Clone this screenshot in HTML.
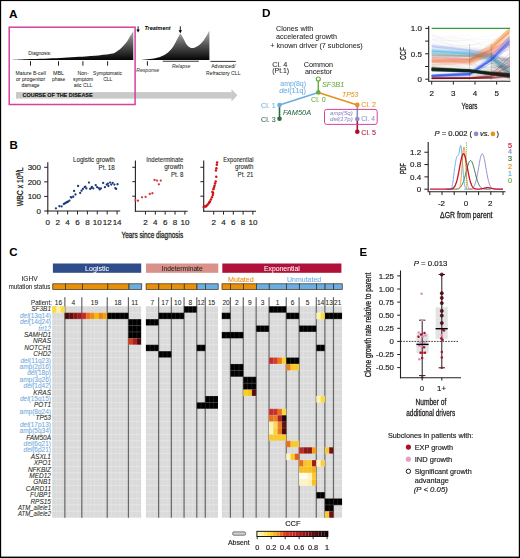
<!DOCTYPE html>
<html><head><meta charset="utf-8"><style>
html,body{margin:0;padding:0;background:#fff;}
svg{display:block;font-family:"Liberation Sans", sans-serif;}
</style></head><body>
<svg width="520" height="558" viewBox="0 0 520 558">
<defs>
<linearGradient id="gA" x1="0" y1="0" x2="0" y2="1"><stop offset="0" stop-color="#b4b4b4"/><stop offset="1" stop-color="#000"/></linearGradient>
<linearGradient id="gA2" gradientUnits="userSpaceOnUse" x1="0" y1="30" x2="0" y2="60"><stop offset="0" stop-color="#b4b4b4"/><stop offset="0.5" stop-color="#555"/><stop offset="1" stop-color="#050505"/></linearGradient>
<linearGradient id="ccfbar" x1="0" y1="0" x2="1" y2="0"><stop offset="0" stop-color="#fffbe0"/><stop offset="0.12" stop-color="#fde24a"/><stop offset="0.3" stop-color="#f39a1c"/><stop offset="0.5" stop-color="#d6332b"/><stop offset="0.75" stop-color="#8c1010"/><stop offset="1" stop-color="#000"/></linearGradient>
<filter id="bl" x="-20%" y="-20%" width="140%" height="140%"><feGaussianBlur stdDeviation="0.6"/></filter>
</defs>
<rect width="520" height="558" fill="#fff"/>
<text x="9" y="17.8" font-size="11.8" text-anchor="start" fill="#000" font-weight="bold">A</text>
<rect x="16" y="92.1" width="215.8" height="6.5" fill="#c9c9c9"/>
<polygon points="231.5,89.2 237.4,95.35 231.5,101.5" fill="#c9c9c9"/>
<text x="22.6" y="97.3" font-size="6.2" text-anchor="start" fill="#111" stroke="#111" stroke-width="0.15" font-weight="bold" textLength="70" lengthAdjust="spacingAndGlyphs">COURSE OF THE DISEASE</text>
<rect x="9.2" y="27.2" width="125.9" height="77.3" fill="none" stroke="#d6409f" stroke-width="1.5"/>
<path d="M133.3,31.1 C132.83,31.85 131.55,33.87 130.5,35.6 C129.45,37.33 128.58,39.38 127,41.5 C125.42,43.62 122.83,46.57 121,48.3 C119.17,50.03 117.45,51.03 116,51.9 C114.55,52.77 114.97,52.95 112.3,53.5 C109.63,54.05 104.05,54.75 100,55.2 C95.95,55.65 94.67,55.75 88,56.2 C81.33,56.65 69.67,57.42 60,57.9 C50.33,58.38 37.95,58.75 30,59.1 C22.05,59.45 15.25,59.85 12.3,60 L133.3,60 Z" fill="url(#gA2)"/>
<text x="39.85" y="54.8" font-size="5.5" text-anchor="middle" fill="#231f20" stroke="#231f20" stroke-width="0.04" textLength="23.3" lengthAdjust="spacingAndGlyphs">Diagnosis:</text>
<line x1="30.5" y1="61.2" x2="30.5" y2="65.7" stroke="#231f20" stroke-width="1"/>
<line x1="58.5" y1="61.2" x2="58.5" y2="65.7" stroke="#231f20" stroke-width="1"/>
<line x1="82.9" y1="61.2" x2="82.9" y2="65.7" stroke="#231f20" stroke-width="1"/>
<line x1="107.6" y1="61.2" x2="107.6" y2="65.7" stroke="#231f20" stroke-width="1"/>
<line x1="147.4" y1="61.2" x2="147.4" y2="65.7" stroke="#231f20" stroke-width="1"/>
<text x="30.65" y="75" font-size="5.5" text-anchor="middle" fill="#231f20" stroke="#231f20" stroke-width="0.04" textLength="30.3" lengthAdjust="spacingAndGlyphs">Mature B-cell</text>
<text x="30.6" y="81.3" font-size="5.5" text-anchor="middle" fill="#231f20" stroke="#231f20" stroke-width="0.04" textLength="29.2" lengthAdjust="spacingAndGlyphs">or progenitor</text>
<text x="30.45" y="87.3" font-size="5.5" text-anchor="middle" fill="#231f20" stroke="#231f20" stroke-width="0.04" textLength="17.9" lengthAdjust="spacingAndGlyphs">damage</text>
<text x="58.45" y="75" font-size="5.5" text-anchor="middle" fill="#231f20" stroke="#231f20" stroke-width="0.04" textLength="11.1" lengthAdjust="spacingAndGlyphs">MBL</text>
<text x="58.65" y="81.3" font-size="5.5" text-anchor="middle" fill="#231f20" stroke="#231f20" stroke-width="0.04" textLength="13.1" lengthAdjust="spacingAndGlyphs">phase</text>
<text x="83.05" y="75" font-size="5.5" text-anchor="middle" fill="#231f20" stroke="#231f20" stroke-width="0.04" textLength="11.3" lengthAdjust="spacingAndGlyphs">Non-</text>
<text x="83" y="81.3" font-size="5.5" text-anchor="middle" fill="#231f20" stroke="#231f20" stroke-width="0.04" textLength="20.2" lengthAdjust="spacingAndGlyphs">symptom</text>
<text x="83" y="87.3" font-size="5.5" text-anchor="middle" fill="#231f20" stroke="#231f20" stroke-width="0.04" textLength="18.6" lengthAdjust="spacingAndGlyphs">atic CLL</text>
<text x="107.6" y="75" font-size="5.5" text-anchor="middle" fill="#231f20" stroke="#231f20" stroke-width="0.04" textLength="29" lengthAdjust="spacingAndGlyphs">Symptomatic</text>
<text x="107.8" y="81.3" font-size="5.5" text-anchor="middle" fill="#231f20" stroke="#231f20" stroke-width="0.04" textLength="9.2" lengthAdjust="spacingAndGlyphs">CLL</text>
<line x1="138.1" y1="26.3" x2="138.1" y2="30.2" stroke="#000" stroke-width="0.9"/>
<polygon points="136.4,29.4 139.8,29.4 138.1,32.4" fill="#000"/>
<line x1="180.3" y1="26.3" x2="180.3" y2="31" stroke="#000" stroke-width="0.9"/>
<polygon points="178.6,30.2 182,30.2 180.3,33.2" fill="#000"/>
<text x="144.4" y="30.2" font-size="5.8" text-anchor="start" fill="#000" font-weight="bold" font-style="italic" textLength="26.2" lengthAdjust="spacingAndGlyphs">Treatment</text>
<path d="M141.4,60 C142.83,59.85 147.23,59.5 150,59.1 C152.77,58.7 155.4,58.42 158,57.6 C160.6,56.78 163.6,55.37 165.6,54.2 C167.6,53.03 168.6,52.1 170,50.6 C171.4,49.1 172.77,47.17 174,45.2 C175.23,43.23 176.37,40.8 177.4,38.8 C178.43,36.8 179.73,34.13 180.2,33.2 L180.2,33.2 C180.57,33.8 181.72,35.62 182.4,36.8 C183.08,37.98 183.53,38.93 184.3,40.3 C185.07,41.67 186.05,43.8 187,45 C187.95,46.2 188.97,47 190,47.5 C191.03,48 191.83,48.28 193.2,48 C194.57,47.72 196.45,47.1 198.2,45.8 C199.95,44.5 201.83,42.72 203.7,40.2 C205.57,37.68 208.45,32.28 209.4,30.7 L209.4,60 Z" fill="url(#gA2)"/>
<text x="147.75" y="72.3" font-size="5.5" text-anchor="middle" fill="#3a3a3a" stroke="#3a3a3a" stroke-width="0.04" font-style="italic" textLength="22.9" lengthAdjust="spacingAndGlyphs">Response</text>
<line x1="162.8" y1="61.25" x2="198.8" y2="61.25" stroke="#231f20" stroke-width="0.9"/>
<text x="181.1" y="67.6" font-size="5.5" text-anchor="middle" fill="#3a3a3a" stroke="#3a3a3a" stroke-width="0.04" font-style="italic" textLength="18.4" lengthAdjust="spacingAndGlyphs">Relapse</text>
<line x1="210.4" y1="61.4" x2="235.8" y2="61.4" stroke="#231f20" stroke-width="0.9"/>
<text x="223.35" y="67.6" font-size="5.5" text-anchor="middle" fill="#231f20" stroke="#231f20" stroke-width="0.04" textLength="24.3" lengthAdjust="spacingAndGlyphs">Advanced/</text>
<text x="223.3" y="74.8" font-size="5.5" text-anchor="middle" fill="#231f20" stroke="#231f20" stroke-width="0.04" textLength="34.4" lengthAdjust="spacingAndGlyphs">Refractory CLL</text>
<text x="9.5" y="148.9" font-size="11.5" text-anchor="start" fill="#000" font-weight="bold">B</text>
<line x1="47.8" y1="162.2" x2="47.8" y2="211.5" stroke="#231f20" stroke-width="1.1"/>
<line x1="47.3" y1="211" x2="120.2" y2="211" stroke="#231f20" stroke-width="1.1"/>
<line x1="44.2" y1="211" x2="47.8" y2="211" stroke="#231f20" stroke-width="1"/>
<text x="41" y="213.8" font-size="8.0" text-anchor="end" fill="#231f20" stroke="#231f20" stroke-width="0.18">0</text>
<line x1="44.2" y1="196.43" x2="47.8" y2="196.43" stroke="#231f20" stroke-width="1"/>
<text x="41" y="199.23" font-size="8.0" text-anchor="end" fill="#231f20" stroke="#231f20" stroke-width="0.18">100</text>
<line x1="44.2" y1="181.86" x2="47.8" y2="181.86" stroke="#231f20" stroke-width="1"/>
<text x="41" y="184.66" font-size="8.0" text-anchor="end" fill="#231f20" stroke="#231f20" stroke-width="0.18">200</text>
<line x1="44.2" y1="167.29" x2="47.8" y2="167.29" stroke="#231f20" stroke-width="1"/>
<text x="41" y="170.09" font-size="8.0" text-anchor="end" fill="#231f20" stroke="#231f20" stroke-width="0.18">300</text>
<line x1="47.8" y1="211" x2="47.8" y2="214.4" stroke="#231f20" stroke-width="1"/>
<text x="47.8" y="224.7" font-size="8.0" text-anchor="middle" fill="#231f20" stroke="#231f20" stroke-width="0.18">0</text>
<line x1="57.7" y1="211" x2="57.7" y2="214.4" stroke="#231f20" stroke-width="1"/>
<text x="57.7" y="224.7" font-size="8.0" text-anchor="middle" fill="#231f20" stroke="#231f20" stroke-width="0.18">2</text>
<line x1="67.6" y1="211" x2="67.6" y2="214.4" stroke="#231f20" stroke-width="1"/>
<text x="67.6" y="224.7" font-size="8.0" text-anchor="middle" fill="#231f20" stroke="#231f20" stroke-width="0.18">4</text>
<line x1="77.5" y1="211" x2="77.5" y2="214.4" stroke="#231f20" stroke-width="1"/>
<text x="77.5" y="224.7" font-size="8.0" text-anchor="middle" fill="#231f20" stroke="#231f20" stroke-width="0.18">6</text>
<line x1="87.4" y1="211" x2="87.4" y2="214.4" stroke="#231f20" stroke-width="1"/>
<text x="87.4" y="224.7" font-size="8.0" text-anchor="middle" fill="#231f20" stroke="#231f20" stroke-width="0.18">8</text>
<line x1="97.3" y1="211" x2="97.3" y2="214.4" stroke="#231f20" stroke-width="1"/>
<text x="97.3" y="224.7" font-size="8.0" text-anchor="middle" fill="#231f20" stroke="#231f20" stroke-width="0.18">10</text>
<line x1="107.2" y1="211" x2="107.2" y2="214.4" stroke="#231f20" stroke-width="1"/>
<text x="107.2" y="224.7" font-size="8.0" text-anchor="middle" fill="#231f20" stroke="#231f20" stroke-width="0.18">12</text>
<line x1="117.1" y1="211" x2="117.1" y2="214.4" stroke="#231f20" stroke-width="1"/>
<text x="117.1" y="224.7" font-size="8.0" text-anchor="middle" fill="#231f20" stroke="#231f20" stroke-width="0.18">14</text>
<text x="114.8" y="161.8" font-size="6.3" text-anchor="end" fill="#231f20" stroke="#231f20" stroke-width="0.08" textLength="41.9" lengthAdjust="spacingAndGlyphs">Logistic growth</text>
<text x="114.8" y="169.5" font-size="6.3" text-anchor="end" fill="#231f20" stroke="#231f20" stroke-width="0.08" textLength="16.3" lengthAdjust="spacingAndGlyphs">Pt. 18</text>
<text x="0" y="0" font-size="9.0" text-anchor="middle" fill="#231f20" stroke="#231f20" stroke-width="0.3" transform="translate(22.9,186.8) rotate(-90) scale(0.763,1)">WBC x 10<tspan font-size="5.6" dy="-3.4">9</tspan><tspan dy="3.4">/L</tspan></text>
<circle cx="55.92" cy="208.32" r="1.15" fill="#1f3a78"/>
<circle cx="59.38" cy="206.25" r="1.15" fill="#1f3a78"/>
<circle cx="61.63" cy="206.42" r="1.15" fill="#1f3a78"/>
<circle cx="63.88" cy="204" r="1.15" fill="#1f3a78"/>
<circle cx="65.61" cy="202.79" r="1.15" fill="#1f3a78"/>
<circle cx="66.83" cy="202.27" r="1.15" fill="#1f3a78"/>
<circle cx="68.04" cy="201.57" r="1.15" fill="#1f3a78"/>
<circle cx="69.42" cy="200.71" r="1.15" fill="#1f3a78"/>
<circle cx="71.5" cy="197.59" r="1.15" fill="#1f3a78"/>
<circle cx="73.23" cy="196.73" r="1.15" fill="#1f3a78"/>
<circle cx="74.09" cy="191.02" r="1.15" fill="#1f3a78"/>
<circle cx="75.48" cy="194.48" r="1.15" fill="#1f3a78"/>
<circle cx="78.08" cy="186" r="1.15" fill="#1f3a78"/>
<circle cx="80.15" cy="192.92" r="1.15" fill="#1f3a78"/>
<circle cx="81.54" cy="190.67" r="1.15" fill="#1f3a78"/>
<circle cx="82.92" cy="188.94" r="1.15" fill="#1f3a78"/>
<circle cx="84.65" cy="187.21" r="1.15" fill="#1f3a78"/>
<circle cx="86.38" cy="188.42" r="1.15" fill="#1f3a78"/>
<circle cx="88.98" cy="182.54" r="1.15" fill="#1f3a78"/>
<circle cx="90.19" cy="188.94" r="1.15" fill="#1f3a78"/>
<circle cx="91.57" cy="187.73" r="1.15" fill="#1f3a78"/>
<circle cx="93.31" cy="188.42" r="1.15" fill="#1f3a78"/>
<circle cx="95.73" cy="185.13" r="1.15" fill="#1f3a78"/>
<circle cx="97.11" cy="187.21" r="1.15" fill="#1f3a78"/>
<circle cx="99.71" cy="189.46" r="1.15" fill="#1f3a78"/>
<circle cx="100.92" cy="188.42" r="1.15" fill="#1f3a78"/>
<circle cx="103.17" cy="182.88" r="1.15" fill="#1f3a78"/>
<circle cx="104.9" cy="187.21" r="1.15" fill="#1f3a78"/>
<circle cx="106.63" cy="184.61" r="1.15" fill="#1f3a78"/>
<circle cx="108.36" cy="186" r="1.15" fill="#1f3a78"/>
<circle cx="110.09" cy="182.54" r="1.15" fill="#1f3a78"/>
<circle cx="111.3" cy="184.61" r="1.15" fill="#1f3a78"/>
<circle cx="112.69" cy="182.88" r="1.15" fill="#1f3a78"/>
<circle cx="114.42" cy="184.61" r="1.15" fill="#1f3a78"/>
<circle cx="115.29" cy="188.08" r="1.15" fill="#1f3a78"/>
<circle cx="116.15" cy="188.94" r="1.15" fill="#1f3a78"/>
<circle cx="117.54" cy="184.27" r="1.15" fill="#1f3a78"/>
<circle cx="65.1" cy="203.31" r="1.15" fill="#1f3a78"/>
<circle cx="67.35" cy="201.92" r="1.15" fill="#1f3a78"/>
<circle cx="85.34" cy="186.69" r="1.15" fill="#1f3a78"/>
<circle cx="91.92" cy="186.86" r="1.15" fill="#1f3a78"/>
<circle cx="98.84" cy="188.08" r="1.15" fill="#1f3a78"/>
<circle cx="107.84" cy="183.75" r="1.15" fill="#1f3a78"/>
<circle cx="70.81" cy="197.08" r="1.15" fill="#1f3a78"/>
<line x1="135.4" y1="160.4" x2="135.4" y2="211.8" stroke="#231f20" stroke-width="1.1"/>
<line x1="134.9" y1="211.3" x2="187.7" y2="211.3" stroke="#231f20" stroke-width="1.1"/>
<line x1="132.3" y1="167.3" x2="135.4" y2="167.3" stroke="#231f20" stroke-width="1"/>
<line x1="132.3" y1="181.7" x2="135.4" y2="181.7" stroke="#231f20" stroke-width="1"/>
<line x1="132.3" y1="196.2" x2="135.4" y2="196.2" stroke="#231f20" stroke-width="1"/>
<line x1="145.46" y1="211.3" x2="145.46" y2="214.6" stroke="#231f20" stroke-width="1"/>
<text x="145.46" y="224.7" font-size="8.0" text-anchor="middle" fill="#231f20" stroke="#231f20" stroke-width="0.18">2</text>
<line x1="155.32" y1="211.3" x2="155.32" y2="214.6" stroke="#231f20" stroke-width="1"/>
<text x="155.32" y="224.7" font-size="8.0" text-anchor="middle" fill="#231f20" stroke="#231f20" stroke-width="0.18">4</text>
<line x1="165.18" y1="211.3" x2="165.18" y2="214.6" stroke="#231f20" stroke-width="1"/>
<text x="165.18" y="224.7" font-size="8.0" text-anchor="middle" fill="#231f20" stroke="#231f20" stroke-width="0.18">6</text>
<line x1="175.04" y1="211.3" x2="175.04" y2="214.6" stroke="#231f20" stroke-width="1"/>
<text x="175.04" y="224.7" font-size="8.0" text-anchor="middle" fill="#231f20" stroke="#231f20" stroke-width="0.18">8</text>
<line x1="184.9" y1="211.3" x2="184.9" y2="214.6" stroke="#231f20" stroke-width="1"/>
<text x="184.9" y="224.7" font-size="8.0" text-anchor="middle" fill="#231f20" stroke="#231f20" stroke-width="0.18">10</text>
<text x="183.4" y="161.9" font-size="6.3" text-anchor="end" fill="#231f20" stroke="#231f20" stroke-width="0.08" textLength="37.1" lengthAdjust="spacingAndGlyphs">Indeterminate</text>
<text x="183.4" y="169.4" font-size="6.3" text-anchor="end" fill="#231f20" stroke="#231f20" stroke-width="0.08" textLength="19.2" lengthAdjust="spacingAndGlyphs">growth</text>
<text x="183.4" y="176.9" font-size="6.3" text-anchor="end" fill="#231f20" stroke="#231f20" stroke-width="0.08" textLength="12.5" lengthAdjust="spacingAndGlyphs">Pt. 8</text>
<circle cx="135.39" cy="200.05" r="1.15" fill="#d83a3a"/>
<circle cx="137.98" cy="200.77" r="1.15" fill="#d83a3a"/>
<circle cx="142.02" cy="197.31" r="1.15" fill="#d83a3a"/>
<circle cx="145.63" cy="196.88" r="1.15" fill="#d83a3a"/>
<circle cx="149.81" cy="193.99" r="1.15" fill="#d83a3a"/>
<circle cx="152.41" cy="193.27" r="1.15" fill="#d83a3a"/>
<circle cx="154.57" cy="180" r="1.15" fill="#d83a3a"/>
<circle cx="157.02" cy="180.58" r="1.15" fill="#d83a3a"/>
<circle cx="158.9" cy="184.33" r="1.15" fill="#d83a3a"/>
<circle cx="160.77" cy="180.58" r="1.15" fill="#d83a3a"/>
<line x1="203.7" y1="160.4" x2="203.7" y2="211.8" stroke="#231f20" stroke-width="1.1"/>
<line x1="203.2" y1="211.3" x2="256" y2="211.3" stroke="#231f20" stroke-width="1.1"/>
<line x1="200.4" y1="167.3" x2="203.7" y2="167.3" stroke="#231f20" stroke-width="1"/>
<line x1="200.4" y1="181.7" x2="203.7" y2="181.7" stroke="#231f20" stroke-width="1"/>
<line x1="200.4" y1="196.2" x2="203.7" y2="196.2" stroke="#231f20" stroke-width="1"/>
<line x1="213.7" y1="211.3" x2="213.7" y2="214.6" stroke="#231f20" stroke-width="1"/>
<text x="213.7" y="224.7" font-size="8.0" text-anchor="middle" fill="#231f20" stroke="#231f20" stroke-width="0.18">2</text>
<line x1="223.5" y1="211.3" x2="223.5" y2="214.6" stroke="#231f20" stroke-width="1"/>
<text x="223.5" y="224.7" font-size="8.0" text-anchor="middle" fill="#231f20" stroke="#231f20" stroke-width="0.18">4</text>
<line x1="233.3" y1="211.3" x2="233.3" y2="214.6" stroke="#231f20" stroke-width="1"/>
<text x="233.3" y="224.7" font-size="8.0" text-anchor="middle" fill="#231f20" stroke="#231f20" stroke-width="0.18">6</text>
<line x1="243.1" y1="211.3" x2="243.1" y2="214.6" stroke="#231f20" stroke-width="1"/>
<text x="243.1" y="224.7" font-size="8.0" text-anchor="middle" fill="#231f20" stroke="#231f20" stroke-width="0.18">8</text>
<line x1="252.9" y1="211.3" x2="252.9" y2="214.6" stroke="#231f20" stroke-width="1"/>
<text x="252.9" y="224.7" font-size="8.0" text-anchor="middle" fill="#231f20" stroke="#231f20" stroke-width="0.18">10</text>
<text x="253.5" y="161.9" font-size="6.3" text-anchor="end" fill="#231f20" stroke="#231f20" stroke-width="0.08" textLength="30.3" lengthAdjust="spacingAndGlyphs">Exponential</text>
<text x="253.5" y="169.4" font-size="6.3" text-anchor="end" fill="#231f20" stroke="#231f20" stroke-width="0.08" textLength="18.5" lengthAdjust="spacingAndGlyphs">growth</text>
<text x="253.5" y="176.9" font-size="6.3" text-anchor="end" fill="#231f20" stroke="#231f20" stroke-width="0.08" textLength="15.9" lengthAdjust="spacingAndGlyphs">Pt. 21</text>
<circle cx="203.7" cy="206.97" r="1.25" fill="#d01414"/>
<circle cx="205.14" cy="206.25" r="1.25" fill="#d01414"/>
<circle cx="206.59" cy="205.68" r="1.25" fill="#d01414"/>
<circle cx="207.6" cy="204.81" r="1.25" fill="#d01414"/>
<circle cx="208.75" cy="203.37" r="1.25" fill="#d01414"/>
<circle cx="209.9" cy="201.49" r="1.25" fill="#d01414"/>
<circle cx="210.91" cy="199.47" r="1.25" fill="#d01414"/>
<circle cx="211.92" cy="197.31" r="1.25" fill="#d01414"/>
<circle cx="212.79" cy="195" r="1.25" fill="#d01414"/>
<circle cx="213.08" cy="192.98" r="1.25" fill="#d01414"/>
<circle cx="212.36" cy="192.12" r="1.25" fill="#d01414"/>
<circle cx="213.37" cy="189.23" r="1.25" fill="#d01414"/>
<circle cx="214.52" cy="185.63" r="1.25" fill="#d01414"/>
<circle cx="215.67" cy="181.44" r="1.25" fill="#d01414"/>
<circle cx="216.25" cy="176.83" r="1.25" fill="#d01414"/>
<circle cx="215.96" cy="170.48" r="1.25" fill="#d01414"/>
<circle cx="216.4" cy="168.17" r="1.25" fill="#d01414"/>
<circle cx="216.83" cy="164.71" r="1.25" fill="#d01414"/>
<circle cx="217.12" cy="162.4" r="1.25" fill="#d01414"/>
<circle cx="205.87" cy="206.54" r="1.25" fill="#d01414"/>
<circle cx="209.33" cy="202.21" r="1.25" fill="#d01414"/>
<circle cx="213.94" cy="187.5" r="1.25" fill="#d01414"/>
<circle cx="215.1" cy="183.46" r="1.25" fill="#d01414"/>
<text x="152.3" y="237.5" font-size="8.8" text-anchor="middle" fill="#231f20" stroke="#231f20" stroke-width="0.3" textLength="61.6" lengthAdjust="spacingAndGlyphs">Years since diagnosis</text>
<text x="9.3" y="256.3" font-size="11.5" text-anchor="start" fill="#000" font-weight="bold">C</text>
<text x="51" y="311.4" font-size="6.5" text-anchor="end" fill="#231f20" stroke="#231f20" stroke-width="0.05" font-style="italic">SF3B1</text>
<text x="51" y="317.81" font-size="6.5" text-anchor="end" fill="#6fa8dc" stroke="#6fa8dc" stroke-width="0.06"><tspan font-style="italic">del</tspan>(13q14)</text>
<text x="51" y="324.21" font-size="6.5" text-anchor="end" fill="#6fa8dc" stroke="#6fa8dc" stroke-width="0.06"><tspan font-style="italic">del</tspan>(14q24)</text>
<text x="51" y="330.62" font-size="6.5" text-anchor="end" fill="#6fa8dc" stroke="#6fa8dc" stroke-width="0.06" font-style="italic">tri12</text>
<text x="51" y="337.03" font-size="6.5" text-anchor="end" fill="#231f20" stroke="#231f20" stroke-width="0.05" font-style="italic">SAMHD1</text>
<text x="51" y="343.43" font-size="6.5" text-anchor="end" fill="#231f20" stroke="#231f20" stroke-width="0.05" font-style="italic">NRAS</text>
<text x="51" y="349.84" font-size="6.5" text-anchor="end" fill="#231f20" stroke="#231f20" stroke-width="0.05" font-style="italic">NOTCH1</text>
<text x="51" y="356.24" font-size="6.5" text-anchor="end" fill="#231f20" stroke="#231f20" stroke-width="0.05" font-style="italic">CHD2</text>
<text x="51" y="362.65" font-size="6.5" text-anchor="end" fill="#6fa8dc" stroke="#6fa8dc" stroke-width="0.06"><tspan font-style="italic">del</tspan>(11q23)</text>
<text x="51" y="369.06" font-size="6.5" text-anchor="end" fill="#6fa8dc" stroke="#6fa8dc" stroke-width="0.06">amp(2p16)</text>
<text x="51" y="375.46" font-size="6.5" text-anchor="end" fill="#6fa8dc" stroke="#6fa8dc" stroke-width="0.06"><tspan font-style="italic">del</tspan>(18p)</text>
<text x="51" y="381.87" font-size="6.5" text-anchor="end" fill="#6fa8dc" stroke="#6fa8dc" stroke-width="0.06">amp(3q26)</text>
<text x="51" y="388.27" font-size="6.5" text-anchor="end" fill="#6fa8dc" stroke="#6fa8dc" stroke-width="0.06"><tspan font-style="italic">del</tspan>(1q42)</text>
<text x="51" y="394.68" font-size="6.5" text-anchor="end" fill="#231f20" stroke="#231f20" stroke-width="0.05" font-style="italic">KRAS</text>
<text x="51" y="401.09" font-size="6.5" text-anchor="end" fill="#6fa8dc" stroke="#6fa8dc" stroke-width="0.06"><tspan font-style="italic">del</tspan>(15q15)</text>
<text x="51" y="407.49" font-size="6.5" text-anchor="end" fill="#231f20" stroke="#231f20" stroke-width="0.05" font-style="italic">POT1</text>
<text x="51" y="413.9" font-size="6.5" text-anchor="end" fill="#6fa8dc" stroke="#6fa8dc" stroke-width="0.06">amp(8q24)</text>
<text x="51" y="420.3" font-size="6.5" text-anchor="end" fill="#231f20" stroke="#231f20" stroke-width="0.05" font-style="italic">TP53</text>
<text x="51" y="426.71" font-size="6.5" text-anchor="end" fill="#6fa8dc" stroke="#6fa8dc" stroke-width="0.06"><tspan font-style="italic">del</tspan>(17p13)</text>
<text x="51" y="433.12" font-size="6.5" text-anchor="end" fill="#6fa8dc" stroke="#6fa8dc" stroke-width="0.06">amp(5q34)</text>
<text x="51" y="439.52" font-size="6.5" text-anchor="end" fill="#231f20" stroke="#231f20" stroke-width="0.05" font-style="italic">FAM50A</text>
<text x="51" y="445.93" font-size="6.5" text-anchor="end" fill="#6fa8dc" stroke="#6fa8dc" stroke-width="0.06"><tspan font-style="italic">del</tspan>(6q21)</text>
<text x="51" y="452.33" font-size="6.5" text-anchor="end" fill="#6fa8dc" stroke="#6fa8dc" stroke-width="0.06"><tspan font-style="italic">del</tspan>(6p21)</text>
<text x="51" y="458.74" font-size="6.5" text-anchor="end" fill="#231f20" stroke="#231f20" stroke-width="0.05" font-style="italic">ASXL1</text>
<text x="51" y="465.15" font-size="6.5" text-anchor="end" fill="#231f20" stroke="#231f20" stroke-width="0.05" font-style="italic">XPO1</text>
<text x="51" y="471.55" font-size="6.5" text-anchor="end" fill="#231f20" stroke="#231f20" stroke-width="0.05" font-style="italic">NFKBIZ</text>
<text x="51" y="477.96" font-size="6.5" text-anchor="end" fill="#231f20" stroke="#231f20" stroke-width="0.05" font-style="italic">MED12</text>
<text x="51" y="484.36" font-size="6.5" text-anchor="end" fill="#231f20" stroke="#231f20" stroke-width="0.05" font-style="italic">GNB1</text>
<text x="51" y="490.77" font-size="6.5" text-anchor="end" fill="#231f20" stroke="#231f20" stroke-width="0.05" font-style="italic">CARD11</text>
<text x="51" y="497.18" font-size="6.5" text-anchor="end" fill="#231f20" stroke="#231f20" stroke-width="0.05" font-style="italic">FUBP1</text>
<text x="51" y="503.58" font-size="6.5" text-anchor="end" fill="#231f20" stroke="#231f20" stroke-width="0.05" font-style="italic">RPS15</text>
<text x="51" y="509.99" font-size="6.5" text-anchor="end" fill="#231f20" stroke="#231f20" stroke-width="0.05" font-style="italic" textLength="33" lengthAdjust="spacingAndGlyphs">ATM_allele1</text>
<text x="51" y="516.39" font-size="6.5" text-anchor="end" fill="#231f20" stroke="#231f20" stroke-width="0.05" font-style="italic" textLength="33" lengthAdjust="spacingAndGlyphs">ATM_allele2</text>
<rect x="52.15" y="306.3" width="89" height="211.4" fill="#dadada"/>
<text x="58.51" y="304.7" font-size="6.6" text-anchor="middle" fill="#231f20" stroke="#231f20" stroke-width="0.06">16</text>
<text x="73.34" y="304.7" font-size="6.6" text-anchor="middle" fill="#231f20" stroke="#231f20" stroke-width="0.06">4</text>
<text x="94.53" y="304.7" font-size="6.6" text-anchor="middle" fill="#231f20" stroke="#231f20" stroke-width="0.06">19</text>
<text x="117.84" y="304.7" font-size="6.6" text-anchor="middle" fill="#231f20" stroke="#231f20" stroke-width="0.06">18</text>
<text x="134.79" y="304.7" font-size="6.6" text-anchor="middle" fill="#231f20" stroke="#231f20" stroke-width="0.06">11</text>
<rect x="145.9" y="306.3" width="72.08" height="211.4" fill="#dadada"/>
<text x="152.26" y="304.7" font-size="6.6" text-anchor="middle" fill="#231f20" stroke="#231f20" stroke-width="0.06">7</text>
<text x="164.98" y="304.7" font-size="6.6" text-anchor="middle" fill="#231f20" stroke="#231f20" stroke-width="0.06">17</text>
<text x="177.7" y="304.7" font-size="6.6" text-anchor="middle" fill="#231f20" stroke="#231f20" stroke-width="0.06">10</text>
<text x="190.42" y="304.7" font-size="6.6" text-anchor="middle" fill="#231f20" stroke="#231f20" stroke-width="0.06">8</text>
<text x="201.02" y="304.7" font-size="6.6" text-anchor="middle" fill="#231f20" stroke="#231f20" stroke-width="0.06">12</text>
<text x="211.62" y="304.7" font-size="6.6" text-anchor="middle" fill="#231f20" stroke="#231f20" stroke-width="0.06">15</text>
<rect x="221.8" y="306.3" width="120.26" height="211.4" fill="#dadada"/>
<text x="226.09" y="304.7" font-size="6.6" text-anchor="middle" fill="#231f20" stroke="#231f20" stroke-width="0.06">20</text>
<text x="236.83" y="304.7" font-size="6.6" text-anchor="middle" fill="#231f20" stroke="#231f20" stroke-width="0.06">2</text>
<text x="249.72" y="304.7" font-size="6.6" text-anchor="middle" fill="#231f20" stroke="#231f20" stroke-width="0.06">9</text>
<text x="262.6" y="304.7" font-size="6.6" text-anchor="middle" fill="#231f20" stroke="#231f20" stroke-width="0.06">3</text>
<text x="277.63" y="304.7" font-size="6.6" text-anchor="middle" fill="#231f20" stroke="#231f20" stroke-width="0.06">1</text>
<text x="292.67" y="304.7" font-size="6.6" text-anchor="middle" fill="#231f20" stroke="#231f20" stroke-width="0.06">6</text>
<text x="307.7" y="304.7" font-size="6.6" text-anchor="middle" fill="#231f20" stroke="#231f20" stroke-width="0.06">5</text>
<text x="320.59" y="304.7" font-size="6.6" text-anchor="middle" fill="#231f20" stroke="#231f20" stroke-width="0.06">14</text>
<text x="329.18" y="304.7" font-size="6.6" text-anchor="middle" fill="#231f20" stroke="#231f20" stroke-width="0.06">13</text>
<text x="337.76" y="304.7" font-size="6.6" text-anchor="middle" fill="#231f20" stroke="#231f20" stroke-width="0.06">21</text>
<line x1="52.15" y1="312.71" x2="141.15" y2="312.71" stroke="#fff" stroke-width="0.6" opacity="0.5"/>
<line x1="52.15" y1="319.11" x2="141.15" y2="319.11" stroke="#fff" stroke-width="0.6" opacity="0.5"/>
<line x1="52.15" y1="325.52" x2="141.15" y2="325.52" stroke="#fff" stroke-width="0.6" opacity="0.5"/>
<line x1="52.15" y1="331.92" x2="141.15" y2="331.92" stroke="#fff" stroke-width="0.6" opacity="0.5"/>
<line x1="52.15" y1="338.33" x2="141.15" y2="338.33" stroke="#fff" stroke-width="0.6" opacity="0.5"/>
<line x1="52.15" y1="344.74" x2="141.15" y2="344.74" stroke="#fff" stroke-width="0.6" opacity="0.5"/>
<line x1="52.15" y1="351.14" x2="141.15" y2="351.14" stroke="#fff" stroke-width="0.6" opacity="0.5"/>
<line x1="52.15" y1="357.55" x2="141.15" y2="357.55" stroke="#fff" stroke-width="0.6" opacity="0.5"/>
<line x1="52.15" y1="363.95" x2="141.15" y2="363.95" stroke="#fff" stroke-width="0.6" opacity="0.5"/>
<line x1="52.15" y1="370.36" x2="141.15" y2="370.36" stroke="#fff" stroke-width="0.6" opacity="0.5"/>
<line x1="52.15" y1="376.77" x2="141.15" y2="376.77" stroke="#fff" stroke-width="0.6" opacity="0.5"/>
<line x1="52.15" y1="383.17" x2="141.15" y2="383.17" stroke="#fff" stroke-width="0.6" opacity="0.5"/>
<line x1="52.15" y1="389.58" x2="141.15" y2="389.58" stroke="#fff" stroke-width="0.6" opacity="0.5"/>
<line x1="52.15" y1="395.98" x2="141.15" y2="395.98" stroke="#fff" stroke-width="0.6" opacity="0.5"/>
<line x1="52.15" y1="402.39" x2="141.15" y2="402.39" stroke="#fff" stroke-width="0.6" opacity="0.5"/>
<line x1="52.15" y1="408.8" x2="141.15" y2="408.8" stroke="#fff" stroke-width="0.6" opacity="0.5"/>
<line x1="52.15" y1="415.2" x2="141.15" y2="415.2" stroke="#fff" stroke-width="0.6" opacity="0.5"/>
<line x1="52.15" y1="421.61" x2="141.15" y2="421.61" stroke="#fff" stroke-width="0.6" opacity="0.5"/>
<line x1="52.15" y1="428.01" x2="141.15" y2="428.01" stroke="#fff" stroke-width="0.6" opacity="0.5"/>
<line x1="52.15" y1="434.42" x2="141.15" y2="434.42" stroke="#fff" stroke-width="0.6" opacity="0.5"/>
<line x1="52.15" y1="440.83" x2="141.15" y2="440.83" stroke="#fff" stroke-width="0.6" opacity="0.5"/>
<line x1="52.15" y1="447.23" x2="141.15" y2="447.23" stroke="#fff" stroke-width="0.6" opacity="0.5"/>
<line x1="52.15" y1="453.64" x2="141.15" y2="453.64" stroke="#fff" stroke-width="0.6" opacity="0.5"/>
<line x1="52.15" y1="460.04" x2="141.15" y2="460.04" stroke="#fff" stroke-width="0.6" opacity="0.5"/>
<line x1="52.15" y1="466.45" x2="141.15" y2="466.45" stroke="#fff" stroke-width="0.6" opacity="0.5"/>
<line x1="52.15" y1="472.86" x2="141.15" y2="472.86" stroke="#fff" stroke-width="0.6" opacity="0.5"/>
<line x1="52.15" y1="479.26" x2="141.15" y2="479.26" stroke="#fff" stroke-width="0.6" opacity="0.5"/>
<line x1="52.15" y1="485.67" x2="141.15" y2="485.67" stroke="#fff" stroke-width="0.6" opacity="0.5"/>
<line x1="52.15" y1="492.07" x2="141.15" y2="492.07" stroke="#fff" stroke-width="0.6" opacity="0.5"/>
<line x1="52.15" y1="498.48" x2="141.15" y2="498.48" stroke="#fff" stroke-width="0.6" opacity="0.5"/>
<line x1="52.15" y1="504.89" x2="141.15" y2="504.89" stroke="#fff" stroke-width="0.6" opacity="0.5"/>
<line x1="52.15" y1="511.29" x2="141.15" y2="511.29" stroke="#fff" stroke-width="0.6" opacity="0.5"/>
<line x1="56.39" y1="306.3" x2="56.39" y2="517.7" stroke="#fff" stroke-width="0.45" opacity="0.38"/>
<line x1="60.63" y1="306.3" x2="60.63" y2="517.7" stroke="#fff" stroke-width="0.45" opacity="0.38"/>
<line x1="69.1" y1="306.3" x2="69.1" y2="517.7" stroke="#fff" stroke-width="0.45" opacity="0.38"/>
<line x1="73.34" y1="306.3" x2="73.34" y2="517.7" stroke="#fff" stroke-width="0.45" opacity="0.38"/>
<line x1="77.58" y1="306.3" x2="77.58" y2="517.7" stroke="#fff" stroke-width="0.45" opacity="0.38"/>
<line x1="86.05" y1="306.3" x2="86.05" y2="517.7" stroke="#fff" stroke-width="0.45" opacity="0.38"/>
<line x1="90.29" y1="306.3" x2="90.29" y2="517.7" stroke="#fff" stroke-width="0.45" opacity="0.38"/>
<line x1="94.53" y1="306.3" x2="94.53" y2="517.7" stroke="#fff" stroke-width="0.45" opacity="0.38"/>
<line x1="98.77" y1="306.3" x2="98.77" y2="517.7" stroke="#fff" stroke-width="0.45" opacity="0.38"/>
<line x1="103.01" y1="306.3" x2="103.01" y2="517.7" stroke="#fff" stroke-width="0.45" opacity="0.38"/>
<line x1="111.48" y1="306.3" x2="111.48" y2="517.7" stroke="#fff" stroke-width="0.45" opacity="0.38"/>
<line x1="115.72" y1="306.3" x2="115.72" y2="517.7" stroke="#fff" stroke-width="0.45" opacity="0.38"/>
<line x1="119.96" y1="306.3" x2="119.96" y2="517.7" stroke="#fff" stroke-width="0.45" opacity="0.38"/>
<line x1="124.2" y1="306.3" x2="124.2" y2="517.7" stroke="#fff" stroke-width="0.45" opacity="0.38"/>
<line x1="132.67" y1="306.3" x2="132.67" y2="517.7" stroke="#fff" stroke-width="0.45" opacity="0.38"/>
<line x1="136.91" y1="306.3" x2="136.91" y2="517.7" stroke="#fff" stroke-width="0.45" opacity="0.38"/>
<line x1="145.9" y1="312.71" x2="217.98" y2="312.71" stroke="#fff" stroke-width="0.6" opacity="0.5"/>
<line x1="145.9" y1="319.11" x2="217.98" y2="319.11" stroke="#fff" stroke-width="0.6" opacity="0.5"/>
<line x1="145.9" y1="325.52" x2="217.98" y2="325.52" stroke="#fff" stroke-width="0.6" opacity="0.5"/>
<line x1="145.9" y1="331.92" x2="217.98" y2="331.92" stroke="#fff" stroke-width="0.6" opacity="0.5"/>
<line x1="145.9" y1="338.33" x2="217.98" y2="338.33" stroke="#fff" stroke-width="0.6" opacity="0.5"/>
<line x1="145.9" y1="344.74" x2="217.98" y2="344.74" stroke="#fff" stroke-width="0.6" opacity="0.5"/>
<line x1="145.9" y1="351.14" x2="217.98" y2="351.14" stroke="#fff" stroke-width="0.6" opacity="0.5"/>
<line x1="145.9" y1="357.55" x2="217.98" y2="357.55" stroke="#fff" stroke-width="0.6" opacity="0.5"/>
<line x1="145.9" y1="363.95" x2="217.98" y2="363.95" stroke="#fff" stroke-width="0.6" opacity="0.5"/>
<line x1="145.9" y1="370.36" x2="217.98" y2="370.36" stroke="#fff" stroke-width="0.6" opacity="0.5"/>
<line x1="145.9" y1="376.77" x2="217.98" y2="376.77" stroke="#fff" stroke-width="0.6" opacity="0.5"/>
<line x1="145.9" y1="383.17" x2="217.98" y2="383.17" stroke="#fff" stroke-width="0.6" opacity="0.5"/>
<line x1="145.9" y1="389.58" x2="217.98" y2="389.58" stroke="#fff" stroke-width="0.6" opacity="0.5"/>
<line x1="145.9" y1="395.98" x2="217.98" y2="395.98" stroke="#fff" stroke-width="0.6" opacity="0.5"/>
<line x1="145.9" y1="402.39" x2="217.98" y2="402.39" stroke="#fff" stroke-width="0.6" opacity="0.5"/>
<line x1="145.9" y1="408.8" x2="217.98" y2="408.8" stroke="#fff" stroke-width="0.6" opacity="0.5"/>
<line x1="145.9" y1="415.2" x2="217.98" y2="415.2" stroke="#fff" stroke-width="0.6" opacity="0.5"/>
<line x1="145.9" y1="421.61" x2="217.98" y2="421.61" stroke="#fff" stroke-width="0.6" opacity="0.5"/>
<line x1="145.9" y1="428.01" x2="217.98" y2="428.01" stroke="#fff" stroke-width="0.6" opacity="0.5"/>
<line x1="145.9" y1="434.42" x2="217.98" y2="434.42" stroke="#fff" stroke-width="0.6" opacity="0.5"/>
<line x1="145.9" y1="440.83" x2="217.98" y2="440.83" stroke="#fff" stroke-width="0.6" opacity="0.5"/>
<line x1="145.9" y1="447.23" x2="217.98" y2="447.23" stroke="#fff" stroke-width="0.6" opacity="0.5"/>
<line x1="145.9" y1="453.64" x2="217.98" y2="453.64" stroke="#fff" stroke-width="0.6" opacity="0.5"/>
<line x1="145.9" y1="460.04" x2="217.98" y2="460.04" stroke="#fff" stroke-width="0.6" opacity="0.5"/>
<line x1="145.9" y1="466.45" x2="217.98" y2="466.45" stroke="#fff" stroke-width="0.6" opacity="0.5"/>
<line x1="145.9" y1="472.86" x2="217.98" y2="472.86" stroke="#fff" stroke-width="0.6" opacity="0.5"/>
<line x1="145.9" y1="479.26" x2="217.98" y2="479.26" stroke="#fff" stroke-width="0.6" opacity="0.5"/>
<line x1="145.9" y1="485.67" x2="217.98" y2="485.67" stroke="#fff" stroke-width="0.6" opacity="0.5"/>
<line x1="145.9" y1="492.07" x2="217.98" y2="492.07" stroke="#fff" stroke-width="0.6" opacity="0.5"/>
<line x1="145.9" y1="498.48" x2="217.98" y2="498.48" stroke="#fff" stroke-width="0.6" opacity="0.5"/>
<line x1="145.9" y1="504.89" x2="217.98" y2="504.89" stroke="#fff" stroke-width="0.6" opacity="0.5"/>
<line x1="145.9" y1="511.29" x2="217.98" y2="511.29" stroke="#fff" stroke-width="0.6" opacity="0.5"/>
<line x1="150.14" y1="306.3" x2="150.14" y2="517.7" stroke="#fff" stroke-width="0.45" opacity="0.38"/>
<line x1="154.38" y1="306.3" x2="154.38" y2="517.7" stroke="#fff" stroke-width="0.45" opacity="0.38"/>
<line x1="162.86" y1="306.3" x2="162.86" y2="517.7" stroke="#fff" stroke-width="0.45" opacity="0.38"/>
<line x1="167.1" y1="306.3" x2="167.1" y2="517.7" stroke="#fff" stroke-width="0.45" opacity="0.38"/>
<line x1="175.58" y1="306.3" x2="175.58" y2="517.7" stroke="#fff" stroke-width="0.45" opacity="0.38"/>
<line x1="179.82" y1="306.3" x2="179.82" y2="517.7" stroke="#fff" stroke-width="0.45" opacity="0.38"/>
<line x1="188.3" y1="306.3" x2="188.3" y2="517.7" stroke="#fff" stroke-width="0.45" opacity="0.38"/>
<line x1="192.54" y1="306.3" x2="192.54" y2="517.7" stroke="#fff" stroke-width="0.45" opacity="0.38"/>
<line x1="201.02" y1="306.3" x2="201.02" y2="517.7" stroke="#fff" stroke-width="0.45" opacity="0.38"/>
<line x1="209.5" y1="306.3" x2="209.5" y2="517.7" stroke="#fff" stroke-width="0.45" opacity="0.38"/>
<line x1="213.74" y1="306.3" x2="213.74" y2="517.7" stroke="#fff" stroke-width="0.45" opacity="0.38"/>
<line x1="221.8" y1="312.71" x2="342.06" y2="312.71" stroke="#fff" stroke-width="0.6" opacity="0.5"/>
<line x1="221.8" y1="319.11" x2="342.06" y2="319.11" stroke="#fff" stroke-width="0.6" opacity="0.5"/>
<line x1="221.8" y1="325.52" x2="342.06" y2="325.52" stroke="#fff" stroke-width="0.6" opacity="0.5"/>
<line x1="221.8" y1="331.92" x2="342.06" y2="331.92" stroke="#fff" stroke-width="0.6" opacity="0.5"/>
<line x1="221.8" y1="338.33" x2="342.06" y2="338.33" stroke="#fff" stroke-width="0.6" opacity="0.5"/>
<line x1="221.8" y1="344.74" x2="342.06" y2="344.74" stroke="#fff" stroke-width="0.6" opacity="0.5"/>
<line x1="221.8" y1="351.14" x2="342.06" y2="351.14" stroke="#fff" stroke-width="0.6" opacity="0.5"/>
<line x1="221.8" y1="357.55" x2="342.06" y2="357.55" stroke="#fff" stroke-width="0.6" opacity="0.5"/>
<line x1="221.8" y1="363.95" x2="342.06" y2="363.95" stroke="#fff" stroke-width="0.6" opacity="0.5"/>
<line x1="221.8" y1="370.36" x2="342.06" y2="370.36" stroke="#fff" stroke-width="0.6" opacity="0.5"/>
<line x1="221.8" y1="376.77" x2="342.06" y2="376.77" stroke="#fff" stroke-width="0.6" opacity="0.5"/>
<line x1="221.8" y1="383.17" x2="342.06" y2="383.17" stroke="#fff" stroke-width="0.6" opacity="0.5"/>
<line x1="221.8" y1="389.58" x2="342.06" y2="389.58" stroke="#fff" stroke-width="0.6" opacity="0.5"/>
<line x1="221.8" y1="395.98" x2="342.06" y2="395.98" stroke="#fff" stroke-width="0.6" opacity="0.5"/>
<line x1="221.8" y1="402.39" x2="342.06" y2="402.39" stroke="#fff" stroke-width="0.6" opacity="0.5"/>
<line x1="221.8" y1="408.8" x2="342.06" y2="408.8" stroke="#fff" stroke-width="0.6" opacity="0.5"/>
<line x1="221.8" y1="415.2" x2="342.06" y2="415.2" stroke="#fff" stroke-width="0.6" opacity="0.5"/>
<line x1="221.8" y1="421.61" x2="342.06" y2="421.61" stroke="#fff" stroke-width="0.6" opacity="0.5"/>
<line x1="221.8" y1="428.01" x2="342.06" y2="428.01" stroke="#fff" stroke-width="0.6" opacity="0.5"/>
<line x1="221.8" y1="434.42" x2="342.06" y2="434.42" stroke="#fff" stroke-width="0.6" opacity="0.5"/>
<line x1="221.8" y1="440.83" x2="342.06" y2="440.83" stroke="#fff" stroke-width="0.6" opacity="0.5"/>
<line x1="221.8" y1="447.23" x2="342.06" y2="447.23" stroke="#fff" stroke-width="0.6" opacity="0.5"/>
<line x1="221.8" y1="453.64" x2="342.06" y2="453.64" stroke="#fff" stroke-width="0.6" opacity="0.5"/>
<line x1="221.8" y1="460.04" x2="342.06" y2="460.04" stroke="#fff" stroke-width="0.6" opacity="0.5"/>
<line x1="221.8" y1="466.45" x2="342.06" y2="466.45" stroke="#fff" stroke-width="0.6" opacity="0.5"/>
<line x1="221.8" y1="472.86" x2="342.06" y2="472.86" stroke="#fff" stroke-width="0.6" opacity="0.5"/>
<line x1="221.8" y1="479.26" x2="342.06" y2="479.26" stroke="#fff" stroke-width="0.6" opacity="0.5"/>
<line x1="221.8" y1="485.67" x2="342.06" y2="485.67" stroke="#fff" stroke-width="0.6" opacity="0.5"/>
<line x1="221.8" y1="492.07" x2="342.06" y2="492.07" stroke="#fff" stroke-width="0.6" opacity="0.5"/>
<line x1="221.8" y1="498.48" x2="342.06" y2="498.48" stroke="#fff" stroke-width="0.6" opacity="0.5"/>
<line x1="221.8" y1="504.89" x2="342.06" y2="504.89" stroke="#fff" stroke-width="0.6" opacity="0.5"/>
<line x1="221.8" y1="511.29" x2="342.06" y2="511.29" stroke="#fff" stroke-width="0.6" opacity="0.5"/>
<line x1="226.09" y1="306.3" x2="226.09" y2="517.7" stroke="#fff" stroke-width="0.45" opacity="0.38"/>
<line x1="234.69" y1="306.3" x2="234.69" y2="517.7" stroke="#fff" stroke-width="0.45" opacity="0.38"/>
<line x1="238.98" y1="306.3" x2="238.98" y2="517.7" stroke="#fff" stroke-width="0.45" opacity="0.38"/>
<line x1="247.57" y1="306.3" x2="247.57" y2="517.7" stroke="#fff" stroke-width="0.45" opacity="0.38"/>
<line x1="251.87" y1="306.3" x2="251.87" y2="517.7" stroke="#fff" stroke-width="0.45" opacity="0.38"/>
<line x1="260.46" y1="306.3" x2="260.46" y2="517.7" stroke="#fff" stroke-width="0.45" opacity="0.38"/>
<line x1="264.75" y1="306.3" x2="264.75" y2="517.7" stroke="#fff" stroke-width="0.45" opacity="0.38"/>
<line x1="273.34" y1="306.3" x2="273.34" y2="517.7" stroke="#fff" stroke-width="0.45" opacity="0.38"/>
<line x1="277.63" y1="306.3" x2="277.63" y2="517.7" stroke="#fff" stroke-width="0.45" opacity="0.38"/>
<line x1="281.93" y1="306.3" x2="281.93" y2="517.7" stroke="#fff" stroke-width="0.45" opacity="0.38"/>
<line x1="290.52" y1="306.3" x2="290.52" y2="517.7" stroke="#fff" stroke-width="0.45" opacity="0.38"/>
<line x1="294.81" y1="306.3" x2="294.81" y2="517.7" stroke="#fff" stroke-width="0.45" opacity="0.38"/>
<line x1="303.41" y1="306.3" x2="303.41" y2="517.7" stroke="#fff" stroke-width="0.45" opacity="0.38"/>
<line x1="307.7" y1="306.3" x2="307.7" y2="517.7" stroke="#fff" stroke-width="0.45" opacity="0.38"/>
<line x1="312" y1="306.3" x2="312" y2="517.7" stroke="#fff" stroke-width="0.45" opacity="0.38"/>
<line x1="320.59" y1="306.3" x2="320.59" y2="517.7" stroke="#fff" stroke-width="0.45" opacity="0.38"/>
<line x1="329.18" y1="306.3" x2="329.18" y2="517.7" stroke="#fff" stroke-width="0.45" opacity="0.38"/>
<line x1="337.76" y1="306.3" x2="337.76" y2="517.7" stroke="#fff" stroke-width="0.45" opacity="0.38"/>
<line x1="64.86" y1="297.2" x2="64.86" y2="517.7" stroke="#666" stroke-width="1.2"/>
<line x1="81.82" y1="297.2" x2="81.82" y2="517.7" stroke="#666" stroke-width="1.2"/>
<line x1="107.24" y1="297.2" x2="107.24" y2="517.7" stroke="#666" stroke-width="1.2"/>
<line x1="128.43" y1="297.2" x2="128.43" y2="517.7" stroke="#666" stroke-width="1.2"/>
<line x1="158.62" y1="297.2" x2="158.62" y2="517.7" stroke="#666" stroke-width="1.2"/>
<line x1="171.34" y1="297.2" x2="171.34" y2="517.7" stroke="#666" stroke-width="1.2"/>
<line x1="184.06" y1="297.2" x2="184.06" y2="517.7" stroke="#666" stroke-width="1.2"/>
<line x1="196.78" y1="297.2" x2="196.78" y2="517.7" stroke="#666" stroke-width="1.2"/>
<line x1="205.26" y1="297.2" x2="205.26" y2="517.7" stroke="#666" stroke-width="1.2"/>
<line x1="230.39" y1="297.2" x2="230.39" y2="517.7" stroke="#666" stroke-width="1.2"/>
<line x1="243.28" y1="297.2" x2="243.28" y2="517.7" stroke="#666" stroke-width="1.2"/>
<line x1="256.16" y1="297.2" x2="256.16" y2="517.7" stroke="#666" stroke-width="1.2"/>
<line x1="269.05" y1="297.2" x2="269.05" y2="517.7" stroke="#666" stroke-width="1.2"/>
<line x1="286.23" y1="297.2" x2="286.23" y2="517.7" stroke="#666" stroke-width="1.2"/>
<line x1="299.11" y1="297.2" x2="299.11" y2="517.7" stroke="#666" stroke-width="1.2"/>
<line x1="316.29" y1="297.2" x2="316.29" y2="517.7" stroke="#666" stroke-width="1.2"/>
<line x1="324.88" y1="297.2" x2="324.88" y2="517.7" stroke="#666" stroke-width="1.2"/>
<line x1="333.47" y1="297.2" x2="333.47" y2="517.7" stroke="#666" stroke-width="1.2"/>
<rect x="52.15" y="306.3" width="4.54" height="6.41" fill="#fadc3c"/>
<rect x="56.39" y="306.3" width="4.54" height="6.41" fill="#fdf2a8"/>
<rect x="60.63" y="306.3" width="4.24" height="6.41" fill="#fadc3c"/>
<rect x="64.86" y="312.71" width="4.54" height="6.41" fill="#4a0808"/>
<rect x="69.1" y="312.71" width="4.54" height="6.41" fill="#650d0d"/>
<rect x="73.34" y="312.71" width="4.54" height="6.41" fill="#861515"/>
<rect x="77.58" y="312.71" width="4.54" height="6.41" fill="#9c1c1c"/>
<rect x="81.82" y="312.71" width="4.54" height="6.41" fill="#c4282a"/>
<rect x="86.05" y="312.71" width="4.54" height="6.41" fill="#e87218"/>
<rect x="90.29" y="312.71" width="4.54" height="6.41" fill="#ec8a14"/>
<rect x="94.53" y="312.71" width="4.54" height="6.41" fill="#f5b80a"/>
<rect x="98.77" y="312.71" width="4.54" height="6.41" fill="#ea8218"/>
<rect x="103.01" y="312.71" width="4.54" height="6.41" fill="#f0a010"/>
<rect x="107.24" y="312.71" width="21.19" height="6.41" fill="#000"/>
<rect x="128.43" y="319.11" width="12.71" height="6.71" fill="#000"/>
<rect x="128.43" y="325.52" width="12.71" height="6.71" fill="#000"/>
<rect x="128.43" y="331.92" width="12.71" height="6.71" fill="#000"/>
<rect x="128.43" y="338.33" width="4.54" height="6.41" fill="#d83a22"/>
<rect x="132.67" y="338.33" width="4.54" height="6.41" fill="#a82020"/>
<rect x="136.91" y="338.33" width="4.24" height="6.41" fill="#4a0808"/>
<rect x="184.06" y="306.3" width="12.72" height="6.41" fill="#000"/>
<rect x="158.62" y="312.71" width="25.44" height="6.41" fill="#000"/>
<rect x="145.9" y="319.11" width="12.72" height="6.41" fill="#000"/>
<rect x="145.9" y="344.74" width="12.72" height="6.41" fill="#000"/>
<rect x="196.78" y="344.74" width="8.48" height="6.41" fill="#000"/>
<rect x="158.62" y="351.14" width="12.72" height="6.41" fill="#000"/>
<rect x="205.26" y="395.98" width="12.72" height="6.71" fill="#000"/>
<rect x="196.78" y="402.39" width="21.2" height="6.41" fill="#000"/>
<rect x="269.05" y="306.3" width="17.18" height="6.41" fill="#000"/>
<rect x="221.8" y="312.71" width="8.59" height="6.41" fill="#000"/>
<rect x="286.23" y="312.71" width="12.88" height="6.41" fill="#000"/>
<rect x="316.29" y="312.71" width="4.59" height="6.41" fill="#fdf2a8"/>
<rect x="320.59" y="312.71" width="4.59" height="6.41" fill="#fadc3c"/>
<rect x="324.88" y="312.71" width="17.18" height="6.41" fill="#000"/>
<rect x="256.16" y="325.52" width="12.88" height="6.41" fill="#000"/>
<rect x="299.11" y="325.52" width="17.18" height="6.41" fill="#000"/>
<rect x="221.8" y="331.92" width="21.48" height="6.41" fill="#000"/>
<rect x="316.29" y="344.74" width="8.59" height="6.41" fill="#000"/>
<rect x="269.05" y="357.55" width="4.59" height="6.41" fill="#c62a2a"/>
<rect x="273.34" y="357.55" width="4.59" height="6.41" fill="#d04028"/>
<rect x="277.63" y="357.55" width="4.59" height="6.41" fill="#e87818"/>
<rect x="281.93" y="357.55" width="4.59" height="6.41" fill="#f8d030"/>
<rect x="286.23" y="357.55" width="12.88" height="6.71" fill="#000"/>
<rect x="230.39" y="363.95" width="12.88" height="6.71" fill="#000"/>
<rect x="286.23" y="363.95" width="4.59" height="6.41" fill="#e8801c"/>
<rect x="290.52" y="363.95" width="8.59" height="6.41" fill="#f8c828"/>
<rect x="230.39" y="370.36" width="12.88" height="6.41" fill="#000"/>
<rect x="243.28" y="376.77" width="12.88" height="6.71" fill="#000"/>
<rect x="243.28" y="383.17" width="12.88" height="6.71" fill="#000"/>
<rect x="243.28" y="389.58" width="4.59" height="6.41" fill="#f8d020"/>
<rect x="247.57" y="389.58" width="4.59" height="6.41" fill="#f0c820"/>
<rect x="251.87" y="389.58" width="4.29" height="6.41" fill="#5a0a0a"/>
<rect x="316.29" y="395.98" width="4.59" height="6.41" fill="#fdf2a8"/>
<rect x="320.59" y="395.98" width="4.29" height="6.41" fill="#fadc3c"/>
<rect x="269.05" y="408.8" width="4.59" height="6.71" fill="#c62a2a"/>
<rect x="273.34" y="408.8" width="4.59" height="6.71" fill="#c83030"/>
<rect x="277.63" y="408.8" width="4.59" height="6.71" fill="#e87018"/>
<rect x="281.93" y="408.8" width="4.29" height="6.71" fill="#f8d840"/>
<rect x="269.05" y="415.2" width="4.59" height="6.71" fill="#e87018"/>
<rect x="273.34" y="415.2" width="4.59" height="6.71" fill="#e88020"/>
<rect x="277.63" y="415.2" width="4.59" height="6.71" fill="#b02030"/>
<rect x="281.93" y="415.2" width="4.29" height="6.71" fill="#200505"/>
<rect x="269.05" y="421.61" width="4.59" height="6.71" fill="#fff0b0"/>
<rect x="273.34" y="421.61" width="4.59" height="6.71" fill="#f8d860"/>
<rect x="277.63" y="421.61" width="4.59" height="6.71" fill="#e88020"/>
<rect x="281.93" y="421.61" width="4.29" height="6.71" fill="#601010"/>
<rect x="269.05" y="428.01" width="4.59" height="6.71" fill="#fff4c0"/>
<rect x="273.34" y="428.01" width="4.59" height="6.71" fill="#f8d040"/>
<rect x="277.63" y="428.01" width="4.59" height="6.71" fill="#e87820"/>
<rect x="281.93" y="428.01" width="4.29" height="6.71" fill="#500808"/>
<rect x="269.05" y="434.42" width="17.18" height="6.41" fill="#f8c830"/>
<rect x="286.23" y="440.83" width="4.59" height="6.41" fill="#e87018"/>
<rect x="290.52" y="440.83" width="8.59" height="6.41" fill="#f8c830"/>
<rect x="299.11" y="447.23" width="4.59" height="6.41" fill="#c02828"/>
<rect x="303.41" y="447.23" width="8.89" height="6.41" fill="#901818"/>
<rect x="312" y="447.23" width="4.29" height="6.41" fill="#f0a010"/>
<rect x="324.88" y="447.23" width="4.59" height="6.41" fill="#f8c830"/>
<rect x="329.18" y="447.23" width="4.29" height="6.41" fill="#701010"/>
<rect x="286.23" y="453.64" width="4.59" height="6.41" fill="#fff4c0"/>
<rect x="290.52" y="453.64" width="4.59" height="6.41" fill="#f8c830"/>
<rect x="294.81" y="453.64" width="4.29" height="6.41" fill="#e06020"/>
<rect x="299.11" y="460.04" width="4.59" height="6.71" fill="#e87018"/>
<rect x="303.41" y="460.04" width="4.59" height="6.71" fill="#f8c030"/>
<rect x="307.7" y="460.04" width="4.59" height="6.71" fill="#f8c830"/>
<rect x="312" y="460.04" width="4.59" height="6.71" fill="#a01818"/>
<rect x="316.29" y="460.04" width="4.59" height="6.41" fill="#fff4c0"/>
<rect x="320.59" y="460.04" width="4.29" height="6.41" fill="#f8d040"/>
<rect x="299.11" y="466.45" width="13.19" height="6.71" fill="#f8c020"/>
<rect x="312" y="466.45" width="4.29" height="6.71" fill="#f0b020"/>
<rect x="299.11" y="472.86" width="8.89" height="6.71" fill="#fffde8"/>
<rect x="307.7" y="472.86" width="4.59" height="6.71" fill="#fff4c0"/>
<rect x="312" y="472.86" width="4.29" height="6.71" fill="#f8c830"/>
<rect x="299.11" y="479.26" width="8.89" height="6.41" fill="#fff4c8"/>
<rect x="307.7" y="479.26" width="4.59" height="6.41" fill="#fff0b0"/>
<rect x="312" y="479.26" width="4.29" height="6.41" fill="#f8c020"/>
<rect x="316.29" y="492.07" width="8.59" height="6.41" fill="#000"/>
<rect x="324.88" y="498.48" width="17.18" height="6.71" fill="#000"/>
<rect x="324.88" y="504.89" width="8.59" height="6.71" fill="#000"/>
<rect x="324.88" y="511.29" width="4.59" height="6.41" fill="#f8c830"/>
<rect x="329.18" y="511.29" width="4.29" height="6.41" fill="#701010"/>
<clipPath id="cc"><rect x="52.15" y="306.3" width="4.54" height="6.41" fill="#fadc3c"/><rect x="56.39" y="306.3" width="4.54" height="6.41" fill="#fdf2a8"/><rect x="60.63" y="306.3" width="4.24" height="6.41" fill="#fadc3c"/><rect x="64.86" y="312.71" width="4.54" height="6.41" fill="#4a0808"/><rect x="69.1" y="312.71" width="4.54" height="6.41" fill="#650d0d"/><rect x="73.34" y="312.71" width="4.54" height="6.41" fill="#861515"/><rect x="77.58" y="312.71" width="4.54" height="6.41" fill="#9c1c1c"/><rect x="81.82" y="312.71" width="4.54" height="6.41" fill="#c4282a"/><rect x="86.05" y="312.71" width="4.54" height="6.41" fill="#e87218"/><rect x="90.29" y="312.71" width="4.54" height="6.41" fill="#ec8a14"/><rect x="94.53" y="312.71" width="4.54" height="6.41" fill="#f5b80a"/><rect x="98.77" y="312.71" width="4.54" height="6.41" fill="#ea8218"/><rect x="103.01" y="312.71" width="4.54" height="6.41" fill="#f0a010"/><rect x="107.24" y="312.71" width="21.19" height="6.41" fill="#000"/><rect x="128.43" y="319.11" width="12.71" height="6.71" fill="#000"/><rect x="128.43" y="325.52" width="12.71" height="6.71" fill="#000"/><rect x="128.43" y="331.92" width="12.71" height="6.71" fill="#000"/><rect x="128.43" y="338.33" width="4.54" height="6.41" fill="#d83a22"/><rect x="132.67" y="338.33" width="4.54" height="6.41" fill="#a82020"/><rect x="136.91" y="338.33" width="4.24" height="6.41" fill="#4a0808"/><rect x="184.06" y="306.3" width="12.72" height="6.41" fill="#000"/><rect x="158.62" y="312.71" width="25.44" height="6.41" fill="#000"/><rect x="145.9" y="319.11" width="12.72" height="6.41" fill="#000"/><rect x="145.9" y="344.74" width="12.72" height="6.41" fill="#000"/><rect x="196.78" y="344.74" width="8.48" height="6.41" fill="#000"/><rect x="158.62" y="351.14" width="12.72" height="6.41" fill="#000"/><rect x="205.26" y="395.98" width="12.72" height="6.71" fill="#000"/><rect x="196.78" y="402.39" width="21.2" height="6.41" fill="#000"/><rect x="269.05" y="306.3" width="17.18" height="6.41" fill="#000"/><rect x="221.8" y="312.71" width="8.59" height="6.41" fill="#000"/><rect x="286.23" y="312.71" width="12.88" height="6.41" fill="#000"/><rect x="316.29" y="312.71" width="4.59" height="6.41" fill="#fdf2a8"/><rect x="320.59" y="312.71" width="4.59" height="6.41" fill="#fadc3c"/><rect x="324.88" y="312.71" width="17.18" height="6.41" fill="#000"/><rect x="256.16" y="325.52" width="12.88" height="6.41" fill="#000"/><rect x="299.11" y="325.52" width="17.18" height="6.41" fill="#000"/><rect x="221.8" y="331.92" width="21.48" height="6.41" fill="#000"/><rect x="316.29" y="344.74" width="8.59" height="6.41" fill="#000"/><rect x="269.05" y="357.55" width="4.59" height="6.41" fill="#c62a2a"/><rect x="273.34" y="357.55" width="4.59" height="6.41" fill="#d04028"/><rect x="277.63" y="357.55" width="4.59" height="6.41" fill="#e87818"/><rect x="281.93" y="357.55" width="4.59" height="6.41" fill="#f8d030"/><rect x="286.23" y="357.55" width="12.88" height="6.71" fill="#000"/><rect x="230.39" y="363.95" width="12.88" height="6.71" fill="#000"/><rect x="286.23" y="363.95" width="4.59" height="6.41" fill="#e8801c"/><rect x="290.52" y="363.95" width="8.59" height="6.41" fill="#f8c828"/><rect x="230.39" y="370.36" width="12.88" height="6.41" fill="#000"/><rect x="243.28" y="376.77" width="12.88" height="6.71" fill="#000"/><rect x="243.28" y="383.17" width="12.88" height="6.71" fill="#000"/><rect x="243.28" y="389.58" width="4.59" height="6.41" fill="#f8d020"/><rect x="247.57" y="389.58" width="4.59" height="6.41" fill="#f0c820"/><rect x="251.87" y="389.58" width="4.29" height="6.41" fill="#5a0a0a"/><rect x="316.29" y="395.98" width="4.59" height="6.41" fill="#fdf2a8"/><rect x="320.59" y="395.98" width="4.29" height="6.41" fill="#fadc3c"/><rect x="269.05" y="408.8" width="4.59" height="6.71" fill="#c62a2a"/><rect x="273.34" y="408.8" width="4.59" height="6.71" fill="#c83030"/><rect x="277.63" y="408.8" width="4.59" height="6.71" fill="#e87018"/><rect x="281.93" y="408.8" width="4.29" height="6.71" fill="#f8d840"/><rect x="269.05" y="415.2" width="4.59" height="6.71" fill="#e87018"/><rect x="273.34" y="415.2" width="4.59" height="6.71" fill="#e88020"/><rect x="277.63" y="415.2" width="4.59" height="6.71" fill="#b02030"/><rect x="281.93" y="415.2" width="4.29" height="6.71" fill="#200505"/><rect x="269.05" y="421.61" width="4.59" height="6.71" fill="#fff0b0"/><rect x="273.34" y="421.61" width="4.59" height="6.71" fill="#f8d860"/><rect x="277.63" y="421.61" width="4.59" height="6.71" fill="#e88020"/><rect x="281.93" y="421.61" width="4.29" height="6.71" fill="#601010"/><rect x="269.05" y="428.01" width="4.59" height="6.71" fill="#fff4c0"/><rect x="273.34" y="428.01" width="4.59" height="6.71" fill="#f8d040"/><rect x="277.63" y="428.01" width="4.59" height="6.71" fill="#e87820"/><rect x="281.93" y="428.01" width="4.29" height="6.71" fill="#500808"/><rect x="269.05" y="434.42" width="17.18" height="6.41" fill="#f8c830"/><rect x="286.23" y="440.83" width="4.59" height="6.41" fill="#e87018"/><rect x="290.52" y="440.83" width="8.59" height="6.41" fill="#f8c830"/><rect x="299.11" y="447.23" width="4.59" height="6.41" fill="#c02828"/><rect x="303.41" y="447.23" width="8.89" height="6.41" fill="#901818"/><rect x="312" y="447.23" width="4.29" height="6.41" fill="#f0a010"/><rect x="324.88" y="447.23" width="4.59" height="6.41" fill="#f8c830"/><rect x="329.18" y="447.23" width="4.29" height="6.41" fill="#701010"/><rect x="286.23" y="453.64" width="4.59" height="6.41" fill="#fff4c0"/><rect x="290.52" y="453.64" width="4.59" height="6.41" fill="#f8c830"/><rect x="294.81" y="453.64" width="4.29" height="6.41" fill="#e06020"/><rect x="299.11" y="460.04" width="4.59" height="6.71" fill="#e87018"/><rect x="303.41" y="460.04" width="4.59" height="6.71" fill="#f8c030"/><rect x="307.7" y="460.04" width="4.59" height="6.71" fill="#f8c830"/><rect x="312" y="460.04" width="4.59" height="6.71" fill="#a01818"/><rect x="316.29" y="460.04" width="4.59" height="6.41" fill="#fff4c0"/><rect x="320.59" y="460.04" width="4.29" height="6.41" fill="#f8d040"/><rect x="299.11" y="466.45" width="13.19" height="6.71" fill="#f8c020"/><rect x="312" y="466.45" width="4.29" height="6.71" fill="#f0b020"/><rect x="299.11" y="472.86" width="8.89" height="6.71" fill="#fffde8"/><rect x="307.7" y="472.86" width="4.59" height="6.71" fill="#fff4c0"/><rect x="312" y="472.86" width="4.29" height="6.71" fill="#f8c830"/><rect x="299.11" y="479.26" width="8.89" height="6.41" fill="#fff4c8"/><rect x="307.7" y="479.26" width="4.59" height="6.41" fill="#fff0b0"/><rect x="312" y="479.26" width="4.29" height="6.41" fill="#f8c020"/><rect x="316.29" y="492.07" width="8.59" height="6.41" fill="#000"/><rect x="324.88" y="498.48" width="17.18" height="6.71" fill="#000"/><rect x="324.88" y="504.89" width="8.59" height="6.71" fill="#000"/><rect x="324.88" y="511.29" width="4.59" height="6.41" fill="#f8c830"/><rect x="329.18" y="511.29" width="4.29" height="6.41" fill="#701010"/></clipPath>
<g clip-path="url(#cc)" opacity="0.6">
<line x1="52.15" y1="312.71" x2="141.15" y2="312.71" stroke="#fff" stroke-width="0.6" opacity="0.5"/>
<line x1="52.15" y1="319.11" x2="141.15" y2="319.11" stroke="#fff" stroke-width="0.6" opacity="0.5"/>
<line x1="52.15" y1="325.52" x2="141.15" y2="325.52" stroke="#fff" stroke-width="0.6" opacity="0.5"/>
<line x1="52.15" y1="331.92" x2="141.15" y2="331.92" stroke="#fff" stroke-width="0.6" opacity="0.5"/>
<line x1="52.15" y1="338.33" x2="141.15" y2="338.33" stroke="#fff" stroke-width="0.6" opacity="0.5"/>
<line x1="52.15" y1="344.74" x2="141.15" y2="344.74" stroke="#fff" stroke-width="0.6" opacity="0.5"/>
<line x1="52.15" y1="351.14" x2="141.15" y2="351.14" stroke="#fff" stroke-width="0.6" opacity="0.5"/>
<line x1="52.15" y1="357.55" x2="141.15" y2="357.55" stroke="#fff" stroke-width="0.6" opacity="0.5"/>
<line x1="52.15" y1="363.95" x2="141.15" y2="363.95" stroke="#fff" stroke-width="0.6" opacity="0.5"/>
<line x1="52.15" y1="370.36" x2="141.15" y2="370.36" stroke="#fff" stroke-width="0.6" opacity="0.5"/>
<line x1="52.15" y1="376.77" x2="141.15" y2="376.77" stroke="#fff" stroke-width="0.6" opacity="0.5"/>
<line x1="52.15" y1="383.17" x2="141.15" y2="383.17" stroke="#fff" stroke-width="0.6" opacity="0.5"/>
<line x1="52.15" y1="389.58" x2="141.15" y2="389.58" stroke="#fff" stroke-width="0.6" opacity="0.5"/>
<line x1="52.15" y1="395.98" x2="141.15" y2="395.98" stroke="#fff" stroke-width="0.6" opacity="0.5"/>
<line x1="52.15" y1="402.39" x2="141.15" y2="402.39" stroke="#fff" stroke-width="0.6" opacity="0.5"/>
<line x1="52.15" y1="408.8" x2="141.15" y2="408.8" stroke="#fff" stroke-width="0.6" opacity="0.5"/>
<line x1="52.15" y1="415.2" x2="141.15" y2="415.2" stroke="#fff" stroke-width="0.6" opacity="0.5"/>
<line x1="52.15" y1="421.61" x2="141.15" y2="421.61" stroke="#fff" stroke-width="0.6" opacity="0.5"/>
<line x1="52.15" y1="428.01" x2="141.15" y2="428.01" stroke="#fff" stroke-width="0.6" opacity="0.5"/>
<line x1="52.15" y1="434.42" x2="141.15" y2="434.42" stroke="#fff" stroke-width="0.6" opacity="0.5"/>
<line x1="52.15" y1="440.83" x2="141.15" y2="440.83" stroke="#fff" stroke-width="0.6" opacity="0.5"/>
<line x1="52.15" y1="447.23" x2="141.15" y2="447.23" stroke="#fff" stroke-width="0.6" opacity="0.5"/>
<line x1="52.15" y1="453.64" x2="141.15" y2="453.64" stroke="#fff" stroke-width="0.6" opacity="0.5"/>
<line x1="52.15" y1="460.04" x2="141.15" y2="460.04" stroke="#fff" stroke-width="0.6" opacity="0.5"/>
<line x1="52.15" y1="466.45" x2="141.15" y2="466.45" stroke="#fff" stroke-width="0.6" opacity="0.5"/>
<line x1="52.15" y1="472.86" x2="141.15" y2="472.86" stroke="#fff" stroke-width="0.6" opacity="0.5"/>
<line x1="52.15" y1="479.26" x2="141.15" y2="479.26" stroke="#fff" stroke-width="0.6" opacity="0.5"/>
<line x1="52.15" y1="485.67" x2="141.15" y2="485.67" stroke="#fff" stroke-width="0.6" opacity="0.5"/>
<line x1="52.15" y1="492.07" x2="141.15" y2="492.07" stroke="#fff" stroke-width="0.6" opacity="0.5"/>
<line x1="52.15" y1="498.48" x2="141.15" y2="498.48" stroke="#fff" stroke-width="0.6" opacity="0.5"/>
<line x1="52.15" y1="504.89" x2="141.15" y2="504.89" stroke="#fff" stroke-width="0.6" opacity="0.5"/>
<line x1="52.15" y1="511.29" x2="141.15" y2="511.29" stroke="#fff" stroke-width="0.6" opacity="0.5"/>
<line x1="56.39" y1="306.3" x2="56.39" y2="517.7" stroke="#fff" stroke-width="0.45" opacity="0.38"/>
<line x1="60.63" y1="306.3" x2="60.63" y2="517.7" stroke="#fff" stroke-width="0.45" opacity="0.38"/>
<line x1="69.1" y1="306.3" x2="69.1" y2="517.7" stroke="#fff" stroke-width="0.45" opacity="0.38"/>
<line x1="73.34" y1="306.3" x2="73.34" y2="517.7" stroke="#fff" stroke-width="0.45" opacity="0.38"/>
<line x1="77.58" y1="306.3" x2="77.58" y2="517.7" stroke="#fff" stroke-width="0.45" opacity="0.38"/>
<line x1="86.05" y1="306.3" x2="86.05" y2="517.7" stroke="#fff" stroke-width="0.45" opacity="0.38"/>
<line x1="90.29" y1="306.3" x2="90.29" y2="517.7" stroke="#fff" stroke-width="0.45" opacity="0.38"/>
<line x1="94.53" y1="306.3" x2="94.53" y2="517.7" stroke="#fff" stroke-width="0.45" opacity="0.38"/>
<line x1="98.77" y1="306.3" x2="98.77" y2="517.7" stroke="#fff" stroke-width="0.45" opacity="0.38"/>
<line x1="103.01" y1="306.3" x2="103.01" y2="517.7" stroke="#fff" stroke-width="0.45" opacity="0.38"/>
<line x1="111.48" y1="306.3" x2="111.48" y2="517.7" stroke="#fff" stroke-width="0.45" opacity="0.38"/>
<line x1="115.72" y1="306.3" x2="115.72" y2="517.7" stroke="#fff" stroke-width="0.45" opacity="0.38"/>
<line x1="119.96" y1="306.3" x2="119.96" y2="517.7" stroke="#fff" stroke-width="0.45" opacity="0.38"/>
<line x1="124.2" y1="306.3" x2="124.2" y2="517.7" stroke="#fff" stroke-width="0.45" opacity="0.38"/>
<line x1="132.67" y1="306.3" x2="132.67" y2="517.7" stroke="#fff" stroke-width="0.45" opacity="0.38"/>
<line x1="136.91" y1="306.3" x2="136.91" y2="517.7" stroke="#fff" stroke-width="0.45" opacity="0.38"/>
<line x1="145.9" y1="312.71" x2="217.98" y2="312.71" stroke="#fff" stroke-width="0.6" opacity="0.5"/>
<line x1="145.9" y1="319.11" x2="217.98" y2="319.11" stroke="#fff" stroke-width="0.6" opacity="0.5"/>
<line x1="145.9" y1="325.52" x2="217.98" y2="325.52" stroke="#fff" stroke-width="0.6" opacity="0.5"/>
<line x1="145.9" y1="331.92" x2="217.98" y2="331.92" stroke="#fff" stroke-width="0.6" opacity="0.5"/>
<line x1="145.9" y1="338.33" x2="217.98" y2="338.33" stroke="#fff" stroke-width="0.6" opacity="0.5"/>
<line x1="145.9" y1="344.74" x2="217.98" y2="344.74" stroke="#fff" stroke-width="0.6" opacity="0.5"/>
<line x1="145.9" y1="351.14" x2="217.98" y2="351.14" stroke="#fff" stroke-width="0.6" opacity="0.5"/>
<line x1="145.9" y1="357.55" x2="217.98" y2="357.55" stroke="#fff" stroke-width="0.6" opacity="0.5"/>
<line x1="145.9" y1="363.95" x2="217.98" y2="363.95" stroke="#fff" stroke-width="0.6" opacity="0.5"/>
<line x1="145.9" y1="370.36" x2="217.98" y2="370.36" stroke="#fff" stroke-width="0.6" opacity="0.5"/>
<line x1="145.9" y1="376.77" x2="217.98" y2="376.77" stroke="#fff" stroke-width="0.6" opacity="0.5"/>
<line x1="145.9" y1="383.17" x2="217.98" y2="383.17" stroke="#fff" stroke-width="0.6" opacity="0.5"/>
<line x1="145.9" y1="389.58" x2="217.98" y2="389.58" stroke="#fff" stroke-width="0.6" opacity="0.5"/>
<line x1="145.9" y1="395.98" x2="217.98" y2="395.98" stroke="#fff" stroke-width="0.6" opacity="0.5"/>
<line x1="145.9" y1="402.39" x2="217.98" y2="402.39" stroke="#fff" stroke-width="0.6" opacity="0.5"/>
<line x1="145.9" y1="408.8" x2="217.98" y2="408.8" stroke="#fff" stroke-width="0.6" opacity="0.5"/>
<line x1="145.9" y1="415.2" x2="217.98" y2="415.2" stroke="#fff" stroke-width="0.6" opacity="0.5"/>
<line x1="145.9" y1="421.61" x2="217.98" y2="421.61" stroke="#fff" stroke-width="0.6" opacity="0.5"/>
<line x1="145.9" y1="428.01" x2="217.98" y2="428.01" stroke="#fff" stroke-width="0.6" opacity="0.5"/>
<line x1="145.9" y1="434.42" x2="217.98" y2="434.42" stroke="#fff" stroke-width="0.6" opacity="0.5"/>
<line x1="145.9" y1="440.83" x2="217.98" y2="440.83" stroke="#fff" stroke-width="0.6" opacity="0.5"/>
<line x1="145.9" y1="447.23" x2="217.98" y2="447.23" stroke="#fff" stroke-width="0.6" opacity="0.5"/>
<line x1="145.9" y1="453.64" x2="217.98" y2="453.64" stroke="#fff" stroke-width="0.6" opacity="0.5"/>
<line x1="145.9" y1="460.04" x2="217.98" y2="460.04" stroke="#fff" stroke-width="0.6" opacity="0.5"/>
<line x1="145.9" y1="466.45" x2="217.98" y2="466.45" stroke="#fff" stroke-width="0.6" opacity="0.5"/>
<line x1="145.9" y1="472.86" x2="217.98" y2="472.86" stroke="#fff" stroke-width="0.6" opacity="0.5"/>
<line x1="145.9" y1="479.26" x2="217.98" y2="479.26" stroke="#fff" stroke-width="0.6" opacity="0.5"/>
<line x1="145.9" y1="485.67" x2="217.98" y2="485.67" stroke="#fff" stroke-width="0.6" opacity="0.5"/>
<line x1="145.9" y1="492.07" x2="217.98" y2="492.07" stroke="#fff" stroke-width="0.6" opacity="0.5"/>
<line x1="145.9" y1="498.48" x2="217.98" y2="498.48" stroke="#fff" stroke-width="0.6" opacity="0.5"/>
<line x1="145.9" y1="504.89" x2="217.98" y2="504.89" stroke="#fff" stroke-width="0.6" opacity="0.5"/>
<line x1="145.9" y1="511.29" x2="217.98" y2="511.29" stroke="#fff" stroke-width="0.6" opacity="0.5"/>
<line x1="150.14" y1="306.3" x2="150.14" y2="517.7" stroke="#fff" stroke-width="0.45" opacity="0.38"/>
<line x1="154.38" y1="306.3" x2="154.38" y2="517.7" stroke="#fff" stroke-width="0.45" opacity="0.38"/>
<line x1="162.86" y1="306.3" x2="162.86" y2="517.7" stroke="#fff" stroke-width="0.45" opacity="0.38"/>
<line x1="167.1" y1="306.3" x2="167.1" y2="517.7" stroke="#fff" stroke-width="0.45" opacity="0.38"/>
<line x1="175.58" y1="306.3" x2="175.58" y2="517.7" stroke="#fff" stroke-width="0.45" opacity="0.38"/>
<line x1="179.82" y1="306.3" x2="179.82" y2="517.7" stroke="#fff" stroke-width="0.45" opacity="0.38"/>
<line x1="188.3" y1="306.3" x2="188.3" y2="517.7" stroke="#fff" stroke-width="0.45" opacity="0.38"/>
<line x1="192.54" y1="306.3" x2="192.54" y2="517.7" stroke="#fff" stroke-width="0.45" opacity="0.38"/>
<line x1="201.02" y1="306.3" x2="201.02" y2="517.7" stroke="#fff" stroke-width="0.45" opacity="0.38"/>
<line x1="209.5" y1="306.3" x2="209.5" y2="517.7" stroke="#fff" stroke-width="0.45" opacity="0.38"/>
<line x1="213.74" y1="306.3" x2="213.74" y2="517.7" stroke="#fff" stroke-width="0.45" opacity="0.38"/>
<line x1="221.8" y1="312.71" x2="342.06" y2="312.71" stroke="#fff" stroke-width="0.6" opacity="0.5"/>
<line x1="221.8" y1="319.11" x2="342.06" y2="319.11" stroke="#fff" stroke-width="0.6" opacity="0.5"/>
<line x1="221.8" y1="325.52" x2="342.06" y2="325.52" stroke="#fff" stroke-width="0.6" opacity="0.5"/>
<line x1="221.8" y1="331.92" x2="342.06" y2="331.92" stroke="#fff" stroke-width="0.6" opacity="0.5"/>
<line x1="221.8" y1="338.33" x2="342.06" y2="338.33" stroke="#fff" stroke-width="0.6" opacity="0.5"/>
<line x1="221.8" y1="344.74" x2="342.06" y2="344.74" stroke="#fff" stroke-width="0.6" opacity="0.5"/>
<line x1="221.8" y1="351.14" x2="342.06" y2="351.14" stroke="#fff" stroke-width="0.6" opacity="0.5"/>
<line x1="221.8" y1="357.55" x2="342.06" y2="357.55" stroke="#fff" stroke-width="0.6" opacity="0.5"/>
<line x1="221.8" y1="363.95" x2="342.06" y2="363.95" stroke="#fff" stroke-width="0.6" opacity="0.5"/>
<line x1="221.8" y1="370.36" x2="342.06" y2="370.36" stroke="#fff" stroke-width="0.6" opacity="0.5"/>
<line x1="221.8" y1="376.77" x2="342.06" y2="376.77" stroke="#fff" stroke-width="0.6" opacity="0.5"/>
<line x1="221.8" y1="383.17" x2="342.06" y2="383.17" stroke="#fff" stroke-width="0.6" opacity="0.5"/>
<line x1="221.8" y1="389.58" x2="342.06" y2="389.58" stroke="#fff" stroke-width="0.6" opacity="0.5"/>
<line x1="221.8" y1="395.98" x2="342.06" y2="395.98" stroke="#fff" stroke-width="0.6" opacity="0.5"/>
<line x1="221.8" y1="402.39" x2="342.06" y2="402.39" stroke="#fff" stroke-width="0.6" opacity="0.5"/>
<line x1="221.8" y1="408.8" x2="342.06" y2="408.8" stroke="#fff" stroke-width="0.6" opacity="0.5"/>
<line x1="221.8" y1="415.2" x2="342.06" y2="415.2" stroke="#fff" stroke-width="0.6" opacity="0.5"/>
<line x1="221.8" y1="421.61" x2="342.06" y2="421.61" stroke="#fff" stroke-width="0.6" opacity="0.5"/>
<line x1="221.8" y1="428.01" x2="342.06" y2="428.01" stroke="#fff" stroke-width="0.6" opacity="0.5"/>
<line x1="221.8" y1="434.42" x2="342.06" y2="434.42" stroke="#fff" stroke-width="0.6" opacity="0.5"/>
<line x1="221.8" y1="440.83" x2="342.06" y2="440.83" stroke="#fff" stroke-width="0.6" opacity="0.5"/>
<line x1="221.8" y1="447.23" x2="342.06" y2="447.23" stroke="#fff" stroke-width="0.6" opacity="0.5"/>
<line x1="221.8" y1="453.64" x2="342.06" y2="453.64" stroke="#fff" stroke-width="0.6" opacity="0.5"/>
<line x1="221.8" y1="460.04" x2="342.06" y2="460.04" stroke="#fff" stroke-width="0.6" opacity="0.5"/>
<line x1="221.8" y1="466.45" x2="342.06" y2="466.45" stroke="#fff" stroke-width="0.6" opacity="0.5"/>
<line x1="221.8" y1="472.86" x2="342.06" y2="472.86" stroke="#fff" stroke-width="0.6" opacity="0.5"/>
<line x1="221.8" y1="479.26" x2="342.06" y2="479.26" stroke="#fff" stroke-width="0.6" opacity="0.5"/>
<line x1="221.8" y1="485.67" x2="342.06" y2="485.67" stroke="#fff" stroke-width="0.6" opacity="0.5"/>
<line x1="221.8" y1="492.07" x2="342.06" y2="492.07" stroke="#fff" stroke-width="0.6" opacity="0.5"/>
<line x1="221.8" y1="498.48" x2="342.06" y2="498.48" stroke="#fff" stroke-width="0.6" opacity="0.5"/>
<line x1="221.8" y1="504.89" x2="342.06" y2="504.89" stroke="#fff" stroke-width="0.6" opacity="0.5"/>
<line x1="221.8" y1="511.29" x2="342.06" y2="511.29" stroke="#fff" stroke-width="0.6" opacity="0.5"/>
<line x1="226.09" y1="306.3" x2="226.09" y2="517.7" stroke="#fff" stroke-width="0.45" opacity="0.38"/>
<line x1="234.69" y1="306.3" x2="234.69" y2="517.7" stroke="#fff" stroke-width="0.45" opacity="0.38"/>
<line x1="238.98" y1="306.3" x2="238.98" y2="517.7" stroke="#fff" stroke-width="0.45" opacity="0.38"/>
<line x1="247.57" y1="306.3" x2="247.57" y2="517.7" stroke="#fff" stroke-width="0.45" opacity="0.38"/>
<line x1="251.87" y1="306.3" x2="251.87" y2="517.7" stroke="#fff" stroke-width="0.45" opacity="0.38"/>
<line x1="260.46" y1="306.3" x2="260.46" y2="517.7" stroke="#fff" stroke-width="0.45" opacity="0.38"/>
<line x1="264.75" y1="306.3" x2="264.75" y2="517.7" stroke="#fff" stroke-width="0.45" opacity="0.38"/>
<line x1="273.34" y1="306.3" x2="273.34" y2="517.7" stroke="#fff" stroke-width="0.45" opacity="0.38"/>
<line x1="277.63" y1="306.3" x2="277.63" y2="517.7" stroke="#fff" stroke-width="0.45" opacity="0.38"/>
<line x1="281.93" y1="306.3" x2="281.93" y2="517.7" stroke="#fff" stroke-width="0.45" opacity="0.38"/>
<line x1="290.52" y1="306.3" x2="290.52" y2="517.7" stroke="#fff" stroke-width="0.45" opacity="0.38"/>
<line x1="294.81" y1="306.3" x2="294.81" y2="517.7" stroke="#fff" stroke-width="0.45" opacity="0.38"/>
<line x1="303.41" y1="306.3" x2="303.41" y2="517.7" stroke="#fff" stroke-width="0.45" opacity="0.38"/>
<line x1="307.7" y1="306.3" x2="307.7" y2="517.7" stroke="#fff" stroke-width="0.45" opacity="0.38"/>
<line x1="312" y1="306.3" x2="312" y2="517.7" stroke="#fff" stroke-width="0.45" opacity="0.38"/>
<line x1="320.59" y1="306.3" x2="320.59" y2="517.7" stroke="#fff" stroke-width="0.45" opacity="0.38"/>
<line x1="329.18" y1="306.3" x2="329.18" y2="517.7" stroke="#fff" stroke-width="0.45" opacity="0.38"/>
<line x1="337.76" y1="306.3" x2="337.76" y2="517.7" stroke="#fff" stroke-width="0.45" opacity="0.38"/>
<line x1="64.86" y1="306.3" x2="64.86" y2="517.7" stroke="#fff" stroke-width="0.45" opacity="0.38"/>
<line x1="81.82" y1="306.3" x2="81.82" y2="517.7" stroke="#fff" stroke-width="0.45" opacity="0.38"/>
<line x1="107.24" y1="306.3" x2="107.24" y2="517.7" stroke="#fff" stroke-width="0.45" opacity="0.38"/>
<line x1="128.43" y1="306.3" x2="128.43" y2="517.7" stroke="#fff" stroke-width="0.45" opacity="0.38"/>
<line x1="158.62" y1="306.3" x2="158.62" y2="517.7" stroke="#fff" stroke-width="0.45" opacity="0.38"/>
<line x1="171.34" y1="306.3" x2="171.34" y2="517.7" stroke="#fff" stroke-width="0.45" opacity="0.38"/>
<line x1="184.06" y1="306.3" x2="184.06" y2="517.7" stroke="#fff" stroke-width="0.45" opacity="0.38"/>
<line x1="196.78" y1="306.3" x2="196.78" y2="517.7" stroke="#fff" stroke-width="0.45" opacity="0.38"/>
<line x1="205.26" y1="306.3" x2="205.26" y2="517.7" stroke="#fff" stroke-width="0.45" opacity="0.38"/>
<line x1="230.39" y1="306.3" x2="230.39" y2="517.7" stroke="#fff" stroke-width="0.45" opacity="0.38"/>
<line x1="243.28" y1="306.3" x2="243.28" y2="517.7" stroke="#fff" stroke-width="0.45" opacity="0.38"/>
<line x1="256.16" y1="306.3" x2="256.16" y2="517.7" stroke="#fff" stroke-width="0.45" opacity="0.38"/>
<line x1="269.05" y1="306.3" x2="269.05" y2="517.7" stroke="#fff" stroke-width="0.45" opacity="0.38"/>
<line x1="286.23" y1="306.3" x2="286.23" y2="517.7" stroke="#fff" stroke-width="0.45" opacity="0.38"/>
<line x1="299.11" y1="306.3" x2="299.11" y2="517.7" stroke="#fff" stroke-width="0.45" opacity="0.38"/>
<line x1="316.29" y1="306.3" x2="316.29" y2="517.7" stroke="#fff" stroke-width="0.45" opacity="0.38"/>
<line x1="324.88" y1="306.3" x2="324.88" y2="517.7" stroke="#fff" stroke-width="0.45" opacity="0.38"/>
<line x1="333.47" y1="306.3" x2="333.47" y2="517.7" stroke="#fff" stroke-width="0.45" opacity="0.38"/>
</g>
<text x="51.9" y="304.7" font-size="6.6" text-anchor="end" fill="#231f20" stroke="#231f20" stroke-width="0.06" textLength="20.8" lengthAdjust="spacingAndGlyphs">Patient:</text>
<rect x="52.9" y="263.5" width="88.3" height="9.3" fill="#2f4d8a"/>
<text x="97.05" y="270.8" font-size="7.3" text-anchor="middle" fill="#fff" stroke="#fff" stroke-width="0.05" textLength="24" lengthAdjust="spacingAndGlyphs">Logistic</text>
<rect x="146" y="263.5" width="72.3" height="9.3" fill="#d9928b"/>
<text x="182.15" y="270.8" font-size="7.3" text-anchor="middle" fill="#231f20" stroke="#231f20" stroke-width="0.05" textLength="41.2" lengthAdjust="spacingAndGlyphs">Indeterminate</text>
<rect x="222.3" y="263.5" width="119.1" height="9.3" fill="#b0113a"/>
<text x="281.85" y="270.8" font-size="7.3" text-anchor="middle" fill="#fff" stroke="#fff" stroke-width="0.05" textLength="35.7" lengthAdjust="spacingAndGlyphs">Exponential</text>
<text x="29.5" y="280.8" font-size="6.6" text-anchor="middle" fill="#231f20" stroke="#231f20" stroke-width="0.08">IGHV</text>
<text x="50.4" y="288.9" font-size="6.5" text-anchor="end" fill="#231f20" stroke="#231f20" stroke-width="0.08" textLength="41.7" lengthAdjust="spacingAndGlyphs">mutation status</text>
<rect x="52.75" y="283.8" width="12.71" height="5.6" fill="#e8900c" stroke="#3a2a10" stroke-width="0.7"/>
<rect x="65.46" y="283.8" width="16.95" height="5.6" fill="#e8900c" stroke="#3a2a10" stroke-width="0.7"/>
<rect x="82.42" y="283.8" width="25.43" height="5.6" fill="#e8900c" stroke="#3a2a10" stroke-width="0.7"/>
<rect x="107.84" y="283.8" width="21.19" height="5.6" fill="#e8900c" stroke="#3a2a10" stroke-width="0.7"/>
<rect x="129.03" y="283.8" width="12.71" height="5.6" fill="#6aaee6" stroke="#3a2a10" stroke-width="0.7"/>
<rect x="146.1" y="283.8" width="12.72" height="5.6" fill="#e8900c" stroke="#3a2a10" stroke-width="0.7"/>
<rect x="158.82" y="283.8" width="12.72" height="5.6" fill="#e8900c" stroke="#3a2a10" stroke-width="0.7"/>
<rect x="171.54" y="283.8" width="12.72" height="5.6" fill="#e8900c" stroke="#3a2a10" stroke-width="0.7"/>
<rect x="184.26" y="283.8" width="12.72" height="5.6" fill="#e8900c" stroke="#3a2a10" stroke-width="0.7"/>
<rect x="196.98" y="283.8" width="8.48" height="5.6" fill="#6aaee6" stroke="#3a2a10" stroke-width="0.7"/>
<rect x="205.46" y="283.8" width="12.72" height="5.6" fill="#6aaee6" stroke="#3a2a10" stroke-width="0.7"/>
<rect x="222" y="283.8" width="8.59" height="5.6" fill="#e8900c" stroke="#3a2a10" stroke-width="0.7"/>
<rect x="230.59" y="283.8" width="12.88" height="5.6" fill="#e8900c" stroke="#3a2a10" stroke-width="0.7"/>
<rect x="243.47" y="283.8" width="12.88" height="5.6" fill="#e8900c" stroke="#3a2a10" stroke-width="0.7"/>
<rect x="256.36" y="283.8" width="12.88" height="5.6" fill="#6aaee6" stroke="#3a2a10" stroke-width="0.7"/>
<rect x="269.25" y="283.8" width="17.18" height="5.6" fill="#6aaee6" stroke="#3a2a10" stroke-width="0.7"/>
<rect x="286.43" y="283.8" width="12.88" height="5.6" fill="#6aaee6" stroke="#3a2a10" stroke-width="0.7"/>
<rect x="299.31" y="283.8" width="17.18" height="5.6" fill="#6aaee6" stroke="#3a2a10" stroke-width="0.7"/>
<rect x="316.49" y="283.8" width="8.59" height="5.6" fill="#6aaee6" stroke="#3a2a10" stroke-width="0.7"/>
<rect x="325.08" y="283.8" width="8.59" height="5.6" fill="#6aaee6" stroke="#3a2a10" stroke-width="0.7"/>
<rect x="333.67" y="283.8" width="8.59" height="5.6" fill="#6aaee6" stroke="#3a2a10" stroke-width="0.7"/>
<text x="240.9" y="282.1" font-size="7.1" text-anchor="middle" fill="#e8900c" stroke="#e8900c" stroke-width="0.1" textLength="25.8" lengthAdjust="spacingAndGlyphs">Mutated</text>
<text x="304.1" y="282.1" font-size="7.1" text-anchor="middle" fill="#6aaee6" stroke="#6aaee6" stroke-width="0.1" textLength="34.2" lengthAdjust="spacingAndGlyphs">Unmutated</text>
<text x="292.9" y="525.6" font-size="7.4" text-anchor="middle" fill="#231f20" stroke="#231f20" stroke-width="0.18" textLength="15.4" lengthAdjust="spacingAndGlyphs">CCF</text>
<rect x="232.6" y="531.9" width="13" height="3.3" rx="1.4" fill="#d2d2d2" stroke="#555" stroke-width="0.8"/>
<text x="238.8" y="545.2" font-size="7.1" text-anchor="middle" fill="#231f20" stroke="#231f20" stroke-width="0.18" textLength="21.8" lengthAdjust="spacingAndGlyphs">Absent</text>
<rect x="256.9" y="531.3" width="3.33" height="5.2" fill="#fef7b7"/>
<rect x="260.13" y="531.3" width="3.33" height="5.2" fill="#fdf095"/>
<rect x="263.35" y="531.3" width="3.33" height="5.2" fill="#fce66f"/>
<rect x="266.58" y="531.3" width="3.33" height="5.2" fill="#fbdc49"/>
<rect x="269.81" y="531.3" width="3.33" height="5.2" fill="#f9cb30"/>
<rect x="273.04" y="531.3" width="3.33" height="5.2" fill="#f6b424"/>
<rect x="276.26" y="531.3" width="3.33" height="5.2" fill="#f2951c"/>
<rect x="279.49" y="531.3" width="3.33" height="5.2" fill="#eb6e1b"/>
<rect x="282.72" y="531.3" width="3.33" height="5.2" fill="#e04425"/>
<rect x="285.95" y="531.3" width="3.33" height="5.2" fill="#d63327"/>
<rect x="289.17" y="531.3" width="3.33" height="5.2" fill="#cd2d25"/>
<rect x="292.4" y="531.3" width="3.33" height="5.2" fill="#c32724"/>
<rect x="295.63" y="531.3" width="3.33" height="5.2" fill="#b72121"/>
<rect x="298.85" y="531.3" width="3.33" height="5.2" fill="#a51d1d"/>
<rect x="302.08" y="531.3" width="3.33" height="5.2" fill="#921818"/>
<rect x="305.31" y="531.3" width="3.33" height="5.2" fill="#801414"/>
<rect x="308.54" y="531.3" width="3.33" height="5.2" fill="#6e1111"/>
<rect x="311.76" y="531.3" width="3.33" height="5.2" fill="#5c0e0e"/>
<rect x="314.99" y="531.3" width="3.33" height="5.2" fill="#4a0b0b"/>
<rect x="318.22" y="531.3" width="3.33" height="5.2" fill="#370808"/>
<rect x="321.45" y="531.3" width="3.33" height="5.2" fill="#250505"/>
<rect x="324.67" y="531.3" width="3.33" height="5.2" fill="#130202"/>
<line x1="260.13" y1="531.3" x2="260.13" y2="536.5" stroke="#fff" stroke-width="0.4" opacity="0.25"/>
<line x1="263.35" y1="531.3" x2="263.35" y2="536.5" stroke="#fff" stroke-width="0.4" opacity="0.25"/>
<line x1="266.58" y1="531.3" x2="266.58" y2="536.5" stroke="#fff" stroke-width="0.4" opacity="0.25"/>
<line x1="269.81" y1="531.3" x2="269.81" y2="536.5" stroke="#fff" stroke-width="0.4" opacity="0.25"/>
<line x1="273.04" y1="531.3" x2="273.04" y2="536.5" stroke="#fff" stroke-width="0.4" opacity="0.25"/>
<line x1="276.26" y1="531.3" x2="276.26" y2="536.5" stroke="#fff" stroke-width="0.4" opacity="0.25"/>
<line x1="279.49" y1="531.3" x2="279.49" y2="536.5" stroke="#fff" stroke-width="0.4" opacity="0.25"/>
<line x1="282.72" y1="531.3" x2="282.72" y2="536.5" stroke="#fff" stroke-width="0.4" opacity="0.25"/>
<line x1="285.95" y1="531.3" x2="285.95" y2="536.5" stroke="#fff" stroke-width="0.4" opacity="0.25"/>
<line x1="289.17" y1="531.3" x2="289.17" y2="536.5" stroke="#fff" stroke-width="0.4" opacity="0.25"/>
<line x1="292.4" y1="531.3" x2="292.4" y2="536.5" stroke="#fff" stroke-width="0.4" opacity="0.25"/>
<line x1="295.63" y1="531.3" x2="295.63" y2="536.5" stroke="#fff" stroke-width="0.4" opacity="0.25"/>
<line x1="298.85" y1="531.3" x2="298.85" y2="536.5" stroke="#fff" stroke-width="0.4" opacity="0.25"/>
<line x1="302.08" y1="531.3" x2="302.08" y2="536.5" stroke="#fff" stroke-width="0.4" opacity="0.25"/>
<line x1="305.31" y1="531.3" x2="305.31" y2="536.5" stroke="#fff" stroke-width="0.4" opacity="0.25"/>
<line x1="308.54" y1="531.3" x2="308.54" y2="536.5" stroke="#fff" stroke-width="0.4" opacity="0.25"/>
<line x1="311.76" y1="531.3" x2="311.76" y2="536.5" stroke="#fff" stroke-width="0.4" opacity="0.25"/>
<line x1="314.99" y1="531.3" x2="314.99" y2="536.5" stroke="#fff" stroke-width="0.4" opacity="0.25"/>
<line x1="318.22" y1="531.3" x2="318.22" y2="536.5" stroke="#fff" stroke-width="0.4" opacity="0.25"/>
<line x1="321.45" y1="531.3" x2="321.45" y2="536.5" stroke="#fff" stroke-width="0.4" opacity="0.25"/>
<line x1="324.67" y1="531.3" x2="324.67" y2="536.5" stroke="#fff" stroke-width="0.4" opacity="0.25"/>
<rect x="256.9" y="531.3" width="71" height="5.2" fill="none" stroke="#000" stroke-width="0.9"/>
<line x1="257.2" y1="536.5" x2="257.2" y2="539.2" stroke="#000" stroke-width="0.8"/>
<text x="257.2" y="549.6" font-size="7.3" text-anchor="middle" fill="#231f20" stroke="#231f20" stroke-width="0.18">0</text>
<line x1="271.18" y1="536.5" x2="271.18" y2="539.2" stroke="#000" stroke-width="0.8"/>
<text x="271.18" y="549.6" font-size="7.3" text-anchor="middle" fill="#231f20" stroke="#231f20" stroke-width="0.18">0.2</text>
<line x1="285.16" y1="536.5" x2="285.16" y2="539.2" stroke="#000" stroke-width="0.8"/>
<text x="285.16" y="549.6" font-size="7.3" text-anchor="middle" fill="#231f20" stroke="#231f20" stroke-width="0.18">0.4</text>
<line x1="299.14" y1="536.5" x2="299.14" y2="539.2" stroke="#000" stroke-width="0.8"/>
<text x="299.14" y="549.6" font-size="7.3" text-anchor="middle" fill="#231f20" stroke="#231f20" stroke-width="0.18">0.6</text>
<line x1="313.12" y1="536.5" x2="313.12" y2="539.2" stroke="#000" stroke-width="0.8"/>
<text x="313.12" y="549.6" font-size="7.3" text-anchor="middle" fill="#231f20" stroke="#231f20" stroke-width="0.18">0.8</text>
<line x1="327.1" y1="536.5" x2="327.1" y2="539.2" stroke="#000" stroke-width="0.8"/>
<text x="327.1" y="549.6" font-size="7.3" text-anchor="middle" fill="#231f20" stroke="#231f20" stroke-width="0.18">1</text>
<text x="261.9" y="17.4" font-size="11.8" text-anchor="start" fill="#000" font-weight="bold">D</text>
<text x="276" y="31" font-size="7.2" text-anchor="start" fill="#231f20" stroke="#231f20" stroke-width="0.06" textLength="37.2" lengthAdjust="spacingAndGlyphs">Clones with</text>
<text x="276" y="38.6" font-size="7.2" text-anchor="start" fill="#231f20" stroke="#231f20" stroke-width="0.06" textLength="60.9" lengthAdjust="spacingAndGlyphs">accelerated growth</text>
<text x="270.3" y="47.5" font-size="7.2" text-anchor="start" fill="#231f20" stroke="#231f20" stroke-width="0.06" textLength="92.4" lengthAdjust="spacingAndGlyphs">+ known driver (7 subclones)</text>
<text x="272.2" y="66.5" font-size="7.2" text-anchor="start" fill="#231f20" stroke="#231f20" stroke-width="0.06" textLength="15" lengthAdjust="spacingAndGlyphs">Cl. 4</text>
<text x="272.2" y="72.9" font-size="7.2" text-anchor="start" fill="#231f20" stroke="#231f20" stroke-width="0.06" textLength="17" lengthAdjust="spacingAndGlyphs">(Pt.1)</text>
<text x="318.45" y="67.3" font-size="7.2" text-anchor="middle" fill="#231f20" stroke="#231f20" stroke-width="0.06" textLength="29.3" lengthAdjust="spacingAndGlyphs">Common</text>
<text x="318.55" y="73.8" font-size="7.2" text-anchor="middle" fill="#231f20" stroke="#231f20" stroke-width="0.06" textLength="27.3" lengthAdjust="spacingAndGlyphs">ancestor</text>
<line x1="318.3" y1="81.1" x2="318.3" y2="92.4" stroke="#6aaa3c" stroke-width="1.4"/>
<circle cx="318.3" cy="79.0" r="2.0" fill="#fff" stroke="#6aaa3c" stroke-width="1.2"/>
<line x1="318.3" y1="92.4" x2="279.5" y2="105" stroke="#6aaee0" stroke-width="1.6"/>
<line x1="279.5" y1="105" x2="279.5" y2="118.8" stroke="#2e6b45" stroke-width="1.6"/>
<line x1="318.3" y1="92.4" x2="357.3" y2="104.9" stroke="#e8901a" stroke-width="1.6"/>
<line x1="357.3" y1="104.9" x2="357.3" y2="119" stroke="#8e8cc8" stroke-width="1.6"/>
<line x1="357.3" y1="119" x2="357.3" y2="131.8" stroke="#a8102c" stroke-width="1.6"/>
<rect x="324.5" y="109.4" width="52.7" height="15.0" rx="2.2" fill="none" stroke="#d6409f" stroke-width="1"/>
<circle cx="318.3" cy="92.4" r="2.3" fill="#6aaa3c"/>
<circle cx="279.5" cy="105.0" r="2.3" fill="#6aaee0"/>
<circle cx="279.5" cy="118.8" r="2.3" fill="#2e6b45"/>
<circle cx="357.3" cy="104.9" r="2.3" fill="#e8901a"/>
<circle cx="357.3" cy="119.0" r="2.3" fill="#8e8cc8"/>
<circle cx="357.3" cy="131.8" r="2.3" fill="#a8102c"/>
<text x="322" y="87" font-size="7.2" text-anchor="start" fill="#6aaa3c" stroke="#6aaa3c" stroke-width="0.06" font-style="italic" textLength="22.2" lengthAdjust="spacingAndGlyphs">SF3B1</text>
<text x="311.1" y="102.2" font-size="7.2" text-anchor="start" fill="#6aaa3c" stroke="#6aaa3c" stroke-width="0.06" textLength="14.6" lengthAdjust="spacingAndGlyphs">Cl. 0</text>
<text x="306" y="85.8" font-size="6.9" text-anchor="end" fill="#6aaee0" stroke="#6aaee0" stroke-width="0.06" textLength="25.7" lengthAdjust="spacingAndGlyphs">amp(8q)</text>
<text x="306" y="93.2" font-size="6.9" text-anchor="end" fill="#6aaee0" stroke="#6aaee0" stroke-width="0.06" textLength="26.8" lengthAdjust="spacingAndGlyphs"><tspan font-style="italic">del</tspan>(11q)</text>
<text x="261.1" y="107.6" font-size="7.2" text-anchor="start" fill="#6aaee0" stroke="#6aaee0" stroke-width="0.06" textLength="14.6" lengthAdjust="spacingAndGlyphs">Cl. 1</text>
<text x="282.9" y="115" font-size="7.2" text-anchor="start" fill="#2e6b45" stroke="#2e6b45" stroke-width="0.06" font-style="italic" textLength="28.2" lengthAdjust="spacingAndGlyphs">FAM50A</text>
<text x="261.1" y="121.5" font-size="7.2" text-anchor="start" fill="#2e6b45" stroke="#2e6b45" stroke-width="0.06" textLength="14.6" lengthAdjust="spacingAndGlyphs">Cl. 3</text>
<text x="342" y="97.2" font-size="7.0" text-anchor="start" fill="#e8901a" stroke="#e8901a" stroke-width="0.06" font-style="italic" textLength="16.4" lengthAdjust="spacingAndGlyphs">TP53</text>
<text x="361.3" y="106.9" font-size="7.2" text-anchor="start" fill="#e8901a" stroke="#e8901a" stroke-width="0.06" textLength="14.6" lengthAdjust="spacingAndGlyphs">Cl. 2</text>
<text x="330.1" y="115.3" font-size="6.1" text-anchor="start" fill="#8e8cc8" stroke="#8e8cc8" stroke-width="0.06" font-style="italic" textLength="22.6" lengthAdjust="spacingAndGlyphs">amp(5q)</text>
<text x="330.1" y="120.6" font-size="6.1" text-anchor="start" fill="#8e8cc8" stroke="#8e8cc8" stroke-width="0.06" font-style="italic" textLength="22.6" lengthAdjust="spacingAndGlyphs">del(17p)</text>
<text x="361.3" y="121.3" font-size="7.2" text-anchor="start" fill="#8e8cc8" stroke="#8e8cc8" stroke-width="0.06" textLength="13.6" lengthAdjust="spacingAndGlyphs">Cl. 4</text>
<text x="361.3" y="135.2" font-size="7.2" text-anchor="start" fill="#a8102c" stroke="#a8102c" stroke-width="0.06" textLength="14.6" lengthAdjust="spacingAndGlyphs">Cl. 5</text>
<g>
<polyline points="431.7,61.65 469.59,68.83 491.24,70.02 509.64,78.34" fill="none" stroke="#555" stroke-width="0.45" stroke-opacity="0.07"/>
<polyline points="431.7,52.81 469.59,60.22 491.24,72.51 509.64,74.79" fill="none" stroke="#555" stroke-width="0.45" stroke-opacity="0.07"/>
<polyline points="431.7,73.57 469.59,74.92 491.24,77.65 509.64,79.02" fill="none" stroke="#555" stroke-width="0.45" stroke-opacity="0.07"/>
<polyline points="431.7,57.45 469.59,57.54 491.24,70.29 509.64,76.61" fill="none" stroke="#555" stroke-width="0.45" stroke-opacity="0.07"/>
<polyline points="431.7,49 469.59,46.93 491.24,52.76 509.64,65.56" fill="none" stroke="#555" stroke-width="0.45" stroke-opacity="0.07"/>
<polyline points="431.7,34.47 469.59,55.58 491.24,53.87 509.64,69.66" fill="none" stroke="#555" stroke-width="0.45" stroke-opacity="0.07"/>
<polyline points="431.7,69.13 469.59,73.45 491.24,75.88 509.64,75.68" fill="none" stroke="#555" stroke-width="0.45" stroke-opacity="0.07"/>
<polyline points="431.7,67.61 469.59,69.36 491.24,70.59 509.64,75.03" fill="none" stroke="#555" stroke-width="0.45" stroke-opacity="0.07"/>
<polyline points="431.7,52.32 469.59,64.75 491.24,74.09 509.64,77.83" fill="none" stroke="#555" stroke-width="0.45" stroke-opacity="0.07"/>
<polyline points="431.7,46.79 469.59,54.68 491.24,64.91 509.64,68.32" fill="none" stroke="#555" stroke-width="0.45" stroke-opacity="0.07"/>
<polyline points="431.7,56.26 469.59,63.6 491.24,63.37 509.64,64.82" fill="none" stroke="#555" stroke-width="0.45" stroke-opacity="0.07"/>
<polyline points="431.7,64.97 469.59,67.18 491.24,69.91 509.64,68.63" fill="none" stroke="#555" stroke-width="0.45" stroke-opacity="0.07"/>
<polyline points="431.7,44.75 469.59,56.02 491.24,51.8 509.64,74.99" fill="none" stroke="#555" stroke-width="0.45" stroke-opacity="0.07"/>
<polyline points="431.7,57.72 469.59,58.7 491.24,70.25 509.64,73.51" fill="none" stroke="#555" stroke-width="0.45" stroke-opacity="0.07"/>
<polyline points="431.7,73.5 469.59,74.07 491.24,74.13 509.64,75.42" fill="none" stroke="#555" stroke-width="0.45" stroke-opacity="0.07"/>
<polyline points="431.7,38.67 469.59,51.3 491.24,53.37 509.64,59.24" fill="none" stroke="#555" stroke-width="0.45" stroke-opacity="0.07"/>
<polyline points="431.7,50.98 469.59,57.37 491.24,56.14 509.64,50.88" fill="none" stroke="#555" stroke-width="0.45" stroke-opacity="0.07"/>
<polyline points="431.7,55.39 469.59,57.8 491.24,71.61 509.64,72.28" fill="none" stroke="#555" stroke-width="0.45" stroke-opacity="0.07"/>
<polyline points="431.7,48.18 469.59,45.21 491.24,43.85 509.64,66.12" fill="none" stroke="#555" stroke-width="0.45" stroke-opacity="0.07"/>
<polyline points="431.7,59.07 469.59,61.05 491.24,73.39 509.64,75.71" fill="none" stroke="#555" stroke-width="0.45" stroke-opacity="0.07"/>
<polyline points="431.7,68.14 469.59,72.89 491.24,76.97 509.64,76.98" fill="none" stroke="#555" stroke-width="0.45" stroke-opacity="0.07"/>
<polyline points="431.7,69.75 469.59,73.07 491.24,75.2 509.64,74.67" fill="none" stroke="#555" stroke-width="0.45" stroke-opacity="0.07"/>
<polyline points="431.7,71.78 469.59,73.49 491.24,74.66 509.64,73.99" fill="none" stroke="#555" stroke-width="0.45" stroke-opacity="0.07"/>
<polyline points="431.7,41.01 469.59,40.31 491.24,57.79 509.64,67.64" fill="none" stroke="#555" stroke-width="0.45" stroke-opacity="0.07"/>
<polyline points="431.7,60.19 469.59,59.61 491.24,56.44 509.64,74.73" fill="none" stroke="#555" stroke-width="0.45" stroke-opacity="0.07"/>
<polyline points="431.7,67.8 469.59,71.91 491.24,75.48 509.64,76.86" fill="none" stroke="#555" stroke-width="0.45" stroke-opacity="0.07"/>
<polyline points="431.7,50.6 469.59,60.39 491.24,73.49 509.64,76.09" fill="none" stroke="#555" stroke-width="0.45" stroke-opacity="0.07"/>
<polyline points="431.7,59.75 469.59,62.87 491.24,60.29 509.64,62.23" fill="none" stroke="#555" stroke-width="0.45" stroke-opacity="0.07"/>
<polyline points="431.7,53.66 469.59,56.97 491.24,59 509.64,77.78" fill="none" stroke="#555" stroke-width="0.45" stroke-opacity="0.07"/>
<polyline points="431.7,37.67 469.59,38.99 491.24,35.49 509.64,33.87" fill="none" stroke="#555" stroke-width="0.45" stroke-opacity="0.07"/>
<polyline points="431.7,58.79 469.59,64.11 491.24,73.27 509.64,74.31" fill="none" stroke="#555" stroke-width="0.45" stroke-opacity="0.07"/>
<polyline points="431.7,72.54 469.59,75.6 491.24,77.44 509.64,78.83" fill="none" stroke="#555" stroke-width="0.45" stroke-opacity="0.07"/>
<polyline points="431.7,60.97 469.59,69.51 491.24,76.29 509.64,78.63" fill="none" stroke="#555" stroke-width="0.45" stroke-opacity="0.07"/>
<polyline points="431.7,70.91 469.59,73.25 491.24,77.28 509.64,77.01" fill="none" stroke="#555" stroke-width="0.45" stroke-opacity="0.07"/>
<polyline points="431.7,49.56 469.59,61.74 491.24,70 509.64,75.04" fill="none" stroke="#555" stroke-width="0.45" stroke-opacity="0.07"/>
<polyline points="431.7,59.97 469.59,68.17 491.24,67.46 509.64,64.04" fill="none" stroke="#555" stroke-width="0.45" stroke-opacity="0.07"/>
<polyline points="431.7,55.72 469.59,60.65 491.24,72.2 509.64,78.27" fill="none" stroke="#555" stroke-width="0.45" stroke-opacity="0.07"/>
<polyline points="431.7,60.86 469.59,67.12 491.24,66.56 509.64,76.55" fill="none" stroke="#555" stroke-width="0.45" stroke-opacity="0.07"/>
<polyline points="431.7,74.17 469.59,73.82 491.24,75.03 509.64,78.4" fill="none" stroke="#555" stroke-width="0.45" stroke-opacity="0.07"/>
<polyline points="431.7,52.51 469.59,65.42 491.24,68.52 509.64,65.61" fill="none" stroke="#555" stroke-width="0.45" stroke-opacity="0.07"/>
<polyline points="431.7,39.17 469.59,42.47 491.24,59.55 509.64,69.83" fill="none" stroke="#555" stroke-width="0.45" stroke-opacity="0.07"/>
<polyline points="431.7,68.18 469.59,68.58 491.24,70.93 509.64,70.82" fill="none" stroke="#555" stroke-width="0.45" stroke-opacity="0.07"/>
<polyline points="431.7,61.4 469.59,67.92 491.24,67.58 509.64,64.32" fill="none" stroke="#555" stroke-width="0.45" stroke-opacity="0.07"/>
<polyline points="431.7,39.62 469.59,40.27 491.24,38.85 509.64,40.39" fill="none" stroke="#555" stroke-width="0.45" stroke-opacity="0.07"/>
<polyline points="431.7,65.69 469.59,68.25 491.24,72.41 509.64,78.94" fill="none" stroke="#555" stroke-width="0.45" stroke-opacity="0.07"/>
<polyline points="431.7,73.97 469.59,75.71 491.24,77.34 509.64,77.52" fill="none" stroke="#555" stroke-width="0.45" stroke-opacity="0.07"/>
<polyline points="431.7,35.29 469.59,45.46 491.24,40.63 509.64,33.48" fill="none" stroke="#555" stroke-width="0.45" stroke-opacity="0.07"/>
<polyline points="431.7,35.35 469.59,47.68 491.24,63.49 509.64,74.57" fill="none" stroke="#555" stroke-width="0.45" stroke-opacity="0.07"/>
<polyline points="431.7,66.94 469.59,71.57 491.24,72.62 509.64,71.5" fill="none" stroke="#555" stroke-width="0.45" stroke-opacity="0.07"/>
<polyline points="431.7,40.13 469.59,48.42 491.24,51.88 509.64,50.8" fill="none" stroke="#555" stroke-width="0.45" stroke-opacity="0.07"/>
<polyline points="431.7,71.6 469.59,72.39 491.24,71.58 509.64,71.45" fill="none" stroke="#555" stroke-width="0.45" stroke-opacity="0.07"/>
<polyline points="431.7,43.89 469.59,51.42 491.24,66.4 509.64,66.07" fill="none" stroke="#555" stroke-width="0.45" stroke-opacity="0.07"/>
<polyline points="431.7,61.28 469.59,61.63 491.24,58.57 509.64,68.58" fill="none" stroke="#555" stroke-width="0.45" stroke-opacity="0.07"/>
<polyline points="431.7,58.42 469.59,57 491.24,58.06 509.64,74.53" fill="none" stroke="#555" stroke-width="0.45" stroke-opacity="0.07"/>
<polyline points="431.7,69.84 469.59,73.67 491.24,73.04 509.64,72.74" fill="none" stroke="#555" stroke-width="0.45" stroke-opacity="0.07"/>
<polyline points="431.7,69.05 469.59,69.09 491.24,67.25 509.64,68.99" fill="none" stroke="#555" stroke-width="0.45" stroke-opacity="0.07"/>
<polyline points="431.7,60.54 469.59,63.73 491.24,72.73 509.64,79.08" fill="none" stroke="#555" stroke-width="0.45" stroke-opacity="0.07"/>
<polyline points="431.7,34.69 469.59,39.6 491.24,48.55 509.64,42" fill="none" stroke="#555" stroke-width="0.45" stroke-opacity="0.07"/>
<polyline points="431.7,57.07 469.59,56.56 491.24,55.57 509.64,72.72" fill="none" stroke="#555" stroke-width="0.45" stroke-opacity="0.07"/>
<polyline points="431.7,64.65 469.59,69.36 491.24,74.12 509.64,75.33" fill="none" stroke="#555" stroke-width="0.45" stroke-opacity="0.07"/>
<polyline points="431.7,64.33 469.59,68.03 491.24,74.53 509.64,73.68" fill="none" stroke="#555" stroke-width="0.45" stroke-opacity="0.07"/>
<polyline points="431.7,60.4 469.59,64.63 491.24,67.18 509.64,65.07" fill="none" stroke="#555" stroke-width="0.45" stroke-opacity="0.07"/>
<polyline points="431.7,57.61 469.59,56.52 491.24,62.16 509.64,67.42" fill="none" stroke="#555" stroke-width="0.45" stroke-opacity="0.07"/>
<polyline points="431.7,53.33 469.59,65.97 491.24,69.99 509.64,77.01" fill="none" stroke="#555" stroke-width="0.45" stroke-opacity="0.07"/>
<polyline points="431.7,74.97 469.59,75.06 491.24,77.32 509.64,78.04" fill="none" stroke="#555" stroke-width="0.45" stroke-opacity="0.07"/>
<polyline points="431.7,44.93 469.59,50.62 491.24,62.24 509.64,67.77" fill="none" stroke="#555" stroke-width="0.45" stroke-opacity="0.07"/>
<polyline points="431.7,52 469.59,52.8 491.24,68.76 509.64,71.59" fill="none" stroke="#555" stroke-width="0.45" stroke-opacity="0.07"/>
<polyline points="431.7,64.78 469.59,69.6 491.24,69.64 509.64,72.89" fill="none" stroke="#555" stroke-width="0.45" stroke-opacity="0.07"/>
<polyline points="431.7,51.74 469.59,52.95 491.24,49.76 509.64,62.24" fill="none" stroke="#555" stroke-width="0.45" stroke-opacity="0.07"/>
<polyline points="431.7,49.62 469.59,55.44 491.24,61.12 509.64,62.92" fill="none" stroke="#555" stroke-width="0.45" stroke-opacity="0.07"/>
<polyline points="431.7,56.29 469.59,60.42 491.24,65.48 509.64,62.41" fill="none" stroke="#555" stroke-width="0.45" stroke-opacity="0.07"/>
<polyline points="431.7,46.01 469.59,45.15 491.24,40.11 509.64,66.01" fill="none" stroke="#555" stroke-width="0.45" stroke-opacity="0.07"/>
<polyline points="431.7,51.83 469.59,50.02 491.24,48.39 509.64,73.71" fill="none" stroke="#555" stroke-width="0.45" stroke-opacity="0.07"/>
<polyline points="431.7,70.07 469.59,72.21 491.24,76.65 509.64,78.4" fill="none" stroke="#555" stroke-width="0.45" stroke-opacity="0.07"/>
<polyline points="431.7,72.09 469.59,72.79 491.24,72.75 509.64,71.68" fill="none" stroke="#555" stroke-width="0.45" stroke-opacity="0.07"/>
<polyline points="431.7,68.7 469.59,69.44 491.24,70.47 509.64,77.58" fill="none" stroke="#555" stroke-width="0.45" stroke-opacity="0.07"/>
<polyline points="431.7,38.36 469.59,35.07 491.24,57.24 509.64,52.01" fill="none" stroke="#555" stroke-width="0.45" stroke-opacity="0.07"/>
<polyline points="431.7,58.55 469.59,62.83 491.24,59.71 509.64,58.11" fill="none" stroke="#555" stroke-width="0.45" stroke-opacity="0.07"/>
<polyline points="431.7,68.41 469.59,71.01 491.24,72.94 509.64,76.44" fill="none" stroke="#555" stroke-width="0.45" stroke-opacity="0.07"/>
<polyline points="431.7,66.98 469.59,70.76 491.24,71.18 509.64,79" fill="none" stroke="#555" stroke-width="0.45" stroke-opacity="0.07"/>
<polyline points="431.7,48.72 469.59,52.33 491.24,57.32 509.64,69.3" fill="none" stroke="#a4a0f0" stroke-width="1.0" stroke-opacity="0.08" stroke-linejoin="round"/>
<polyline points="431.7,46.52 469.59,51.93 491.24,56.58 509.64,71.07" fill="none" stroke="#a4a0f0" stroke-width="1.0" stroke-opacity="0.08" stroke-linejoin="round"/>
<polyline points="431.7,45.28 469.59,49.41 491.24,53.76 509.64,61.53" fill="none" stroke="#a4a0f0" stroke-width="1.0" stroke-opacity="0.08" stroke-linejoin="round"/>
<polyline points="431.7,46.97 469.59,49.91 491.24,54.03 509.64,62.84" fill="none" stroke="#a4a0f0" stroke-width="1.0" stroke-opacity="0.08" stroke-linejoin="round"/>
<polyline points="431.7,43.21 469.59,49.99 491.24,53.1 509.64,58.16" fill="none" stroke="#a4a0f0" stroke-width="1.0" stroke-opacity="0.08" stroke-linejoin="round"/>
<polyline points="431.7,46.61 469.59,51.5 491.24,53.44 509.64,61.74" fill="none" stroke="#a4a0f0" stroke-width="1.0" stroke-opacity="0.08" stroke-linejoin="round"/>
<polyline points="431.7,49.65 469.59,52.17 491.24,57.05 509.64,66.22" fill="none" stroke="#a4a0f0" stroke-width="1.0" stroke-opacity="0.08" stroke-linejoin="round"/>
<polyline points="431.7,45.79 469.59,49.89 491.24,55.21 509.64,61.73" fill="none" stroke="#a4a0f0" stroke-width="1.0" stroke-opacity="0.08" stroke-linejoin="round"/>
<polyline points="431.7,46.47 469.59,51.74 491.24,55.53 509.64,63.55" fill="none" stroke="#a4a0f0" stroke-width="1.0" stroke-opacity="0.08" stroke-linejoin="round"/>
<polyline points="431.7,45.62 469.59,50.57 491.24,54.79 509.64,61.31" fill="none" stroke="#a4a0f0" stroke-width="1.0" stroke-opacity="0.08" stroke-linejoin="round"/>
<polyline points="431.7,47.11 469.59,51.52 491.24,55.22 509.64,63.92" fill="none" stroke="#a4a0f0" stroke-width="1.0" stroke-opacity="0.08" stroke-linejoin="round"/>
<polyline points="431.7,46.41 469.59,50.93 491.24,55.1 509.64,65.11" fill="none" stroke="#a4a0f0" stroke-width="1.0" stroke-opacity="0.08" stroke-linejoin="round"/>
<polyline points="431.7,45.28 469.59,50.39 491.24,54.6 509.64,61.61" fill="none" stroke="#a4a0f0" stroke-width="1.0" stroke-opacity="0.08" stroke-linejoin="round"/>
<polyline points="431.7,49.58 469.59,52.7 491.24,57.95 509.64,66.83" fill="none" stroke="#a4a0f0" stroke-width="1.0" stroke-opacity="0.08" stroke-linejoin="round"/>
<polyline points="431.7,50.25 469.59,53.47 491.24,56.4 509.64,68.91" fill="none" stroke="#a4a0f0" stroke-width="1.0" stroke-opacity="0.08" stroke-linejoin="round"/>
<polyline points="431.7,49.6 469.59,53.07 491.24,57.75 509.64,69.27" fill="none" stroke="#a4a0f0" stroke-width="1.0" stroke-opacity="0.08" stroke-linejoin="round"/>
<polyline points="431.7,43.61 469.59,49.01 491.24,51.88 509.64,55.58" fill="none" stroke="#a4a0f0" stroke-width="1.0" stroke-opacity="0.08" stroke-linejoin="round"/>
<polyline points="431.7,44.32 469.59,50.36 491.24,53.46 509.64,58.97" fill="none" stroke="#a4a0f0" stroke-width="1.0" stroke-opacity="0.08" stroke-linejoin="round"/>
<polyline points="431.7,46.55 469.59,51.39 491.24,55.28 509.64,65.47" fill="none" stroke="#a4a0f0" stroke-width="1.0" stroke-opacity="0.08" stroke-linejoin="round"/>
<polyline points="431.7,41.39 469.59,47.49 491.24,50.09 509.64,49.92" fill="none" stroke="#a4a0f0" stroke-width="1.0" stroke-opacity="0.08" stroke-linejoin="round"/>
<polyline points="431.7,46.75 469.59,51.26 491.24,56.02 509.64,67.02" fill="none" stroke="#a4a0f0" stroke-width="1.0" stroke-opacity="0.08" stroke-linejoin="round"/>
<polyline points="431.7,46.13 469.59,50.37 491.24,54.39 509.64,63.16" fill="none" stroke="#a4a0f0" stroke-width="1.0" stroke-opacity="0.08" stroke-linejoin="round"/>
<polyline points="431.7,44.83 469.59,49.85 491.24,53.55 509.64,60.84" fill="none" stroke="#a4a0f0" stroke-width="1.0" stroke-opacity="0.08" stroke-linejoin="round"/>
<polyline points="431.7,46.12 469.59,50.55 491.24,53.93 509.64,63.25" fill="none" stroke="#a4a0f0" stroke-width="1.0" stroke-opacity="0.08" stroke-linejoin="round"/>
<polyline points="431.7,48.71 469.59,52.29 491.24,55.81 509.64,64.93" fill="none" stroke="#a4a0f0" stroke-width="1.0" stroke-opacity="0.08" stroke-linejoin="round"/>
<polyline points="431.7,46.93 469.59,52.1 491.24,54.13 509.64,63.45" fill="none" stroke="#a4a0f0" stroke-width="1.0" stroke-opacity="0.08" stroke-linejoin="round"/>
<polyline points="431.7,45.29 469.59,49.69 491.24,54.4 509.64,58.41" fill="none" stroke="#a4a0f0" stroke-width="1.0" stroke-opacity="0.08" stroke-linejoin="round"/>
<polyline points="431.7,46.21 469.59,49.86 491.24,52.98 509.64,62.67" fill="none" stroke="#a4a0f0" stroke-width="1.0" stroke-opacity="0.08" stroke-linejoin="round"/>
<polyline points="431.7,50.6 469.59,54.38 491.24,60.03 509.64,71.33" fill="none" stroke="#a4a0f0" stroke-width="1.0" stroke-opacity="0.08" stroke-linejoin="round"/>
<polyline points="431.7,45.85 469.59,50.51 491.24,53.75 509.64,61.29" fill="none" stroke="#a4a0f0" stroke-width="1.0" stroke-opacity="0.08" stroke-linejoin="round"/>
<polyline points="431.7,55.17 469.59,56.79 491.24,60.79 509.64,76" fill="none" stroke="#30b4e6" stroke-width="1.0" stroke-opacity="0.1" stroke-linejoin="round"/>
<polyline points="431.7,51.36 469.59,54.78 491.24,58.23 509.64,72.6" fill="none" stroke="#30b4e6" stroke-width="1.0" stroke-opacity="0.1" stroke-linejoin="round"/>
<polyline points="431.7,52.47 469.59,54.19 491.24,58.3 509.64,72.48" fill="none" stroke="#30b4e6" stroke-width="1.0" stroke-opacity="0.1" stroke-linejoin="round"/>
<polyline points="431.7,51.03 469.59,53.59 491.24,56.76 509.64,74.12" fill="none" stroke="#30b4e6" stroke-width="1.0" stroke-opacity="0.1" stroke-linejoin="round"/>
<polyline points="431.7,53.98 469.59,56.48 491.24,59.21 509.64,74.96" fill="none" stroke="#30b4e6" stroke-width="1.0" stroke-opacity="0.1" stroke-linejoin="round"/>
<polyline points="431.7,55.12 469.59,56.44 491.24,59.83 509.64,75.55" fill="none" stroke="#30b4e6" stroke-width="1.0" stroke-opacity="0.1" stroke-linejoin="round"/>
<polyline points="431.7,52.53 469.59,53.95 491.24,57.48 509.64,72.04" fill="none" stroke="#30b4e6" stroke-width="1.0" stroke-opacity="0.1" stroke-linejoin="round"/>
<polyline points="431.7,51.67 469.59,54.12 491.24,57.02 509.64,72.51" fill="none" stroke="#30b4e6" stroke-width="1.0" stroke-opacity="0.1" stroke-linejoin="round"/>
<polyline points="431.7,54.4 469.59,56.08 491.24,59.54 509.64,74.95" fill="none" stroke="#30b4e6" stroke-width="1.0" stroke-opacity="0.1" stroke-linejoin="round"/>
<polyline points="431.7,50.85 469.59,54.73 491.24,57.41 509.64,73.54" fill="none" stroke="#30b4e6" stroke-width="1.0" stroke-opacity="0.1" stroke-linejoin="round"/>
<polyline points="431.7,51.12 469.59,52.28 491.24,54.91 509.64,69.23" fill="none" stroke="#30b4e6" stroke-width="1.0" stroke-opacity="0.1" stroke-linejoin="round"/>
<polyline points="431.7,46.17 469.59,48.85 491.24,52.06 509.64,65.82" fill="none" stroke="#30b4e6" stroke-width="1.0" stroke-opacity="0.1" stroke-linejoin="round"/>
<polyline points="431.7,50.73 469.59,52.58 491.24,57.09 509.64,70.25" fill="none" stroke="#30b4e6" stroke-width="1.0" stroke-opacity="0.1" stroke-linejoin="round"/>
<polyline points="431.7,53.89 469.59,54.29 491.24,59.58 509.64,75.16" fill="none" stroke="#30b4e6" stroke-width="1.0" stroke-opacity="0.1" stroke-linejoin="round"/>
<polyline points="431.7,49.09 469.59,52.23 491.24,54.81 509.64,69.12" fill="none" stroke="#30b4e6" stroke-width="1.0" stroke-opacity="0.1" stroke-linejoin="round"/>
<polyline points="431.7,50.76 469.59,51.45 491.24,54.73 509.64,70.78" fill="none" stroke="#30b4e6" stroke-width="1.0" stroke-opacity="0.1" stroke-linejoin="round"/>
<polyline points="431.7,51.5 469.59,52.44 491.24,57.31 509.64,71.31" fill="none" stroke="#30b4e6" stroke-width="1.0" stroke-opacity="0.1" stroke-linejoin="round"/>
<polyline points="431.7,53.42 469.59,54.21 491.24,57.38 509.64,73.82" fill="none" stroke="#30b4e6" stroke-width="1.0" stroke-opacity="0.1" stroke-linejoin="round"/>
<polyline points="431.7,52.67 469.59,55.04 491.24,58.51 509.64,72.96" fill="none" stroke="#30b4e6" stroke-width="1.0" stroke-opacity="0.1" stroke-linejoin="round"/>
<polyline points="431.7,49.6 469.59,50.37 491.24,55.05 509.64,69.02" fill="none" stroke="#30b4e6" stroke-width="1.0" stroke-opacity="0.1" stroke-linejoin="round"/>
<polyline points="431.7,53.28 469.59,56.04 491.24,57.4 509.64,73.03" fill="none" stroke="#30b4e6" stroke-width="1.0" stroke-opacity="0.1" stroke-linejoin="round"/>
<polyline points="431.7,55.75 469.59,56.97 491.24,58.99 509.64,76.09" fill="none" stroke="#30b4e6" stroke-width="1.0" stroke-opacity="0.1" stroke-linejoin="round"/>
<polyline points="431.7,52.16 469.59,53.98 491.24,58.25 509.64,72.73" fill="none" stroke="#30b4e6" stroke-width="1.0" stroke-opacity="0.1" stroke-linejoin="round"/>
<polyline points="431.7,55.11 469.59,56.16 491.24,59.95 509.64,76.45" fill="none" stroke="#30b4e6" stroke-width="1.0" stroke-opacity="0.1" stroke-linejoin="round"/>
<polyline points="431.7,53.71 469.59,55.71 491.24,58.08 509.64,74.21" fill="none" stroke="#30b4e6" stroke-width="1.0" stroke-opacity="0.1" stroke-linejoin="round"/>
<polyline points="431.7,52.41 469.59,54.44 491.24,58.26 509.64,73.2" fill="none" stroke="#30b4e6" stroke-width="1.0" stroke-opacity="0.1" stroke-linejoin="round"/>
<polyline points="431.7,50.68 469.59,52.92 491.24,55.26 509.64,72.47" fill="none" stroke="#30b4e6" stroke-width="1.0" stroke-opacity="0.1" stroke-linejoin="round"/>
<polyline points="431.7,49.5 469.59,54.94 491.24,57.7 509.64,72.41" fill="none" stroke="#30b4e6" stroke-width="1.0" stroke-opacity="0.1" stroke-linejoin="round"/>
<polyline points="431.7,51.09 469.59,53.67 491.24,56.78 509.64,72.16" fill="none" stroke="#30b4e6" stroke-width="1.0" stroke-opacity="0.1" stroke-linejoin="round"/>
<polyline points="431.7,51.52 469.59,52.98 491.24,55.79 509.64,71.55" fill="none" stroke="#30b4e6" stroke-width="1.0" stroke-opacity="0.1" stroke-linejoin="round"/>
<polyline points="431.7,53.65 469.59,56.06 491.24,59.03 509.64,74.59" fill="none" stroke="#30b4e6" stroke-width="1.0" stroke-opacity="0.1" stroke-linejoin="round"/>
<polyline points="431.7,50.66 469.59,53.32 491.24,57.74 509.64,71.84" fill="none" stroke="#30b4e6" stroke-width="1.0" stroke-opacity="0.1" stroke-linejoin="round"/>
<polyline points="431.7,51.15 469.59,53.05 491.24,55.9 509.64,72.22" fill="none" stroke="#30b4e6" stroke-width="1.0" stroke-opacity="0.1" stroke-linejoin="round"/>
<polyline points="431.7,48.81 469.59,53.01 491.24,55.95 509.64,71.1" fill="none" stroke="#30b4e6" stroke-width="1.0" stroke-opacity="0.1" stroke-linejoin="round"/>
<polyline points="431.7,47.99 469.59,50.5 491.24,54.72 509.64,68.7" fill="none" stroke="#30b4e6" stroke-width="1.0" stroke-opacity="0.1" stroke-linejoin="round"/>
<polyline points="431.7,53.21 469.59,52.92 491.24,56.74 509.64,74.18" fill="none" stroke="#30b4e6" stroke-width="1.0" stroke-opacity="0.1" stroke-linejoin="round"/>
<polyline points="431.7,50.17 469.59,52.2 491.24,55.58 509.64,72.04" fill="none" stroke="#30b4e6" stroke-width="1.0" stroke-opacity="0.1" stroke-linejoin="round"/>
<polyline points="431.7,51.06 469.59,54.53 491.24,58.51 509.64,74.34" fill="none" stroke="#30b4e6" stroke-width="1.0" stroke-opacity="0.1" stroke-linejoin="round"/>
<polyline points="431.7,54.29 469.59,54.92 491.24,59.53 509.64,75.48" fill="none" stroke="#30b4e6" stroke-width="1.0" stroke-opacity="0.1" stroke-linejoin="round"/>
<polyline points="431.7,47.08 469.59,50.25 491.24,52.44 509.64,66.43" fill="none" stroke="#30b4e6" stroke-width="1.0" stroke-opacity="0.1" stroke-linejoin="round"/>
<polyline points="431.7,64.02 469.59,62.26 491.24,54.63 509.64,48.61" fill="none" stroke="#f26a6a" stroke-width="1.0" stroke-opacity="0.1" stroke-linejoin="round"/>
<polyline points="431.7,61.4 469.59,60.49 491.24,52.89 509.64,43.57" fill="none" stroke="#f26a6a" stroke-width="1.0" stroke-opacity="0.1" stroke-linejoin="round"/>
<polyline points="431.7,60.37 469.59,60.13 491.24,53.5 509.64,42.86" fill="none" stroke="#f26a6a" stroke-width="1.0" stroke-opacity="0.1" stroke-linejoin="round"/>
<polyline points="431.7,62.26 469.59,61.41 491.24,52.85 509.64,46.25" fill="none" stroke="#f26a6a" stroke-width="1.0" stroke-opacity="0.1" stroke-linejoin="round"/>
<polyline points="431.7,60.42 469.59,61.62 491.24,52.45 509.64,43.89" fill="none" stroke="#f26a6a" stroke-width="1.0" stroke-opacity="0.1" stroke-linejoin="round"/>
<polyline points="431.7,60.46 469.59,61.06 491.24,51.3 509.64,40.74" fill="none" stroke="#f26a6a" stroke-width="1.0" stroke-opacity="0.1" stroke-linejoin="round"/>
<polyline points="431.7,61.01 469.59,61.71 491.24,54.21 509.64,44.18" fill="none" stroke="#f26a6a" stroke-width="1.0" stroke-opacity="0.1" stroke-linejoin="round"/>
<polyline points="431.7,64.99 469.59,63.61 491.24,55.5 509.64,49.23" fill="none" stroke="#f26a6a" stroke-width="1.0" stroke-opacity="0.1" stroke-linejoin="round"/>
<polyline points="431.7,60.2 469.59,59.56 491.24,50.01 509.64,42.35" fill="none" stroke="#f26a6a" stroke-width="1.0" stroke-opacity="0.1" stroke-linejoin="round"/>
<polyline points="431.7,54.97 469.59,55.58 491.24,46.11 509.64,31.55" fill="none" stroke="#f26a6a" stroke-width="1.0" stroke-opacity="0.1" stroke-linejoin="round"/>
<polyline points="431.7,65.41 469.59,62.49 491.24,54.71 509.64,46.76" fill="none" stroke="#f26a6a" stroke-width="1.0" stroke-opacity="0.1" stroke-linejoin="round"/>
<polyline points="431.7,53.54 469.59,54.88 491.24,44.77 509.64,31.41" fill="none" stroke="#f26a6a" stroke-width="1.0" stroke-opacity="0.1" stroke-linejoin="round"/>
<polyline points="431.7,57.28 469.59,57.29 491.24,51.11 509.64,34.71" fill="none" stroke="#f26a6a" stroke-width="1.0" stroke-opacity="0.1" stroke-linejoin="round"/>
<polyline points="431.7,60.53 469.59,59.63 491.24,53.23 509.64,44.5" fill="none" stroke="#f26a6a" stroke-width="1.0" stroke-opacity="0.1" stroke-linejoin="round"/>
<polyline points="431.7,62.42 469.59,61.87 491.24,52.98 509.64,44.6" fill="none" stroke="#f26a6a" stroke-width="1.0" stroke-opacity="0.1" stroke-linejoin="round"/>
<polyline points="431.7,60.39 469.59,59.62 491.24,51.67 509.64,42.56" fill="none" stroke="#f26a6a" stroke-width="1.0" stroke-opacity="0.1" stroke-linejoin="round"/>
<polyline points="431.7,58.85 469.59,59.87 491.24,49.29 509.64,39.26" fill="none" stroke="#f26a6a" stroke-width="1.0" stroke-opacity="0.1" stroke-linejoin="round"/>
<polyline points="431.7,61.88 469.59,62.1 491.24,56.1 509.64,44.22" fill="none" stroke="#f26a6a" stroke-width="1.0" stroke-opacity="0.1" stroke-linejoin="round"/>
<polyline points="431.7,58.76 469.59,59.59 491.24,51.56 509.64,43.47" fill="none" stroke="#f26a6a" stroke-width="1.0" stroke-opacity="0.1" stroke-linejoin="round"/>
<polyline points="431.7,57.91 469.59,58.63 491.24,49.5 509.64,38.56" fill="none" stroke="#f26a6a" stroke-width="1.0" stroke-opacity="0.1" stroke-linejoin="round"/>
<polyline points="431.7,59.02 469.59,59.06 491.24,52.46 509.64,40.48" fill="none" stroke="#f26a6a" stroke-width="1.0" stroke-opacity="0.1" stroke-linejoin="round"/>
<polyline points="431.7,57.5 469.59,59.29 491.24,50.67 509.64,37.63" fill="none" stroke="#f26a6a" stroke-width="1.0" stroke-opacity="0.1" stroke-linejoin="round"/>
<polyline points="431.7,60.58 469.59,59.87 491.24,53.07 509.64,42.2" fill="none" stroke="#f26a6a" stroke-width="1.0" stroke-opacity="0.1" stroke-linejoin="round"/>
<polyline points="431.7,62.02 469.59,61.9 491.24,53.98 509.64,43.9" fill="none" stroke="#f26a6a" stroke-width="1.0" stroke-opacity="0.1" stroke-linejoin="round"/>
<polyline points="431.7,54.93 469.59,55.96 491.24,45.76 509.64,34.41" fill="none" stroke="#f26a6a" stroke-width="1.0" stroke-opacity="0.1" stroke-linejoin="round"/>
<polyline points="431.7,58.63 469.59,59.59 491.24,50.54 509.64,42.81" fill="none" stroke="#f26a6a" stroke-width="1.0" stroke-opacity="0.1" stroke-linejoin="round"/>
<polyline points="431.7,59.85 469.59,59.36 491.24,50.84 509.64,40.11" fill="none" stroke="#f26a6a" stroke-width="1.0" stroke-opacity="0.1" stroke-linejoin="round"/>
<polyline points="431.7,58.15 469.59,58.94 491.24,49.61 509.64,36.88" fill="none" stroke="#f26a6a" stroke-width="1.0" stroke-opacity="0.1" stroke-linejoin="round"/>
<polyline points="431.7,60.06 469.59,59.51 491.24,52.02 509.64,44.42" fill="none" stroke="#f26a6a" stroke-width="1.0" stroke-opacity="0.1" stroke-linejoin="round"/>
<polyline points="431.7,52.12 469.59,56.76 491.24,45.99 509.64,31.91" fill="none" stroke="#f26a6a" stroke-width="1.0" stroke-opacity="0.1" stroke-linejoin="round"/>
<polyline points="431.7,57.36 469.59,58.64 491.24,50.76 509.64,38.55" fill="none" stroke="#f26a6a" stroke-width="1.0" stroke-opacity="0.1" stroke-linejoin="round"/>
<polyline points="431.7,58.75 469.59,59.03 491.24,49.67 509.64,41.18" fill="none" stroke="#f26a6a" stroke-width="1.0" stroke-opacity="0.1" stroke-linejoin="round"/>
<polyline points="431.7,61.45 469.59,60.61 491.24,53.56 509.64,44.94" fill="none" stroke="#f26a6a" stroke-width="1.0" stroke-opacity="0.1" stroke-linejoin="round"/>
<polyline points="431.7,61.45 469.59,61.68 491.24,53.27 509.64,43.16" fill="none" stroke="#f26a6a" stroke-width="1.0" stroke-opacity="0.1" stroke-linejoin="round"/>
<polyline points="431.7,55.88 469.59,58.55 491.24,49.64 509.64,41.34" fill="none" stroke="#f26a6a" stroke-width="1.0" stroke-opacity="0.1" stroke-linejoin="round"/>
<polyline points="431.7,56.22 469.59,56.57 491.24,46.99 509.64,36.84" fill="none" stroke="#f26a6a" stroke-width="1.0" stroke-opacity="0.1" stroke-linejoin="round"/>
<polyline points="431.7,59.25 469.59,60.76 491.24,50.84 509.64,39.04" fill="none" stroke="#f26a6a" stroke-width="1.0" stroke-opacity="0.1" stroke-linejoin="round"/>
<polyline points="431.7,64.43 469.59,64.05 491.24,56.6 509.64,49.59" fill="none" stroke="#f26a6a" stroke-width="1.0" stroke-opacity="0.1" stroke-linejoin="round"/>
<polyline points="431.7,57.29 469.59,57.13 491.24,49.33 509.64,36.29" fill="none" stroke="#f26a6a" stroke-width="1.0" stroke-opacity="0.1" stroke-linejoin="round"/>
<polyline points="431.7,62.57 469.59,60.83 491.24,53.95 509.64,46.16" fill="none" stroke="#f26a6a" stroke-width="1.0" stroke-opacity="0.1" stroke-linejoin="round"/>
<polyline points="431.7,64.01 469.59,62.59 491.24,54.35 509.64,46.67" fill="none" stroke="#f26a6a" stroke-width="1.0" stroke-opacity="0.1" stroke-linejoin="round"/>
<polyline points="431.7,59.11 469.59,58.38 491.24,51.29 509.64,41.28" fill="none" stroke="#f26a6a" stroke-width="1.0" stroke-opacity="0.1" stroke-linejoin="round"/>
<polyline points="431.7,58.09 469.59,58.8 491.24,50.53 509.64,39.38" fill="none" stroke="#f26a6a" stroke-width="1.0" stroke-opacity="0.1" stroke-linejoin="round"/>
<polyline points="431.7,58.51 469.59,60 491.24,50.31 509.64,39.84" fill="none" stroke="#f26a6a" stroke-width="1.0" stroke-opacity="0.1" stroke-linejoin="round"/>
<polyline points="431.7,62.26 469.59,62.64 491.24,55.11 509.64,45.56" fill="none" stroke="#f26a6a" stroke-width="1.0" stroke-opacity="0.1" stroke-linejoin="round"/>
<polyline points="431.7,60.79 469.59,59.68" fill="none" stroke="#f48224" stroke-width="1.0" stroke-opacity="0.05"/>
<polyline points="469.59,59.68 491.24,46.4" fill="none" stroke="#f48224" stroke-width="1.0" stroke-opacity="0.1"/>
<polyline points="491.24,46.4 509.64,27.05" fill="none" stroke="#f48224" stroke-width="1.0" stroke-opacity="0.16"/>
<polyline points="431.7,62.55 469.59,63.03" fill="none" stroke="#f48224" stroke-width="1.0" stroke-opacity="0.05"/>
<polyline points="469.59,63.03 491.24,49.2" fill="none" stroke="#f48224" stroke-width="1.0" stroke-opacity="0.1"/>
<polyline points="491.24,49.2 509.64,31.75" fill="none" stroke="#f48224" stroke-width="1.0" stroke-opacity="0.16"/>
<polyline points="431.7,66.54 469.59,65.53" fill="none" stroke="#f48224" stroke-width="1.0" stroke-opacity="0.05"/>
<polyline points="469.59,65.53 491.24,54.6" fill="none" stroke="#f48224" stroke-width="1.0" stroke-opacity="0.1"/>
<polyline points="491.24,54.6 509.64,39.51" fill="none" stroke="#f48224" stroke-width="1.0" stroke-opacity="0.16"/>
<polyline points="431.7,59.11 469.59,59.53" fill="none" stroke="#f48224" stroke-width="1.0" stroke-opacity="0.05"/>
<polyline points="469.59,59.53 491.24,43.12" fill="none" stroke="#f48224" stroke-width="1.0" stroke-opacity="0.1"/>
<polyline points="491.24,43.12 509.64,28.53" fill="none" stroke="#f48224" stroke-width="1.0" stroke-opacity="0.16"/>
<polyline points="431.7,60.99 469.59,60.1" fill="none" stroke="#f48224" stroke-width="1.0" stroke-opacity="0.05"/>
<polyline points="469.59,60.1 491.24,45.08" fill="none" stroke="#f48224" stroke-width="1.0" stroke-opacity="0.1"/>
<polyline points="491.24,45.08 509.64,29.44" fill="none" stroke="#f48224" stroke-width="1.0" stroke-opacity="0.16"/>
<polyline points="431.7,65.46 469.59,63.42" fill="none" stroke="#f48224" stroke-width="1.0" stroke-opacity="0.05"/>
<polyline points="469.59,63.42 491.24,51.31" fill="none" stroke="#f48224" stroke-width="1.0" stroke-opacity="0.1"/>
<polyline points="491.24,51.31 509.64,36.72" fill="none" stroke="#f48224" stroke-width="1.0" stroke-opacity="0.16"/>
<polyline points="431.7,60.86 469.59,60.27" fill="none" stroke="#f48224" stroke-width="1.0" stroke-opacity="0.05"/>
<polyline points="469.59,60.27 491.24,48.56" fill="none" stroke="#f48224" stroke-width="1.0" stroke-opacity="0.1"/>
<polyline points="491.24,48.56 509.64,30.55" fill="none" stroke="#f48224" stroke-width="1.0" stroke-opacity="0.16"/>
<polyline points="431.7,60.67 469.59,60.09" fill="none" stroke="#f48224" stroke-width="1.0" stroke-opacity="0.05"/>
<polyline points="469.59,60.09 491.24,48.63" fill="none" stroke="#f48224" stroke-width="1.0" stroke-opacity="0.1"/>
<polyline points="491.24,48.63 509.64,30.03" fill="none" stroke="#f48224" stroke-width="1.0" stroke-opacity="0.16"/>
<polyline points="431.7,60.32 469.59,61.69" fill="none" stroke="#f48224" stroke-width="1.0" stroke-opacity="0.05"/>
<polyline points="469.59,61.69 491.24,47.86" fill="none" stroke="#f48224" stroke-width="1.0" stroke-opacity="0.1"/>
<polyline points="491.24,47.86 509.64,31.18" fill="none" stroke="#f48224" stroke-width="1.0" stroke-opacity="0.16"/>
<polyline points="431.7,61.32 469.59,59.97" fill="none" stroke="#f48224" stroke-width="1.0" stroke-opacity="0.05"/>
<polyline points="469.59,59.97 491.24,47.32" fill="none" stroke="#f48224" stroke-width="1.0" stroke-opacity="0.1"/>
<polyline points="491.24,47.32 509.64,29.98" fill="none" stroke="#f48224" stroke-width="1.0" stroke-opacity="0.16"/>
<polyline points="431.7,63.16 469.59,63.1" fill="none" stroke="#f48224" stroke-width="1.0" stroke-opacity="0.05"/>
<polyline points="469.59,63.1 491.24,51.2" fill="none" stroke="#f48224" stroke-width="1.0" stroke-opacity="0.1"/>
<polyline points="491.24,51.2 509.64,32.83" fill="none" stroke="#f48224" stroke-width="1.0" stroke-opacity="0.16"/>
<polyline points="431.7,62.27 469.59,61.36" fill="none" stroke="#f48224" stroke-width="1.0" stroke-opacity="0.05"/>
<polyline points="469.59,61.36 491.24,47.23" fill="none" stroke="#f48224" stroke-width="1.0" stroke-opacity="0.1"/>
<polyline points="491.24,47.23 509.64,32.56" fill="none" stroke="#f48224" stroke-width="1.0" stroke-opacity="0.16"/>
<polyline points="431.7,62.32 469.59,61.82" fill="none" stroke="#f48224" stroke-width="1.0" stroke-opacity="0.05"/>
<polyline points="469.59,61.82 491.24,49.24" fill="none" stroke="#f48224" stroke-width="1.0" stroke-opacity="0.1"/>
<polyline points="491.24,49.24 509.64,34.62" fill="none" stroke="#f48224" stroke-width="1.0" stroke-opacity="0.16"/>
<polyline points="431.7,60.37 469.59,60.03" fill="none" stroke="#f48224" stroke-width="1.0" stroke-opacity="0.05"/>
<polyline points="469.59,60.03 491.24,46.1" fill="none" stroke="#f48224" stroke-width="1.0" stroke-opacity="0.1"/>
<polyline points="491.24,46.1 509.64,29.07" fill="none" stroke="#f48224" stroke-width="1.0" stroke-opacity="0.16"/>
<polyline points="431.7,63.63 469.59,62.97" fill="none" stroke="#f48224" stroke-width="1.0" stroke-opacity="0.05"/>
<polyline points="469.59,62.97 491.24,50.17" fill="none" stroke="#f48224" stroke-width="1.0" stroke-opacity="0.1"/>
<polyline points="491.24,50.17 509.64,34.09" fill="none" stroke="#f48224" stroke-width="1.0" stroke-opacity="0.16"/>
<polyline points="431.7,63.86 469.59,64.39" fill="none" stroke="#f48224" stroke-width="1.0" stroke-opacity="0.05"/>
<polyline points="469.59,64.39 491.24,50.84" fill="none" stroke="#f48224" stroke-width="1.0" stroke-opacity="0.1"/>
<polyline points="491.24,50.84 509.64,36.31" fill="none" stroke="#f48224" stroke-width="1.0" stroke-opacity="0.16"/>
<polyline points="431.7,61.17 469.59,61.28" fill="none" stroke="#f48224" stroke-width="1.0" stroke-opacity="0.05"/>
<polyline points="469.59,61.28 491.24,48.5" fill="none" stroke="#f48224" stroke-width="1.0" stroke-opacity="0.1"/>
<polyline points="491.24,48.5 509.64,31.53" fill="none" stroke="#f48224" stroke-width="1.0" stroke-opacity="0.16"/>
<polyline points="431.7,63.14 469.59,62.03" fill="none" stroke="#f48224" stroke-width="1.0" stroke-opacity="0.05"/>
<polyline points="469.59,62.03 491.24,48.25" fill="none" stroke="#f48224" stroke-width="1.0" stroke-opacity="0.1"/>
<polyline points="491.24,48.25 509.64,32.5" fill="none" stroke="#f48224" stroke-width="1.0" stroke-opacity="0.16"/>
<polyline points="431.7,61.92 469.59,61.4" fill="none" stroke="#f48224" stroke-width="1.0" stroke-opacity="0.05"/>
<polyline points="469.59,61.4 491.24,47.81" fill="none" stroke="#f48224" stroke-width="1.0" stroke-opacity="0.1"/>
<polyline points="491.24,47.81 509.64,31.74" fill="none" stroke="#f48224" stroke-width="1.0" stroke-opacity="0.16"/>
<polyline points="431.7,62.88 469.59,62.51" fill="none" stroke="#f48224" stroke-width="1.0" stroke-opacity="0.05"/>
<polyline points="469.59,62.51 491.24,49.63" fill="none" stroke="#f48224" stroke-width="1.0" stroke-opacity="0.1"/>
<polyline points="491.24,49.63 509.64,33.36" fill="none" stroke="#f48224" stroke-width="1.0" stroke-opacity="0.16"/>
<polyline points="431.7,65.24 469.59,64.57" fill="none" stroke="#f48224" stroke-width="1.0" stroke-opacity="0.05"/>
<polyline points="469.59,64.57 491.24,53.44" fill="none" stroke="#f48224" stroke-width="1.0" stroke-opacity="0.1"/>
<polyline points="491.24,53.44 509.64,36.87" fill="none" stroke="#f48224" stroke-width="1.0" stroke-opacity="0.16"/>
<polyline points="431.7,61.74 469.59,60.03" fill="none" stroke="#f48224" stroke-width="1.0" stroke-opacity="0.05"/>
<polyline points="469.59,60.03 491.24,49.63" fill="none" stroke="#f48224" stroke-width="1.0" stroke-opacity="0.1"/>
<polyline points="491.24,49.63 509.64,31.34" fill="none" stroke="#f48224" stroke-width="1.0" stroke-opacity="0.16"/>
<polyline points="431.7,64.7 469.59,63.29" fill="none" stroke="#f48224" stroke-width="1.0" stroke-opacity="0.05"/>
<polyline points="469.59,63.29 491.24,54.89" fill="none" stroke="#f48224" stroke-width="1.0" stroke-opacity="0.1"/>
<polyline points="491.24,54.89 509.64,36.99" fill="none" stroke="#f48224" stroke-width="1.0" stroke-opacity="0.16"/>
<polyline points="431.7,61.81 469.59,60.84" fill="none" stroke="#f48224" stroke-width="1.0" stroke-opacity="0.05"/>
<polyline points="469.59,60.84 491.24,49.33" fill="none" stroke="#f48224" stroke-width="1.0" stroke-opacity="0.1"/>
<polyline points="491.24,49.33 509.64,30.39" fill="none" stroke="#f48224" stroke-width="1.0" stroke-opacity="0.16"/>
<polyline points="431.7,61.86 469.59,61.67" fill="none" stroke="#f48224" stroke-width="1.0" stroke-opacity="0.05"/>
<polyline points="469.59,61.67 491.24,47.36" fill="none" stroke="#f48224" stroke-width="1.0" stroke-opacity="0.1"/>
<polyline points="491.24,47.36 509.64,31.95" fill="none" stroke="#f48224" stroke-width="1.0" stroke-opacity="0.16"/>
<polyline points="431.7,62.37 469.59,62.79" fill="none" stroke="#f48224" stroke-width="1.0" stroke-opacity="0.05"/>
<polyline points="469.59,62.79 491.24,48.23" fill="none" stroke="#f48224" stroke-width="1.0" stroke-opacity="0.1"/>
<polyline points="491.24,48.23 509.64,31.72" fill="none" stroke="#f48224" stroke-width="1.0" stroke-opacity="0.16"/>
<polyline points="431.7,61.75 469.59,60.8" fill="none" stroke="#f48224" stroke-width="1.0" stroke-opacity="0.05"/>
<polyline points="469.59,60.8 491.24,46.5" fill="none" stroke="#f48224" stroke-width="1.0" stroke-opacity="0.1"/>
<polyline points="491.24,46.5 509.64,30.42" fill="none" stroke="#f48224" stroke-width="1.0" stroke-opacity="0.16"/>
<polyline points="431.7,59.48 469.59,60.52" fill="none" stroke="#f48224" stroke-width="1.0" stroke-opacity="0.05"/>
<polyline points="469.59,60.52 491.24,47.42" fill="none" stroke="#f48224" stroke-width="1.0" stroke-opacity="0.1"/>
<polyline points="491.24,47.42 509.64,28.55" fill="none" stroke="#f48224" stroke-width="1.0" stroke-opacity="0.16"/>
<polyline points="431.7,59.61 469.59,59.16" fill="none" stroke="#f48224" stroke-width="1.0" stroke-opacity="0.05"/>
<polyline points="469.59,59.16 491.24,45.72" fill="none" stroke="#f48224" stroke-width="1.0" stroke-opacity="0.1"/>
<polyline points="491.24,45.72 509.64,29.21" fill="none" stroke="#f48224" stroke-width="1.0" stroke-opacity="0.16"/>
<polyline points="431.7,61.57 469.59,61.54" fill="none" stroke="#f48224" stroke-width="1.0" stroke-opacity="0.05"/>
<polyline points="469.59,61.54 491.24,47.49" fill="none" stroke="#f48224" stroke-width="1.0" stroke-opacity="0.1"/>
<polyline points="491.24,47.49 509.64,27.99" fill="none" stroke="#f48224" stroke-width="1.0" stroke-opacity="0.16"/>
<polyline points="431.7,59.87 469.59,59.39" fill="none" stroke="#f48224" stroke-width="1.0" stroke-opacity="0.05"/>
<polyline points="469.59,59.39 491.24,44.14" fill="none" stroke="#f48224" stroke-width="1.0" stroke-opacity="0.1"/>
<polyline points="491.24,44.14 509.64,28.24" fill="none" stroke="#f48224" stroke-width="1.0" stroke-opacity="0.16"/>
<polyline points="431.7,60.48 469.59,60.51" fill="none" stroke="#f48224" stroke-width="1.0" stroke-opacity="0.05"/>
<polyline points="469.59,60.51 491.24,44.68" fill="none" stroke="#f48224" stroke-width="1.0" stroke-opacity="0.1"/>
<polyline points="491.24,44.68 509.64,29.65" fill="none" stroke="#f48224" stroke-width="1.0" stroke-opacity="0.16"/>
<polyline points="431.7,62.11 469.59,61.76" fill="none" stroke="#f48224" stroke-width="1.0" stroke-opacity="0.05"/>
<polyline points="469.59,61.76 491.24,47.95" fill="none" stroke="#f48224" stroke-width="1.0" stroke-opacity="0.1"/>
<polyline points="491.24,47.95 509.64,32.52" fill="none" stroke="#f48224" stroke-width="1.0" stroke-opacity="0.16"/>
<polyline points="431.7,66.42 469.59,65.41" fill="none" stroke="#f48224" stroke-width="1.0" stroke-opacity="0.05"/>
<polyline points="469.59,65.41 491.24,53.54" fill="none" stroke="#f48224" stroke-width="1.0" stroke-opacity="0.1"/>
<polyline points="491.24,53.54 509.64,37.17" fill="none" stroke="#f48224" stroke-width="1.0" stroke-opacity="0.16"/>
<polyline points="431.7,62.06 469.59,61.78" fill="none" stroke="#f48224" stroke-width="1.0" stroke-opacity="0.05"/>
<polyline points="469.59,61.78 491.24,49.23" fill="none" stroke="#f48224" stroke-width="1.0" stroke-opacity="0.1"/>
<polyline points="491.24,49.23 509.64,32.95" fill="none" stroke="#f48224" stroke-width="1.0" stroke-opacity="0.16"/>
<polyline points="431.7,57.49 469.59,57.81 491.24,57.8 509.64,76.81" fill="none" stroke="#5e8a3a" stroke-width="1.0" stroke-opacity="0.05" stroke-linejoin="round"/>
<polyline points="431.7,55.72 469.59,56 491.24,55.75 509.64,67.9" fill="none" stroke="#5e8a3a" stroke-width="1.0" stroke-opacity="0.05" stroke-linejoin="round"/>
<polyline points="431.7,55.32 469.59,55.82 491.24,55.74 509.64,68.31" fill="none" stroke="#5e8a3a" stroke-width="1.0" stroke-opacity="0.05" stroke-linejoin="round"/>
<polyline points="431.7,56.02 469.59,56.02 491.24,56.63 509.64,70.46" fill="none" stroke="#5e8a3a" stroke-width="1.0" stroke-opacity="0.05" stroke-linejoin="round"/>
<polyline points="431.7,54.72 469.59,54.21 491.24,55.09 509.64,64.16" fill="none" stroke="#5e8a3a" stroke-width="1.0" stroke-opacity="0.05" stroke-linejoin="round"/>
<polyline points="431.7,55.1 469.59,55.34 491.24,55.68 509.64,66.69" fill="none" stroke="#5e8a3a" stroke-width="1.0" stroke-opacity="0.05" stroke-linejoin="round"/>
<polyline points="431.7,56.56 469.59,55.97 491.24,56.73 509.64,70.68" fill="none" stroke="#5e8a3a" stroke-width="1.0" stroke-opacity="0.05" stroke-linejoin="round"/>
<polyline points="431.7,53.87 469.59,53.52 491.24,53.85 509.64,58.65" fill="none" stroke="#5e8a3a" stroke-width="1.0" stroke-opacity="0.05" stroke-linejoin="round"/>
<polyline points="431.7,54.43 469.59,53.74 491.24,54.15 509.64,60.7" fill="none" stroke="#5e8a3a" stroke-width="1.0" stroke-opacity="0.05" stroke-linejoin="round"/>
<polyline points="431.7,55.87 469.59,55.57 491.24,56.55 509.64,68.93" fill="none" stroke="#5e8a3a" stroke-width="1.0" stroke-opacity="0.05" stroke-linejoin="round"/>
<polyline points="431.7,55.8 469.59,55.7 491.24,55.31 509.64,64.2" fill="none" stroke="#5e8a3a" stroke-width="1.0" stroke-opacity="0.05" stroke-linejoin="round"/>
<polyline points="431.7,55.27 469.59,55.74 491.24,54.51 509.64,65.36" fill="none" stroke="#5e8a3a" stroke-width="1.0" stroke-opacity="0.05" stroke-linejoin="round"/>
<polyline points="431.7,56.16 469.59,55.89 491.24,56.26 509.64,68.06" fill="none" stroke="#5e8a3a" stroke-width="1.0" stroke-opacity="0.05" stroke-linejoin="round"/>
<polyline points="431.7,55.47 469.59,55.26 491.24,55.66 509.64,64.1" fill="none" stroke="#5e8a3a" stroke-width="1.0" stroke-opacity="0.05" stroke-linejoin="round"/>
<polyline points="431.7,56.81 469.59,56.56 491.24,56.77 509.64,72.12" fill="none" stroke="#5e8a3a" stroke-width="1.0" stroke-opacity="0.05" stroke-linejoin="round"/>
<polyline points="431.7,76.03 469.59,74.82 491.24,60.51 509.64,41.2" fill="none" stroke="#3a5ef2" stroke-width="1.0" stroke-opacity="0.17" stroke-linejoin="round"/>
<polyline points="431.7,75.58 469.59,73.45 491.24,58.92 509.64,39.75" fill="none" stroke="#3a5ef2" stroke-width="1.0" stroke-opacity="0.17" stroke-linejoin="round"/>
<polyline points="431.7,75.54 469.59,74.22 491.24,58.79 509.64,40.43" fill="none" stroke="#3a5ef2" stroke-width="1.0" stroke-opacity="0.17" stroke-linejoin="round"/>
<polyline points="431.7,75.68 469.59,73.48 491.24,57.74 509.64,40.81" fill="none" stroke="#3a5ef2" stroke-width="1.0" stroke-opacity="0.17" stroke-linejoin="round"/>
<polyline points="431.7,76.72 469.59,75.91 491.24,62.61 509.64,44.39" fill="none" stroke="#3a5ef2" stroke-width="1.0" stroke-opacity="0.17" stroke-linejoin="round"/>
<polyline points="431.7,76.55 469.59,75.18 491.24,60.54 509.64,44.15" fill="none" stroke="#3a5ef2" stroke-width="1.0" stroke-opacity="0.17" stroke-linejoin="round"/>
<polyline points="431.7,76.03 469.59,74.02 491.24,59.42 509.64,41.62" fill="none" stroke="#3a5ef2" stroke-width="1.0" stroke-opacity="0.17" stroke-linejoin="round"/>
<polyline points="431.7,75.79 469.59,73.41 491.24,58.92 509.64,41.51" fill="none" stroke="#3a5ef2" stroke-width="1.0" stroke-opacity="0.17" stroke-linejoin="round"/>
<polyline points="431.7,75.61 469.59,73.68 491.24,59.47 509.64,41.63" fill="none" stroke="#3a5ef2" stroke-width="1.0" stroke-opacity="0.17" stroke-linejoin="round"/>
<polyline points="431.7,76.44 469.59,74.22 491.24,60.42 509.64,44.28" fill="none" stroke="#3a5ef2" stroke-width="1.0" stroke-opacity="0.17" stroke-linejoin="round"/>
<polyline points="431.7,75.03 469.59,73.45 491.24,56.79 509.64,36.92" fill="none" stroke="#3a5ef2" stroke-width="1.0" stroke-opacity="0.17" stroke-linejoin="round"/>
<polyline points="431.7,75.07 469.59,72.06 491.24,56.52 509.64,35.64" fill="none" stroke="#3a5ef2" stroke-width="1.0" stroke-opacity="0.17" stroke-linejoin="round"/>
<polyline points="431.7,75.62 469.59,74.44 491.24,60.3 509.64,42.49" fill="none" stroke="#3a5ef2" stroke-width="1.0" stroke-opacity="0.17" stroke-linejoin="round"/>
<polyline points="431.7,76.29 469.59,74.51 491.24,60.6 509.64,43.14" fill="none" stroke="#3a5ef2" stroke-width="1.0" stroke-opacity="0.17" stroke-linejoin="round"/>
<polyline points="431.7,76.32 469.59,74.43 491.24,60.52 509.64,43.4" fill="none" stroke="#3a5ef2" stroke-width="1.0" stroke-opacity="0.17" stroke-linejoin="round"/>
<polyline points="431.7,75.79 469.59,74.61 491.24,60.04 509.64,41.38" fill="none" stroke="#3a5ef2" stroke-width="1.0" stroke-opacity="0.17" stroke-linejoin="round"/>
<polyline points="431.7,75.89 469.59,74.72 491.24,59.76 509.64,42.15" fill="none" stroke="#3a5ef2" stroke-width="1.0" stroke-opacity="0.17" stroke-linejoin="round"/>
<polyline points="431.7,76.58 469.59,75.86 491.24,61.63 509.64,46.71" fill="none" stroke="#3a5ef2" stroke-width="1.0" stroke-opacity="0.17" stroke-linejoin="round"/>
<polyline points="431.7,75.93 469.59,74.38 491.24,60.01 509.64,42.61" fill="none" stroke="#3a5ef2" stroke-width="1.0" stroke-opacity="0.17" stroke-linejoin="round"/>
<polyline points="431.7,75.56 469.59,73.44 491.24,60.34 509.64,38.6" fill="none" stroke="#3a5ef2" stroke-width="1.0" stroke-opacity="0.17" stroke-linejoin="round"/>
<polyline points="431.7,76.2 469.59,74.06 491.24,59.6 509.64,40.47" fill="none" stroke="#3a5ef2" stroke-width="1.0" stroke-opacity="0.17" stroke-linejoin="round"/>
<polyline points="431.7,76.17 469.59,75.16 491.24,60.27 509.64,44.78" fill="none" stroke="#3a5ef2" stroke-width="1.0" stroke-opacity="0.17" stroke-linejoin="round"/>
<polyline points="431.7,75.62 469.59,73.86 491.24,58.28 509.64,38.82" fill="none" stroke="#3a5ef2" stroke-width="1.0" stroke-opacity="0.17" stroke-linejoin="round"/>
<polyline points="431.7,74.96 469.59,72.9 491.24,58.44 509.64,37.95" fill="none" stroke="#3a5ef2" stroke-width="1.0" stroke-opacity="0.17" stroke-linejoin="round"/>
<polyline points="431.7,76.39 469.59,74.55 491.24,60.75 509.64,43.76" fill="none" stroke="#3a5ef2" stroke-width="1.0" stroke-opacity="0.17" stroke-linejoin="round"/>
<polyline points="431.7,75.84 469.59,73.89 491.24,59.23 509.64,40.19" fill="none" stroke="#3a5ef2" stroke-width="1.0" stroke-opacity="0.17" stroke-linejoin="round"/>
<polyline points="431.7,76.51 469.59,74.29 491.24,60.88 509.64,42.44" fill="none" stroke="#3a5ef2" stroke-width="1.0" stroke-opacity="0.17" stroke-linejoin="round"/>
<polyline points="431.7,76.79 469.59,75.61 491.24,63.17 509.64,46.7" fill="none" stroke="#3a5ef2" stroke-width="1.0" stroke-opacity="0.17" stroke-linejoin="round"/>
<polyline points="431.7,75.34 469.59,72.95 491.24,59.25 509.64,40.95" fill="none" stroke="#3a5ef2" stroke-width="1.0" stroke-opacity="0.17" stroke-linejoin="round"/>
<polyline points="431.7,75.47 469.59,73.58 491.24,59.8 509.64,39.39" fill="none" stroke="#3a5ef2" stroke-width="1.0" stroke-opacity="0.17" stroke-linejoin="round"/>
<polyline points="431.7,75.4 469.59,73.55 491.24,58.53 509.64,38.62" fill="none" stroke="#3a5ef2" stroke-width="1.0" stroke-opacity="0.17" stroke-linejoin="round"/>
<polyline points="431.7,76.51 469.59,74.53 491.24,60.49 509.64,43.16" fill="none" stroke="#3a5ef2" stroke-width="1.0" stroke-opacity="0.17" stroke-linejoin="round"/>
<polyline points="431.7,75.55 469.59,73.33 491.24,58.7 509.64,38.57" fill="none" stroke="#3a5ef2" stroke-width="1.0" stroke-opacity="0.17" stroke-linejoin="round"/>
<polyline points="431.7,75.13 469.59,72 491.24,56.65 509.64,36.38" fill="none" stroke="#3a5ef2" stroke-width="1.0" stroke-opacity="0.17" stroke-linejoin="round"/>
<polyline points="431.7,75.28 469.59,73.64 491.24,59.06 509.64,41.01" fill="none" stroke="#3a5ef2" stroke-width="1.0" stroke-opacity="0.17" stroke-linejoin="round"/>
<polyline points="431.7,68.48 469.59,70.38 491.24,72.88 509.64,74.98" fill="none" stroke="#0a2414" stroke-width="1.0" stroke-opacity="0.3" stroke-linejoin="round"/>
<polyline points="431.7,69.58 469.59,70.46 491.24,73.34 509.64,75.61" fill="none" stroke="#0a2414" stroke-width="1.0" stroke-opacity="0.3" stroke-linejoin="round"/>
<polyline points="431.7,70.19 469.59,71.12 491.24,73.65 509.64,76.64" fill="none" stroke="#0a2414" stroke-width="1.0" stroke-opacity="0.3" stroke-linejoin="round"/>
<polyline points="431.7,68.23 469.59,70.34 491.24,73.05 509.64,74.71" fill="none" stroke="#0a2414" stroke-width="1.0" stroke-opacity="0.3" stroke-linejoin="round"/>
<polyline points="431.7,69.74 469.59,71.32 491.24,74.38 509.64,75.95" fill="none" stroke="#0a2414" stroke-width="1.0" stroke-opacity="0.3" stroke-linejoin="round"/>
<polyline points="431.7,70.35 469.59,72.11 491.24,74.71 509.64,77.25" fill="none" stroke="#0a2414" stroke-width="1.0" stroke-opacity="0.3" stroke-linejoin="round"/>
<polyline points="431.7,69.37 469.59,70.98 491.24,73.61 509.64,75.83" fill="none" stroke="#0a2414" stroke-width="1.0" stroke-opacity="0.3" stroke-linejoin="round"/>
<polyline points="431.7,70.79 469.59,71.97 491.24,74.8 509.64,76.78" fill="none" stroke="#0a2414" stroke-width="1.0" stroke-opacity="0.3" stroke-linejoin="round"/>
<polyline points="431.7,70.15 469.59,71.55 491.24,74.47 509.64,75.93" fill="none" stroke="#0a2414" stroke-width="1.0" stroke-opacity="0.3" stroke-linejoin="round"/>
<polyline points="431.7,68.09 469.59,70.16 491.24,73.07 509.64,73.98" fill="none" stroke="#0a2414" stroke-width="1.0" stroke-opacity="0.3" stroke-linejoin="round"/>
<polyline points="431.7,68.15 469.59,69.8 491.24,72.04 509.64,73.75" fill="none" stroke="#0a2414" stroke-width="1.0" stroke-opacity="0.3" stroke-linejoin="round"/>
<polyline points="431.7,69.36 469.59,70.93 491.24,74.1 509.64,75.98" fill="none" stroke="#0a2414" stroke-width="1.0" stroke-opacity="0.3" stroke-linejoin="round"/>
<polyline points="431.7,70.56 469.59,71.62 491.24,74.73 509.64,77.57" fill="none" stroke="#0a2414" stroke-width="1.0" stroke-opacity="0.3" stroke-linejoin="round"/>
<polyline points="431.7,68.06 469.59,69.62 491.24,72.72 509.64,73.69" fill="none" stroke="#0a2414" stroke-width="1.0" stroke-opacity="0.3" stroke-linejoin="round"/>
<polyline points="431.7,66.9 469.59,69.5 491.24,71.71 509.64,73.34" fill="none" stroke="#0a2414" stroke-width="1.0" stroke-opacity="0.3" stroke-linejoin="round"/>
<polyline points="431.7,68.12 469.59,70.14 491.24,72.96 509.64,74.11" fill="none" stroke="#0a2414" stroke-width="1.0" stroke-opacity="0.3" stroke-linejoin="round"/>
<polyline points="431.7,69.51 469.59,71.07 491.24,73.28 509.64,75.46" fill="none" stroke="#0a2414" stroke-width="1.0" stroke-opacity="0.3" stroke-linejoin="round"/>
<polyline points="431.7,69.58 469.59,70.71 491.24,73.84 509.64,75.69" fill="none" stroke="#0a2414" stroke-width="1.0" stroke-opacity="0.3" stroke-linejoin="round"/>
<polyline points="431.7,67.89 469.59,69.91 491.24,72.8 509.64,74.63" fill="none" stroke="#0a2414" stroke-width="1.0" stroke-opacity="0.3" stroke-linejoin="round"/>
<polyline points="431.7,68.96 469.59,70.07 491.24,73.4 509.64,74.73" fill="none" stroke="#0a2414" stroke-width="1.0" stroke-opacity="0.3" stroke-linejoin="round"/>
<polyline points="431.7,69.13 469.59,70.5 491.24,72.73 509.64,74.78" fill="none" stroke="#0a2414" stroke-width="1.0" stroke-opacity="0.3" stroke-linejoin="round"/>
<polyline points="431.7,69.29 469.59,71.11 491.24,73.35 509.64,75.77" fill="none" stroke="#0a2414" stroke-width="1.0" stroke-opacity="0.3" stroke-linejoin="round"/>
<polyline points="431.7,69.6 469.59,71.31 491.24,73.7 509.64,75.37" fill="none" stroke="#0a2414" stroke-width="1.0" stroke-opacity="0.3" stroke-linejoin="round"/>
<polyline points="431.7,69.31 469.59,70.63 491.24,73.43 509.64,74.98" fill="none" stroke="#0a2414" stroke-width="1.0" stroke-opacity="0.3" stroke-linejoin="round"/>
<polyline points="431.7,70.21 469.59,71.78 491.24,74.55 509.64,76.06" fill="none" stroke="#0a2414" stroke-width="1.0" stroke-opacity="0.3" stroke-linejoin="round"/>
<polyline points="431.7,69.5 469.59,71.23 491.24,73.62 509.64,76.6" fill="none" stroke="#0a2414" stroke-width="1.0" stroke-opacity="0.3" stroke-linejoin="round"/>
<polyline points="431.7,67.82 469.59,70.05 491.24,72.48 509.64,73.3" fill="none" stroke="#0a2414" stroke-width="1.0" stroke-opacity="0.3" stroke-linejoin="round"/>
<polyline points="431.7,69.27 469.59,70.85 491.24,73.1 509.64,75.09" fill="none" stroke="#0a2414" stroke-width="1.0" stroke-opacity="0.3" stroke-linejoin="round"/>
<polyline points="431.7,68.62 469.59,70.78 491.24,73.1 509.64,74.69" fill="none" stroke="#0a2414" stroke-width="1.0" stroke-opacity="0.3" stroke-linejoin="round"/>
<polyline points="431.7,69.85 469.59,71.06 491.24,74.48 509.64,76.8" fill="none" stroke="#0a2414" stroke-width="1.0" stroke-opacity="0.3" stroke-linejoin="round"/>
<polyline points="431.7,70.75 469.59,71.4 491.24,74.64 509.64,76.27" fill="none" stroke="#0a2414" stroke-width="1.0" stroke-opacity="0.3" stroke-linejoin="round"/>
<polyline points="431.7,68.53 469.59,69.93 491.24,72.76 509.64,73.64" fill="none" stroke="#0a2414" stroke-width="1.0" stroke-opacity="0.3" stroke-linejoin="round"/>
<polyline points="431.7,70.01 469.59,71.29 491.24,73.77 509.64,76.26" fill="none" stroke="#0a2414" stroke-width="1.0" stroke-opacity="0.3" stroke-linejoin="round"/>
<polyline points="431.7,69.45 469.59,70.78 491.24,73.66 509.64,75.35" fill="none" stroke="#0a2414" stroke-width="1.0" stroke-opacity="0.3" stroke-linejoin="round"/>
<polyline points="431.7,71.11 469.59,71.65 491.24,74.81 509.64,77.8" fill="none" stroke="#0a2414" stroke-width="1.0" stroke-opacity="0.3" stroke-linejoin="round"/>
<polyline points="431.7,78.21 469.59,78.18 491.24,76.66 509.64,65.9" fill="none" stroke="#7c0010" stroke-width="0.9" stroke-opacity="0.16" stroke-linejoin="round"/>
<polyline points="431.7,78.08 469.59,78.06 491.24,76.65 509.64,63.82" fill="none" stroke="#7c0010" stroke-width="0.9" stroke-opacity="0.16" stroke-linejoin="round"/>
<polyline points="431.7,78.21 469.59,78.23 491.24,76.96 509.64,62.27" fill="none" stroke="#7c0010" stroke-width="0.9" stroke-opacity="0.16" stroke-linejoin="round"/>
<polyline points="431.7,78.54 469.59,78.41 491.24,78.19 509.64,76.64" fill="none" stroke="#7c0010" stroke-width="0.9" stroke-opacity="0.16" stroke-linejoin="round"/>
<polyline points="431.7,78.71 469.59,78.32 491.24,78.74 509.64,75.61" fill="none" stroke="#7c0010" stroke-width="0.9" stroke-opacity="0.16" stroke-linejoin="round"/>
<polyline points="431.7,78.73 469.59,78.57 491.24,78.35 509.64,81.76" fill="none" stroke="#7c0010" stroke-width="0.9" stroke-opacity="0.16" stroke-linejoin="round"/>
<polyline points="431.7,77.96 469.59,77.98 491.24,75.69 509.64,67.33" fill="none" stroke="#7c0010" stroke-width="0.9" stroke-opacity="0.16" stroke-linejoin="round"/>
<polyline points="431.7,78.43 469.59,78.61 491.24,77.72 509.64,76.03" fill="none" stroke="#7c0010" stroke-width="0.9" stroke-opacity="0.16" stroke-linejoin="round"/>
<polyline points="431.7,78.68 469.59,78.45 491.24,78.7 509.64,75.26" fill="none" stroke="#7c0010" stroke-width="0.9" stroke-opacity="0.16" stroke-linejoin="round"/>
<polyline points="431.7,78.68 469.59,78.27 491.24,77.96 509.64,74.09" fill="none" stroke="#7c0010" stroke-width="0.9" stroke-opacity="0.16" stroke-linejoin="round"/>
<polyline points="431.7,78.35 469.59,78.31 491.24,77.42 509.64,74.03" fill="none" stroke="#7c0010" stroke-width="0.9" stroke-opacity="0.16" stroke-linejoin="round"/>
<polyline points="431.7,77.89 469.59,77.82 491.24,75.78 509.64,59.21" fill="none" stroke="#7c0010" stroke-width="0.9" stroke-opacity="0.16" stroke-linejoin="round"/>
<polyline points="431.7,78.52 469.59,78.41 491.24,77.8 509.64,76.25" fill="none" stroke="#7c0010" stroke-width="0.9" stroke-opacity="0.16" stroke-linejoin="round"/>
<polyline points="431.7,78.34 469.59,78.23 491.24,77.46 509.64,70.73" fill="none" stroke="#7c0010" stroke-width="0.9" stroke-opacity="0.16" stroke-linejoin="round"/>
<polyline points="431.7,78.31 469.59,78.2 491.24,77.09 509.64,76.52" fill="none" stroke="#7c0010" stroke-width="0.9" stroke-opacity="0.16" stroke-linejoin="round"/>
<polyline points="431.7,78.43 469.59,78.16 491.24,78.04 509.64,73.83" fill="none" stroke="#7c0010" stroke-width="0.9" stroke-opacity="0.16" stroke-linejoin="round"/>
<polyline points="431.7,78.31 469.59,78.07 491.24,77.23 509.64,68.77" fill="none" stroke="#7c0010" stroke-width="0.9" stroke-opacity="0.16" stroke-linejoin="round"/>
<polyline points="431.7,78.82 469.59,78.4 491.24,78.33 509.64,76.93" fill="none" stroke="#7c0010" stroke-width="0.9" stroke-opacity="0.16" stroke-linejoin="round"/>
<polyline points="431.7,78.09 469.59,78.17 491.24,76.08 509.64,69.42" fill="none" stroke="#7c0010" stroke-width="0.9" stroke-opacity="0.16" stroke-linejoin="round"/>
<polyline points="431.7,77.87 469.59,77.99 491.24,75.98 509.64,60.63" fill="none" stroke="#7c0010" stroke-width="0.9" stroke-opacity="0.16" stroke-linejoin="round"/>
<polyline points="431.7,78.27 469.59,78.1 491.24,77.02 509.64,71.04" fill="none" stroke="#7c0010" stroke-width="0.9" stroke-opacity="0.16" stroke-linejoin="round"/>
<polyline points="431.7,78.14 469.59,77.89 491.24,76.51 509.64,64.41" fill="none" stroke="#7c0010" stroke-width="0.9" stroke-opacity="0.16" stroke-linejoin="round"/>
<polyline points="431.7,77.45 469.59,77.42 491.24,74.31 509.64,57.76" fill="none" stroke="#7c0010" stroke-width="0.9" stroke-opacity="0.16" stroke-linejoin="round"/>
<polyline points="431.7,78.31 469.59,78.13 491.24,77.13 509.64,66.41" fill="none" stroke="#7c0010" stroke-width="0.9" stroke-opacity="0.16" stroke-linejoin="round"/>
<polyline points="431.7,78.07 469.59,78.12 491.24,76.01 509.64,66.67" fill="none" stroke="#7c0010" stroke-width="0.9" stroke-opacity="0.16" stroke-linejoin="round"/>
<polyline points="431.7,78.64 469.59,78.65 491.24,77.79 509.64,75.8" fill="none" stroke="#7c0010" stroke-width="0.9" stroke-opacity="0.16" stroke-linejoin="round"/>
<polyline points="431.7,77.4 469.59,77.31 491.24,72.74 509.64,53.02" fill="none" stroke="#7c0010" stroke-width="0.9" stroke-opacity="0.16" stroke-linejoin="round"/>
<polyline points="431.7,78.17 469.59,78.1 491.24,75.78 509.64,65.89" fill="none" stroke="#7c0010" stroke-width="0.9" stroke-opacity="0.16" stroke-linejoin="round"/>
<polyline points="431.7,77.7 469.59,77.56 491.24,74.87 509.64,56.51" fill="none" stroke="#7c0010" stroke-width="0.9" stroke-opacity="0.16" stroke-linejoin="round"/>
<polyline points="431.7,78.55 469.59,78.39 491.24,77.8 509.64,79.54" fill="none" stroke="#7c0010" stroke-width="0.9" stroke-opacity="0.16" stroke-linejoin="round"/>
<polyline points="491.24,62.26 509.64,69.65" fill="none" stroke="#333" stroke-width="0.5" stroke-opacity="0.12"/>
<polyline points="491.24,67.84 509.64,61.23" fill="none" stroke="#333" stroke-width="0.5" stroke-opacity="0.12"/>
<polyline points="491.24,55.06 509.64,61.26" fill="none" stroke="#333" stroke-width="0.5" stroke-opacity="0.12"/>
<polyline points="491.24,63.7 509.64,72.52" fill="none" stroke="#333" stroke-width="0.5" stroke-opacity="0.12"/>
<polyline points="491.24,75.27 509.64,56.94" fill="none" stroke="#333" stroke-width="0.5" stroke-opacity="0.12"/>
<polyline points="491.24,60.58 509.64,60.29" fill="none" stroke="#333" stroke-width="0.5" stroke-opacity="0.12"/>
<polyline points="491.24,69.07 509.64,65.35" fill="none" stroke="#333" stroke-width="0.5" stroke-opacity="0.12"/>
<polyline points="491.24,54.32 509.64,60.2" fill="none" stroke="#333" stroke-width="0.5" stroke-opacity="0.12"/>
<polyline points="491.24,62.92 509.64,72.15" fill="none" stroke="#333" stroke-width="0.5" stroke-opacity="0.12"/>
<polyline points="491.24,66.86 509.64,58.9" fill="none" stroke="#333" stroke-width="0.5" stroke-opacity="0.12"/>
<polyline points="491.24,68.05 509.64,63.54" fill="none" stroke="#333" stroke-width="0.5" stroke-opacity="0.12"/>
<polyline points="491.24,62.9 509.64,58.71" fill="none" stroke="#333" stroke-width="0.5" stroke-opacity="0.12"/>
<polyline points="491.24,58.2 509.64,72.72" fill="none" stroke="#333" stroke-width="0.5" stroke-opacity="0.12"/>
<polyline points="491.24,76.62 509.64,73.19" fill="none" stroke="#333" stroke-width="0.5" stroke-opacity="0.12"/>
<polyline points="491.24,67 509.64,65.79" fill="none" stroke="#333" stroke-width="0.5" stroke-opacity="0.12"/>
<polyline points="491.24,58.01 509.64,58.91" fill="none" stroke="#333" stroke-width="0.5" stroke-opacity="0.12"/>
<polyline points="491.24,75.69 509.64,60.15" fill="none" stroke="#333" stroke-width="0.5" stroke-opacity="0.12"/>
<polyline points="491.24,58.1 509.64,59.38" fill="none" stroke="#333" stroke-width="0.5" stroke-opacity="0.12"/>
<polyline points="491.24,63.59 509.64,72.94" fill="none" stroke="#333" stroke-width="0.5" stroke-opacity="0.12"/>
<polyline points="491.24,57.2 509.64,60.75" fill="none" stroke="#333" stroke-width="0.5" stroke-opacity="0.12"/>
<polyline points="491.24,61.01 509.64,58.31" fill="none" stroke="#333" stroke-width="0.5" stroke-opacity="0.12"/>
<polyline points="491.24,68.73 509.64,77.26" fill="none" stroke="#333" stroke-width="0.5" stroke-opacity="0.12"/>
<polyline points="491.24,64 509.64,60.97" fill="none" stroke="#333" stroke-width="0.5" stroke-opacity="0.12"/>
<polyline points="491.24,72.08 509.64,62.05" fill="none" stroke="#333" stroke-width="0.5" stroke-opacity="0.12"/>
<polyline points="491.24,55.36 509.64,73.85" fill="none" stroke="#333" stroke-width="0.5" stroke-opacity="0.12"/>
<polyline points="491.24,62.79 509.64,63.71" fill="none" stroke="#333" stroke-width="0.5" stroke-opacity="0.12"/>
<polyline points="491.24,66.02 509.64,74.48" fill="none" stroke="#333" stroke-width="0.5" stroke-opacity="0.12"/>
<polyline points="491.24,70.84 509.64,62.03" fill="none" stroke="#333" stroke-width="0.5" stroke-opacity="0.12"/>
<polyline points="491.24,58.56 509.64,68.69" fill="none" stroke="#333" stroke-width="0.5" stroke-opacity="0.12"/>
<polyline points="491.24,74.66 509.64,60.76" fill="none" stroke="#333" stroke-width="0.5" stroke-opacity="0.12"/>
<polyline points="491.24,59.01 509.64,73.88" fill="none" stroke="#333" stroke-width="0.5" stroke-opacity="0.12"/>
<polyline points="491.24,63.41 509.64,58.7" fill="none" stroke="#333" stroke-width="0.5" stroke-opacity="0.12"/>
<polyline points="491.24,56.43 509.64,67.27" fill="none" stroke="#333" stroke-width="0.5" stroke-opacity="0.12"/>
<polyline points="491.24,65.77 509.64,65.73" fill="none" stroke="#333" stroke-width="0.5" stroke-opacity="0.12"/>
<polyline points="491.24,72.34 509.64,74.8" fill="none" stroke="#333" stroke-width="0.5" stroke-opacity="0.12"/>
<polyline points="491.24,72.53 509.64,63.17" fill="none" stroke="#333" stroke-width="0.5" stroke-opacity="0.12"/>
<polyline points="491.24,68.37 509.64,66.3" fill="none" stroke="#333" stroke-width="0.5" stroke-opacity="0.12"/>
<polyline points="491.24,67.46 509.64,67.38" fill="none" stroke="#333" stroke-width="0.5" stroke-opacity="0.12"/>
<polyline points="491.24,73.25 509.64,78.18" fill="none" stroke="#333" stroke-width="0.5" stroke-opacity="0.12"/>
<polyline points="491.24,53.87 509.64,70.65" fill="none" stroke="#333" stroke-width="0.5" stroke-opacity="0.12"/>
<polyline points="491.24,74.23 509.64,64.74" fill="none" stroke="#333" stroke-width="0.5" stroke-opacity="0.12"/>
<polyline points="491.24,58.66 509.64,75.63" fill="none" stroke="#333" stroke-width="0.5" stroke-opacity="0.12"/>
<polyline points="491.24,63.01 509.64,71.32" fill="none" stroke="#333" stroke-width="0.5" stroke-opacity="0.12"/>
<polyline points="491.24,64.79 509.64,78.73" fill="none" stroke="#333" stroke-width="0.5" stroke-opacity="0.12"/>
<polyline points="491.24,75.89 509.64,56.56" fill="none" stroke="#333" stroke-width="0.5" stroke-opacity="0.12"/>
<polyline points="491.24,56.86 509.64,68.08" fill="none" stroke="#333" stroke-width="0.5" stroke-opacity="0.12"/>
<polyline points="491.24,63.69 509.64,73.22" fill="none" stroke="#333" stroke-width="0.5" stroke-opacity="0.12"/>
<polyline points="491.24,58.85 509.64,69.46" fill="none" stroke="#333" stroke-width="0.5" stroke-opacity="0.12"/>
<polyline points="491.24,55.02 509.64,61.66" fill="none" stroke="#333" stroke-width="0.5" stroke-opacity="0.12"/>
<polyline points="491.24,57.94 509.64,57.18" fill="none" stroke="#333" stroke-width="0.5" stroke-opacity="0.12"/>
<polyline points="491.24,70.85 509.64,78.33" fill="none" stroke="#333" stroke-width="0.5" stroke-opacity="0.12"/>
<polyline points="491.24,72.07 509.64,75.07" fill="none" stroke="#333" stroke-width="0.5" stroke-opacity="0.12"/>
<polyline points="491.24,74.75 509.64,78.03" fill="none" stroke="#333" stroke-width="0.5" stroke-opacity="0.12"/>
<polyline points="491.24,63.92 509.64,59.3" fill="none" stroke="#333" stroke-width="0.5" stroke-opacity="0.12"/>
<polyline points="491.24,66.18 509.64,57.55" fill="none" stroke="#333" stroke-width="0.5" stroke-opacity="0.12"/>
<polyline points="491.24,55.86 509.64,77.73" fill="none" stroke="#333" stroke-width="0.5" stroke-opacity="0.12"/>
<polyline points="491.24,62.99 509.64,70.12" fill="none" stroke="#333" stroke-width="0.5" stroke-opacity="0.12"/>
<polyline points="491.24,73.92 509.64,57.27" fill="none" stroke="#333" stroke-width="0.5" stroke-opacity="0.12"/>
<polyline points="491.24,70.78 509.64,66.3" fill="none" stroke="#333" stroke-width="0.5" stroke-opacity="0.12"/>
<polyline points="491.24,62.02 509.64,57.34" fill="none" stroke="#333" stroke-width="0.5" stroke-opacity="0.12"/>
<polyline points="469.59,57.95 491.24,60.58" fill="none" stroke="#333" stroke-width="0.5" stroke-opacity="0.08"/>
<polyline points="469.59,64.13 491.24,69.72" fill="none" stroke="#333" stroke-width="0.5" stroke-opacity="0.08"/>
<polyline points="469.59,49.68 491.24,44.7" fill="none" stroke="#333" stroke-width="0.5" stroke-opacity="0.08"/>
<polyline points="469.59,70.47 491.24,77.59" fill="none" stroke="#333" stroke-width="0.5" stroke-opacity="0.08"/>
<polyline points="469.59,69.51 491.24,72.66" fill="none" stroke="#333" stroke-width="0.5" stroke-opacity="0.08"/>
<polyline points="469.59,51.44 491.24,47.57" fill="none" stroke="#333" stroke-width="0.5" stroke-opacity="0.08"/>
<polyline points="469.59,53.27 491.24,60.29" fill="none" stroke="#333" stroke-width="0.5" stroke-opacity="0.08"/>
<polyline points="469.59,54.69 491.24,53.3" fill="none" stroke="#333" stroke-width="0.5" stroke-opacity="0.08"/>
<polyline points="469.59,58.59 491.24,53.7" fill="none" stroke="#333" stroke-width="0.5" stroke-opacity="0.08"/>
<polyline points="469.59,75.1 491.24,78.18" fill="none" stroke="#333" stroke-width="0.5" stroke-opacity="0.08"/>
<polyline points="469.59,55.57 491.24,51.26" fill="none" stroke="#333" stroke-width="0.5" stroke-opacity="0.08"/>
<polyline points="469.59,57.75 491.24,61.57" fill="none" stroke="#333" stroke-width="0.5" stroke-opacity="0.08"/>
<polyline points="469.59,60.13 491.24,58.13" fill="none" stroke="#333" stroke-width="0.5" stroke-opacity="0.08"/>
<polyline points="469.59,73.71 491.24,77.22" fill="none" stroke="#333" stroke-width="0.5" stroke-opacity="0.08"/>
<polyline points="469.59,69.48 491.24,75.52" fill="none" stroke="#333" stroke-width="0.5" stroke-opacity="0.08"/>
<polyline points="469.59,63.21 491.24,68.69" fill="none" stroke="#333" stroke-width="0.5" stroke-opacity="0.08"/>
<polyline points="469.59,70 491.24,75.8" fill="none" stroke="#333" stroke-width="0.5" stroke-opacity="0.08"/>
<polyline points="469.59,57.73 491.24,65.19" fill="none" stroke="#333" stroke-width="0.5" stroke-opacity="0.08"/>
<polyline points="469.59,56.62 491.24,61.76" fill="none" stroke="#333" stroke-width="0.5" stroke-opacity="0.08"/>
<polyline points="469.59,75.65 491.24,71.49" fill="none" stroke="#333" stroke-width="0.5" stroke-opacity="0.08"/>
<polyline points="469.59,70.5 491.24,66.26" fill="none" stroke="#333" stroke-width="0.5" stroke-opacity="0.08"/>
<polyline points="469.59,52.44 491.24,48.78" fill="none" stroke="#333" stroke-width="0.5" stroke-opacity="0.08"/>
<polyline points="469.59,72.76 491.24,74.7" fill="none" stroke="#333" stroke-width="0.5" stroke-opacity="0.08"/>
<polyline points="469.59,73.95 491.24,69.77" fill="none" stroke="#333" stroke-width="0.5" stroke-opacity="0.08"/>
<polyline points="469.59,53.13 491.24,52.77" fill="none" stroke="#333" stroke-width="0.5" stroke-opacity="0.08"/>
<polyline points="469.59,64.02 491.24,67.33" fill="none" stroke="#333" stroke-width="0.5" stroke-opacity="0.08"/>
<polyline points="469.59,53.66 491.24,55.22" fill="none" stroke="#333" stroke-width="0.5" stroke-opacity="0.08"/>
<polyline points="469.59,59.11 491.24,64.92" fill="none" stroke="#333" stroke-width="0.5" stroke-opacity="0.08"/>
<polyline points="469.59,70.47 491.24,77.37" fill="none" stroke="#333" stroke-width="0.5" stroke-opacity="0.08"/>
<polyline points="469.59,56.72 491.24,57.31" fill="none" stroke="#333" stroke-width="0.5" stroke-opacity="0.08"/>
</g>
<line x1="469.59" y1="44" x2="469.59" y2="80.5" stroke="#333" stroke-width="0.7" opacity="0.3"/>
<line x1="491.24" y1="44" x2="491.24" y2="80.5" stroke="#333" stroke-width="0.7" opacity="0.3"/>
<line x1="509.64" y1="44" x2="509.64" y2="80.5" stroke="#333" stroke-width="0.7" opacity="0.3"/>
<line x1="431.7" y1="28.3" x2="510" y2="28.3" stroke="#3a9a3a" stroke-width="1.3"/>
<line x1="428.7" y1="26.1" x2="428.7" y2="81.3" stroke="#231f20" stroke-width="1.1"/>
<line x1="428.2" y1="81.3" x2="510.5" y2="81.3" stroke="#231f20" stroke-width="1.1"/>
<line x1="425.2" y1="79.2" x2="428.7" y2="79.2" stroke="#231f20" stroke-width="1"/>
<line x1="425.2" y1="66.5" x2="428.7" y2="66.5" stroke="#231f20" stroke-width="1"/>
<line x1="425.2" y1="53.8" x2="428.7" y2="53.8" stroke="#231f20" stroke-width="1"/>
<line x1="425.2" y1="41.1" x2="428.7" y2="41.1" stroke="#231f20" stroke-width="1"/>
<line x1="425.2" y1="28.4" x2="428.7" y2="28.4" stroke="#231f20" stroke-width="1"/>
<text x="421.9" y="31.2" font-size="8.0" text-anchor="end" fill="#231f20" stroke="#231f20" stroke-width="0.18">1.0</text>
<text x="421.9" y="56.6" font-size="8.0" text-anchor="end" fill="#231f20" stroke="#231f20" stroke-width="0.18">0.5</text>
<text x="421.9" y="82" font-size="8.0" text-anchor="end" fill="#231f20" stroke="#231f20" stroke-width="0.18">0</text>
<line x1="431.7" y1="81.3" x2="431.7" y2="84.6" stroke="#231f20" stroke-width="1"/>
<text x="431.7" y="95.6" font-size="8.0" text-anchor="middle" fill="#231f20" stroke="#231f20" stroke-width="0.18">2</text>
<line x1="453.35" y1="81.3" x2="453.35" y2="84.6" stroke="#231f20" stroke-width="1"/>
<text x="453.35" y="95.6" font-size="8.0" text-anchor="middle" fill="#231f20" stroke="#231f20" stroke-width="0.18">3</text>
<line x1="475" y1="81.3" x2="475" y2="84.6" stroke="#231f20" stroke-width="1"/>
<text x="475" y="95.6" font-size="8.0" text-anchor="middle" fill="#231f20" stroke="#231f20" stroke-width="0.18">4</text>
<line x1="496.65" y1="81.3" x2="496.65" y2="84.6" stroke="#231f20" stroke-width="1"/>
<text x="496.65" y="95.6" font-size="8.0" text-anchor="middle" fill="#231f20" stroke="#231f20" stroke-width="0.18">5</text>
<text x="469.5" y="108.7" font-size="9.8" text-anchor="middle" fill="#231f20" stroke="#231f20" stroke-width="0.3" textLength="15.9" lengthAdjust="spacingAndGlyphs">Years</text>
<text x="0" y="0" font-size="9.8" text-anchor="middle" fill="#231f20" stroke="#231f20" stroke-width="0.3" textLength="12.2" lengthAdjust="spacingAndGlyphs" transform="translate(406.4,53.6) rotate(-90)">CCF</text>
<text x="434.5" y="136.3" font-size="7.3" text-anchor="start" fill="#231f20" stroke="#231f20" stroke-width="0.18" textLength="37.6" lengthAdjust="spacingAndGlyphs"><tspan font-style="italic">P</tspan> = 0.002 (</text>
<circle cx="476.1" cy="133.9" r="2.3" fill="#8e8cc8"/>
<text x="480" y="136.3" font-size="7.3" text-anchor="start" fill="#231f20" stroke="#231f20" stroke-width="0.18" font-style="italic" textLength="9.5" lengthAdjust="spacingAndGlyphs">vs.</text>
<circle cx="492.9" cy="133.9" r="2.3" fill="#e8901a"/>
<text x="496.4" y="136.3" font-size="7.3" text-anchor="start" fill="#231f20" stroke="#231f20" stroke-width="0.18">)</text>
<polyline points="463.96,189.2 464.2,189.2 464.45,189.2 464.69,189.2 464.94,189.2 465.18,189.2 465.42,189.2 465.67,189.2 465.91,189.2 466.16,189.2 466.4,189.2 466.64,189.2 466.89,189.19 467.13,189.19 467.38,189.19 467.62,189.19 467.86,189.18 468.11,189.18 468.35,189.17 468.6,189.17 468.84,189.16 469.08,189.15 469.33,189.13 469.57,189.11 469.82,189.09 470.06,189.06 470.3,189.03 470.55,188.99 470.79,188.94 471.04,188.88 471.28,188.81 471.52,188.72 471.77,188.62 472.01,188.5 472.26,188.35 472.5,188.19 472.74,187.99 472.99,187.77 473.23,187.51 473.48,187.21 473.72,186.87 473.96,186.49 474.21,186.05 474.45,185.56 474.7,185.01 474.94,184.41 475.18,183.73 475.43,183 475.67,182.19 475.92,181.31 476.16,180.37 476.4,179.35 476.65,178.27 476.89,177.12 477.14,175.91 477.38,174.64 477.62,173.32 477.87,171.96 478.11,170.56 478.36,169.15 478.6,167.72 478.84,166.29 479.09,164.87 479.33,163.48 479.58,162.13 479.82,160.84 480.06,159.61 480.31,158.48 480.55,157.43 480.8,156.5 481.04,155.69 481.28,155.02 481.53,154.48 481.77,154.09 482.02,153.86 482.26,153.78 482.5,153.86 482.75,154.09 482.99,154.48 483.24,155.02 483.48,155.69 483.72,156.5 483.97,157.43 484.21,158.48 484.46,159.61 484.7,160.84 484.94,162.13 485.19,163.48 485.43,164.87 485.68,166.29 485.92,167.72 486.16,169.15 486.41,170.56 486.65,171.96 486.9,173.32 487.14,174.64 487.38,175.91 487.63,177.12 487.87,178.27 488.12,179.35 488.36,180.37 488.6,181.31 488.85,182.19 489.09,183 489.34,183.73 489.58,184.41 489.82,185.01 490.07,185.56 490.31,186.05 490.56,186.49 490.8,186.87 491.04,187.21 491.29,187.51 491.53,187.77 491.78,187.99 492.02,188.19 492.26,188.35 492.51,188.5 492.75,188.62 493,188.72 493.24,188.81 493.48,188.88 493.73,188.94 493.97,188.99 494.22,189.03 494.46,189.06 494.7,189.09 494.95,189.11 495.19,189.13 495.44,189.15 495.68,189.16 495.92,189.17 496.17,189.17 496.41,189.18 496.66,189.18 496.9,189.19 497.14,189.19 497.39,189.19 497.63,189.19 497.88,189.2 498.12,189.2 498.36,189.2 498.61,189.2 498.85,189.2 499.1,189.2 499.34,189.2 499.58,189.2 499.83,189.2 500.07,189.2 500.32,189.2 500.56,189.2 500.8,189.2 501.05,189.2 501.29,189.2 501.54,189.2 501.78,189.2 502.02,189.2 502.27,189.2 502.51,189.2 502.76,189.2 503,189.2" fill="none" stroke="#8e8cc8" stroke-width="1.0" stroke-linejoin="round"/>
<polyline points="446.88,189.2 447.15,189.2 447.43,189.2 447.7,189.2 447.98,189.2 448.25,189.2 448.53,189.2 448.8,189.2 449.08,189.2 449.35,189.2 449.62,189.2 449.9,189.2 450.17,189.2 450.45,189.2 450.72,189.2 451,189.2 451.27,189.2 451.55,189.2 451.82,189.2 452.1,189.2 452.37,189.19 452.64,189.19 452.92,189.19 453.19,189.19 453.47,189.19 453.74,189.18 454.02,189.18 454.29,189.17 454.57,189.16 454.84,189.15 455.11,189.14 455.39,189.13 455.66,189.11 455.94,189.09 456.21,189.06 456.49,189.03 456.76,188.99 457.04,188.95 457.31,188.89 457.59,188.83 457.86,188.76 458.13,188.67 458.41,188.57 458.68,188.45 458.96,188.32 459.23,188.16 459.51,187.98 459.78,187.78 460.06,187.55 460.33,187.29 460.6,186.99 460.88,186.66 461.15,186.29 461.43,185.88 461.7,185.43 461.98,184.93 462.25,184.39 462.53,183.8 462.8,183.15 463.08,182.46 463.35,181.72 463.62,180.93 463.9,180.09 464.17,179.21 464.45,178.28 464.72,177.31 465,176.31 465.27,175.28 465.55,174.22 465.82,173.15 466.09,172.07 466.37,170.98 466.64,169.9 466.92,168.84 467.19,167.8 467.47,166.8 467.74,165.84 468.02,164.94 468.29,164.1 468.57,163.33 468.84,162.64 469.11,162.04 469.39,161.54 469.66,161.13 469.94,160.83 470.21,160.64 470.49,160.56 470.76,160.59 471.04,160.73 471.31,160.98 471.58,161.34 471.86,161.81 472.13,162.36 472.41,163.01 472.68,163.75 472.96,164.56 473.23,165.43 473.51,166.37 473.78,167.35 474.06,168.38 474.33,169.43 474.6,170.5 474.88,171.59 475.15,172.67 475.43,173.75 475.7,174.81 475.98,175.86 476.25,176.87 476.53,177.86 476.8,178.8 477.07,179.71 477.35,180.56 477.62,181.38 477.9,182.14 478.17,182.85 478.45,183.52 478.72,184.13 479,184.7 479.27,185.21 479.55,185.69 479.82,186.12 480.09,186.5 480.37,186.85 480.64,187.16 480.92,187.44 481.19,187.68 481.47,187.9 481.74,188.09 482.02,188.25 482.29,188.4 482.56,188.52 482.84,188.63 483.11,188.72 483.39,188.8 483.66,188.87 483.94,188.93 484.21,188.97 484.49,189.01 484.76,189.05 485.04,189.08 485.31,189.1 485.58,189.12 485.86,189.13 486.13,189.15 486.41,189.16 486.68,189.17 486.96,189.17 487.23,189.18 487.51,189.18 487.78,189.19 488.05,189.19 488.33,189.19 488.6,189.19 488.88,189.2 489.15,189.2 489.43,189.2 489.7,189.2 489.98,189.2 490.25,189.2 490.53,189.2 490.8,189.2" fill="none" stroke="#2e6b45" stroke-width="1.0" stroke-linejoin="round"/>
<polyline points="445.66,189.2 445.83,189.2 446,189.2 446.16,189.2 446.33,189.2 446.5,189.2 446.67,189.2 446.83,189.2 447,189.2 447.17,189.2 447.34,189.2 447.51,189.2 447.67,189.2 447.84,189.2 448.01,189.2 448.18,189.2 448.34,189.2 448.51,189.2 448.68,189.2 448.85,189.2 449.01,189.2 449.18,189.2 449.35,189.19 449.52,189.19 449.69,189.19 449.85,189.18 450.02,189.16 450.19,189.14 450.36,189.12 450.52,189.07 450.69,189.01 450.86,188.92 451.03,188.8 451.2,188.64 451.36,188.42 451.53,188.14 451.7,187.78 451.87,187.32 452.03,186.77 452.2,186.1 452.37,185.31 452.54,184.4 452.71,183.37 452.87,182.23 453.04,180.99 453.21,179.67 453.38,178.29 453.54,176.87 453.71,175.45 453.88,174.03 454.05,172.65 454.22,171.31 454.38,170.02 454.55,168.78 454.72,167.6 454.89,166.47 455.05,165.37 455.22,164.31 455.39,163.28 455.56,162.28 455.72,161.31 455.89,160.39 456.06,159.52 456.23,158.73 456.4,158.02 456.56,157.4 456.73,156.9 456.9,156.5 457.07,156.22 457.23,156.03 457.4,155.91 457.57,155.86 457.74,155.83 457.91,155.79 458.07,155.71 458.24,155.56 458.41,155.3 458.58,154.92 458.74,154.41 458.91,153.76 459.08,152.97 459.25,152.07 459.42,151.09 459.58,150.05 459.75,149.02 459.92,148.03 460.09,147.14 460.25,146.4 460.42,145.86 460.59,145.56 460.76,145.55 460.93,145.84 461.09,146.45 461.26,147.39 461.43,148.64 461.6,150.19 461.76,152.01 461.93,154.06 462.1,156.3 462.27,158.67 462.44,161.14 462.6,163.65 462.77,166.15 462.94,168.6 463.11,170.97 463.27,173.21 463.44,175.32 463.61,177.26 463.78,179.03 463.94,180.62 464.11,182.03 464.28,183.26 464.45,184.33 464.62,185.25 464.78,186.02 464.95,186.67 465.12,187.2 465.29,187.64 465.45,187.99 465.62,188.28 465.79,188.5 465.96,188.67 466.13,188.81 466.29,188.91 466.46,188.99 466.63,189.05 466.8,189.09 466.96,189.12 467.13,189.15 467.3,189.16 467.47,189.17 467.64,189.18 467.8,189.19 467.97,189.19 468.14,189.19 468.31,189.2 468.47,189.2 468.64,189.2 468.81,189.2 468.98,189.2 469.14,189.2 469.31,189.2 469.48,189.2 469.65,189.2 469.82,189.2 469.98,189.2 470.15,189.2 470.32,189.2 470.49,189.2 470.65,189.2 470.82,189.2 470.99,189.2 471.16,189.2 471.33,189.2 471.49,189.2 471.66,189.2 471.83,189.2 472,189.2 472.16,189.2 472.33,189.2 472.5,189.2" fill="none" stroke="#6aaee0" stroke-width="1.0" stroke-linejoin="round"/>
<polyline points="455.42,189.2 455.53,189.2 455.65,189.2 455.76,189.2 455.88,189.2 455.99,189.2 456.11,189.2 456.22,189.2 456.33,189.2 456.45,189.2 456.56,189.2 456.68,189.2 456.79,189.19 456.91,189.19 457.02,189.19 457.14,189.19 457.25,189.18 457.36,189.18 457.48,189.17 457.59,189.16 457.71,189.15 457.82,189.13 457.94,189.12 458.05,189.09 458.16,189.07 458.28,189.03 458.39,188.99 458.51,188.94 458.62,188.88 458.74,188.81 458.85,188.72 458.97,188.61 459.08,188.49 459.19,188.34 459.31,188.17 459.42,187.96 459.54,187.72 459.65,187.45 459.77,187.13 459.88,186.76 460,186.35 460.11,185.88 460.22,185.34 460.34,184.75 460.45,184.08 460.57,183.33 460.68,182.52 460.8,181.62 460.91,180.63 461.02,179.57 461.14,178.42 461.25,177.18 461.37,175.87 461.48,174.47 461.6,173.01 461.71,171.47 461.82,169.88 461.94,168.24 462.05,166.56 462.17,164.86 462.28,163.15 462.4,161.44 462.51,159.75 462.63,158.1 462.74,156.5 462.85,154.98 462.97,153.54 463.08,152.21 463.2,151.01 463.31,149.94 463.43,149.01 463.54,148.26 463.65,147.67 463.77,147.27 463.88,147.05 464,147.01 464.11,147.17 464.23,147.52 464.34,148.04 464.46,148.74 464.57,149.61 464.68,150.63 464.8,151.8 464.91,153.09 465.03,154.49 465.14,155.99 465.26,157.56 465.37,159.2 465.48,160.88 465.6,162.58 465.71,164.29 465.83,166 465.94,167.69 466.06,169.34 466.17,170.95 466.29,172.5 466.4,173.99 466.51,175.41 466.63,176.75 466.74,178.01 466.86,179.19 466.97,180.29 467.09,181.3 467.2,182.22 467.31,183.07 467.43,183.84 467.54,184.53 467.66,185.15 467.77,185.71 467.89,186.2 468,186.63 468.12,187.01 468.23,187.35 468.34,187.64 468.46,187.89 468.57,188.1 468.69,188.28 468.8,188.44 468.92,188.57 469.03,188.69 469.14,188.78 469.26,188.86 469.37,188.92 469.49,188.98 469.6,189.02 469.72,189.06 469.83,189.09 469.95,189.11 470.06,189.13 470.17,189.14 470.29,189.16 470.4,189.17 470.52,189.17 470.63,189.18 470.75,189.18 470.86,189.19 470.97,189.19 471.09,189.19 471.2,189.19 471.32,189.2 471.43,189.2 471.55,189.2 471.66,189.2 471.78,189.2 471.89,189.2 472,189.2 472.12,189.2 472.23,189.2 472.35,189.2 472.46,189.2 472.58,189.2 472.69,189.2 472.8,189.2 472.92,189.2 473.03,189.2 473.15,189.2 473.26,189.2 473.38,189.2 473.49,189.2 473.61,189.2 473.72,189.2" fill="none" stroke="#e8901a" stroke-width="0.9" stroke-linejoin="round"/>
<polyline points="429.8,189.2 430.26,189.2 430.71,189.2 431.17,189.2 431.63,189.2 432.09,189.2 432.54,189.2 433,189.2 433.46,189.2 433.92,189.2 434.38,189.2 434.83,189.2 435.29,189.2 435.75,189.2 436.2,189.2 436.66,189.2 437.12,189.2 437.58,189.2 438.03,189.2 438.49,189.2 438.95,189.2 439.41,189.2 439.87,189.2 440.32,189.2 440.78,189.2 441.24,189.2 441.69,189.2 442.15,189.2 442.61,189.2 443.07,189.2 443.52,189.2 443.98,189.2 444.44,189.2 444.9,189.2 445.35,189.2 445.81,189.2 446.27,189.2 446.73,189.2 447.19,189.19 447.64,189.19 448.1,189.18 448.56,189.18 449.01,189.16 449.47,189.14 449.93,189.11 450.39,189.07 450.84,189.01 451.3,188.93 451.76,188.81 452.22,188.64 452.67,188.43 453.13,188.14 453.59,187.76 454.05,187.28 454.5,186.67 454.96,185.91 455.42,184.98 455.88,183.86 456.33,182.54 456.79,181 457.25,179.25 457.71,177.29 458.16,175.14 458.62,172.82 459.08,170.39 459.54,167.88 460,165.38 460.45,162.94 460.91,160.64 461.37,158.57 461.82,156.8 462.28,155.39 462.74,154.4 463.2,153.87 463.65,153.82 464.11,154.25 464.57,155.15 465.03,156.48 465.48,158.19 465.94,160.21 466.4,162.46 466.86,164.88 467.31,167.38 467.77,169.89 468.23,172.35 468.69,174.69 469.14,176.88 469.6,178.88 470.06,180.67 470.52,182.25 470.97,183.61 471.43,184.77 471.89,185.74 472.35,186.53 472.8,187.17 473.26,187.67 473.72,188.07 474.18,188.37 474.63,188.6 475.09,188.77 475.55,188.9 476.01,188.99 476.46,189.05 476.92,189.09 477.38,189.11 477.84,189.12 478.29,189.12 478.75,189.11 479.21,189.09 479.67,189.06 480.12,189.02 480.58,188.97 481.04,188.91 481.5,188.84 481.95,188.76 482.41,188.67 482.87,188.57 483.33,188.46 483.78,188.34 484.24,188.23 484.7,188.11 485.16,188 485.61,187.9 486.07,187.81 486.53,187.74 486.99,187.69 487.44,187.67 487.9,187.66 488.36,187.68 488.82,187.72 489.27,187.79 489.73,187.87 490.19,187.97 490.65,188.07 491.1,188.19 491.56,188.3 492.02,188.42 492.48,188.53 492.93,188.64 493.39,188.73 493.85,188.82 494.31,188.89 494.76,188.95 495.22,189.01 495.68,189.05 496.14,189.09 496.59,189.12 497.05,189.14 497.51,189.16 497.97,189.17 498.42,189.18 498.88,189.18 499.34,189.19 499.8,189.19 500.25,189.2 500.71,189.2 501.17,189.2 501.63,189.2 502.08,189.2 502.54,189.2 503,189.2" fill="none" stroke="#c8102e" stroke-width="1.3" stroke-linejoin="round"/>
<line x1="466.4" y1="142.38" x2="466.4" y2="189.2" stroke="#6aaa3c" stroke-width="0.9" stroke-dasharray="1.2,1"/>
<line x1="428.2" y1="142" x2="428.2" y2="191.7" stroke="#231f20" stroke-width="1.1"/>
<line x1="427.7" y1="191.7" x2="505.5" y2="191.7" stroke="#231f20" stroke-width="1.1"/>
<line x1="424.4" y1="152.24" x2="428.2" y2="152.24" stroke="#231f20" stroke-width="1"/>
<text x="421.2" y="155.04" font-size="8.0" text-anchor="end" fill="#231f20" stroke="#231f20" stroke-width="0.18">1.2</text>
<line x1="424.4" y1="164.56" x2="428.2" y2="164.56" stroke="#231f20" stroke-width="1"/>
<text x="421.2" y="167.36" font-size="8.0" text-anchor="end" fill="#231f20" stroke="#231f20" stroke-width="0.18">0.8</text>
<line x1="424.4" y1="176.88" x2="428.2" y2="176.88" stroke="#231f20" stroke-width="1"/>
<text x="421.2" y="179.68" font-size="8.0" text-anchor="end" fill="#231f20" stroke="#231f20" stroke-width="0.18">0.4</text>
<line x1="424.4" y1="189.2" x2="428.2" y2="189.2" stroke="#231f20" stroke-width="1"/>
<text x="421.2" y="192" font-size="8.0" text-anchor="end" fill="#231f20" stroke="#231f20" stroke-width="0.18">0</text>
<line x1="429.8" y1="191.7" x2="429.8" y2="195" stroke="#231f20" stroke-width="1"/>
<line x1="442" y1="191.7" x2="442" y2="195" stroke="#231f20" stroke-width="1"/>
<line x1="454.2" y1="191.7" x2="454.2" y2="195" stroke="#231f20" stroke-width="1"/>
<line x1="466.4" y1="191.7" x2="466.4" y2="195" stroke="#231f20" stroke-width="1"/>
<line x1="478.6" y1="191.7" x2="478.6" y2="195" stroke="#231f20" stroke-width="1"/>
<line x1="490.8" y1="191.7" x2="490.8" y2="195" stroke="#231f20" stroke-width="1"/>
<line x1="503" y1="191.7" x2="503" y2="195" stroke="#231f20" stroke-width="1"/>
<text x="441.5" y="205.8" font-size="8.0" text-anchor="middle" fill="#231f20" stroke="#231f20" stroke-width="0.18">-2</text>
<text x="465.9" y="205.8" font-size="8.0" text-anchor="middle" fill="#231f20" stroke="#231f20" stroke-width="0.18">0</text>
<text x="490.3" y="205.8" font-size="8.0" text-anchor="middle" fill="#231f20" stroke="#231f20" stroke-width="0.18">2</text>
<text x="466.3" y="218" font-size="9.0" text-anchor="middle" fill="#231f20" stroke="#231f20" stroke-width="0.3" textLength="52.5" lengthAdjust="spacingAndGlyphs">&#916;GR from parent</text>
<text x="0" y="0" font-size="9.8" text-anchor="middle" fill="#231f20" stroke="#231f20" stroke-width="0.3" textLength="10.8" lengthAdjust="spacingAndGlyphs" transform="translate(406.4,168.7) rotate(-90)">PDF</text>
<text x="510" y="147.5" font-size="7.2" text-anchor="middle" fill="#c8102e" stroke="#c8102e" stroke-width="0.18">5</text>
<text x="510" y="153.8" font-size="7.2" text-anchor="middle" fill="#8e8cc8" stroke="#8e8cc8" stroke-width="0.18">4</text>
<text x="510" y="161.2" font-size="7.2" text-anchor="middle" fill="#2e6b45" stroke="#2e6b45" stroke-width="0.18">3</text>
<text x="510" y="168.7" font-size="7.2" text-anchor="middle" fill="#e8901a" stroke="#e8901a" stroke-width="0.18">2</text>
<text x="510" y="175.5" font-size="7.2" text-anchor="middle" fill="#6aaee0" stroke="#6aaee0" stroke-width="0.18">1</text>
<text x="510" y="182.5" font-size="7.2" text-anchor="middle" fill="#6aaa3c" stroke="#6aaa3c" stroke-width="0.18">0</text>
<text x="359.4" y="255.9" font-size="11.5" text-anchor="start" fill="#000" font-weight="bold">E</text>
<text x="413.7" y="266.1" font-size="7.3" text-anchor="start" fill="#231f20" stroke="#231f20" stroke-width="0.18" textLength="33.7" lengthAdjust="spacingAndGlyphs"><tspan font-style="italic">P</tspan> = 0.013</text>
<rect x="416.4" y="333.6" width="12.2" height="19.2" fill="#e3e3e3"/>
<rect x="435.6" y="307.3" width="12.1" height="31.5" fill="#e3e3e3"/>
<line x1="400.5" y1="341.4" x2="458" y2="341.4" stroke="#231f20" stroke-width="0.9" stroke-dasharray="1.6,1.2"/>
<line x1="422.2" y1="320.2" x2="422.2" y2="375.6" stroke="#231f20" stroke-width="1"/>
<line x1="419" y1="320.2" x2="425.4" y2="320.2" stroke="#231f20" stroke-width="1"/>
<line x1="419" y1="375.6" x2="425.4" y2="375.6" stroke="#231f20" stroke-width="1"/>
<line x1="441.8" y1="274.5" x2="441.8" y2="367.8" stroke="#231f20" stroke-width="1"/>
<line x1="438.6" y1="274.5" x2="445" y2="274.5" stroke="#231f20" stroke-width="1"/>
<line x1="438.6" y1="367.8" x2="445" y2="367.8" stroke="#231f20" stroke-width="1"/>
<circle cx="422.2" cy="320.2" r="1.25" fill="#e58cbd"/>
<circle cx="418.7" cy="332.4" r="1.25" fill="#e58cbd"/>
<circle cx="421" cy="334.5" r="1.25" fill="#b0102c"/>
<circle cx="424.5" cy="333" r="1.25" fill="#b0102c"/>
<circle cx="422.8" cy="336.5" r="1.25" fill="#e58cbd"/>
<circle cx="421.6" cy="293.8" r="1.25" fill="#e58cbd"/>
<circle cx="420.5" cy="342.3" r="1.25" fill="#e58cbd"/>
<circle cx="424.6" cy="342.6" r="1.25" fill="#e58cbd"/>
<circle cx="419.3" cy="345.8" r="1.25" fill="#e58cbd"/>
<circle cx="421.6" cy="346.4" r="1.25" fill="#e58cbd"/>
<circle cx="424" cy="347.3" r="1.25" fill="#b0102c"/>
<circle cx="420.5" cy="352.8" r="1.25" fill="#b0102c"/>
<circle cx="422.5" cy="352.8" r="1.25" fill="#b0102c"/>
<circle cx="425" cy="352.8" r="1.25" fill="#b0102c"/>
<circle cx="422.2" cy="358" r="1.25" fill="#b0102c"/>
<circle cx="419.3" cy="359.2" r="1.25" fill="#e58cbd"/>
<circle cx="422.2" cy="377.2" r="1.25" fill="#b0102c"/>
<circle cx="418.5" cy="336.8" r="1.25" fill="#b0102c"/>
<circle cx="425.5" cy="335.6" r="1.25" fill="#e58cbd"/>
<circle cx="441.8" cy="274.5" r="1.6" fill="#6a0a1c" stroke="#2a0508" stroke-width="0.55"/>
<circle cx="441.8" cy="293.2" r="1.6" fill="#6a0a1c" stroke="#2a0508" stroke-width="0.55"/>
<circle cx="441.8" cy="297.9" r="1.6" fill="#6a0a1c" stroke="#2a0508" stroke-width="0.55"/>
<circle cx="441.8" cy="303.1" r="1.6" fill="#6a0a1c" stroke="#2a0508" stroke-width="0.55"/>
<circle cx="441.8" cy="310.9" r="1.6" fill="#6a0a1c" stroke="#2a0508" stroke-width="0.55"/>
<circle cx="441.8" cy="315.6" r="1.6" fill="#6a0a1c" stroke="#2a0508" stroke-width="0.55"/>
<circle cx="441.8" cy="323" r="1.6" fill="#6a0a1c" stroke="#2a0508" stroke-width="0.55"/>
<circle cx="442.6" cy="329.6" r="1.25" fill="#b0102c"/>
<circle cx="444" cy="330.5" r="1.25" fill="#b0102c"/>
<circle cx="441.8" cy="335.2" r="1.25" fill="#e58cbd"/>
<circle cx="441.2" cy="338.5" r="1.25" fill="#b0102c"/>
<circle cx="442.6" cy="339.8" r="1.25" fill="#b0102c"/>
<circle cx="441.8" cy="352" r="1.25" fill="#b0102c"/>
<circle cx="441.8" cy="357.6" r="1.25" fill="#b0102c"/>
<circle cx="441.8" cy="367.8" r="1.25" fill="#b0102c"/>
<line x1="416.4" y1="344.4" x2="428.6" y2="344.4" stroke="#000" stroke-width="1.4"/>
<line x1="435.6" y1="328.7" x2="447.7" y2="328.7" stroke="#000" stroke-width="1.4"/>
<line x1="400.5" y1="270.5" x2="400.5" y2="378.3" stroke="#231f20" stroke-width="1.1"/>
<line x1="400" y1="377.8" x2="461" y2="377.8" stroke="#231f20" stroke-width="1.1"/>
<line x1="397.2" y1="275.9" x2="400.5" y2="275.9" stroke="#231f20" stroke-width="1"/>
<text x="394" y="278.7" font-size="7.9" text-anchor="end" fill="#231f20" stroke="#231f20" stroke-width="0.18">1.25</text>
<line x1="397.2" y1="289" x2="400.5" y2="289" stroke="#231f20" stroke-width="1"/>
<text x="394" y="291.8" font-size="7.9" text-anchor="end" fill="#231f20" stroke="#231f20" stroke-width="0.18">1.00</text>
<line x1="397.2" y1="302.1" x2="400.5" y2="302.1" stroke="#231f20" stroke-width="1"/>
<text x="394" y="304.9" font-size="7.9" text-anchor="end" fill="#231f20" stroke="#231f20" stroke-width="0.18">0.75</text>
<line x1="397.2" y1="315.2" x2="400.5" y2="315.2" stroke="#231f20" stroke-width="1"/>
<text x="394" y="318" font-size="7.9" text-anchor="end" fill="#231f20" stroke="#231f20" stroke-width="0.18">0.50</text>
<line x1="397.2" y1="328.3" x2="400.5" y2="328.3" stroke="#231f20" stroke-width="1"/>
<text x="394" y="331.1" font-size="7.9" text-anchor="end" fill="#231f20" stroke="#231f20" stroke-width="0.18">0.25</text>
<line x1="397.2" y1="341.4" x2="400.5" y2="341.4" stroke="#231f20" stroke-width="1"/>
<text x="394" y="344.2" font-size="7.9" text-anchor="end" fill="#231f20" stroke="#231f20" stroke-width="0.18">0</text>
<line x1="397.2" y1="354.5" x2="400.5" y2="354.5" stroke="#231f20" stroke-width="1"/>
<text x="394" y="357.3" font-size="7.9" text-anchor="end" fill="#231f20" stroke="#231f20" stroke-width="0.18">-0.25</text>
<line x1="397.2" y1="367.6" x2="400.5" y2="367.6" stroke="#231f20" stroke-width="1"/>
<text x="394" y="370.4" font-size="7.9" text-anchor="end" fill="#231f20" stroke="#231f20" stroke-width="0.18">-0.50</text>
<line x1="422.2" y1="377.8" x2="422.2" y2="380.5" stroke="#231f20" stroke-width="1"/>
<line x1="441.8" y1="377.8" x2="441.8" y2="380.5" stroke="#231f20" stroke-width="1"/>
<text x="421.9" y="391.3" font-size="7.9" text-anchor="middle" fill="#231f20" stroke="#231f20" stroke-width="0.18">0</text>
<text x="441.5" y="391.3" font-size="7.9" text-anchor="middle" fill="#231f20" stroke="#231f20" stroke-width="0.18">1+</text>
<text x="430.9" y="405" font-size="9.4" text-anchor="middle" fill="#231f20" stroke="#231f20" stroke-width="0.3" textLength="31" lengthAdjust="spacingAndGlyphs">Number of</text>
<text x="430.7" y="415.5" font-size="9.4" text-anchor="middle" fill="#231f20" stroke="#231f20" stroke-width="0.3" textLength="49" lengthAdjust="spacingAndGlyphs">additional drivers</text>
<text x="0" y="0" font-size="8.6" text-anchor="middle" fill="#231f20" stroke="#231f20" stroke-width="0.3" textLength="104.6" lengthAdjust="spacingAndGlyphs" transform="translate(370.6,325.0) rotate(-90)">Clone growth rate relative to parent</text>
<text x="387.9" y="438.1" font-size="7.3" text-anchor="start" fill="#231f20" stroke="#231f20" stroke-width="0.18" textLength="85.4" lengthAdjust="spacingAndGlyphs">Subclones in patients with:</text>
<circle cx="408.4" cy="447.1" r="2.6" fill="#a8102c"/>
<text x="414.7" y="449.7" font-size="7.3" text-anchor="start" fill="#231f20" stroke="#231f20" stroke-width="0.18" textLength="38.4" lengthAdjust="spacingAndGlyphs">EXP growth</text>
<circle cx="408.4" cy="459.2" r="2.6" fill="#e3a0c8"/>
<text x="414.7" y="461.8" font-size="7.3" text-anchor="start" fill="#231f20" stroke="#231f20" stroke-width="0.18" textLength="37.6" lengthAdjust="spacingAndGlyphs">IND growth</text>
<circle cx="408.4" cy="471.3" r="2.2" fill="#fff" stroke="#231f20" stroke-width="1"/>
<text x="414.7" y="473.9" font-size="7.3" text-anchor="start" fill="#231f20" stroke="#231f20" stroke-width="0.18" textLength="57.1" lengthAdjust="spacingAndGlyphs">Significant growth</text>
<text x="414.7" y="482.9" font-size="7.3" text-anchor="start" fill="#231f20" stroke="#231f20" stroke-width="0.18">advantage</text>
<text x="413.8" y="491.6" font-size="7.3" text-anchor="start" fill="#231f20" stroke="#231f20" stroke-width="0.18" font-style="italic" textLength="34" lengthAdjust="spacingAndGlyphs">(<tspan font-style="italic">P</tspan> &lt; 0.05)</text>
<rect x="0" y="0" width="520" height="1.1" fill="#000"/>
<rect x="0" y="0" width="1.15" height="558" fill="#000"/>
<rect x="518.8" y="0" width="1.2" height="558" fill="#000"/>
<rect x="0" y="556.6" width="520" height="1.4" fill="#000"/>
</svg>
</body></html>
